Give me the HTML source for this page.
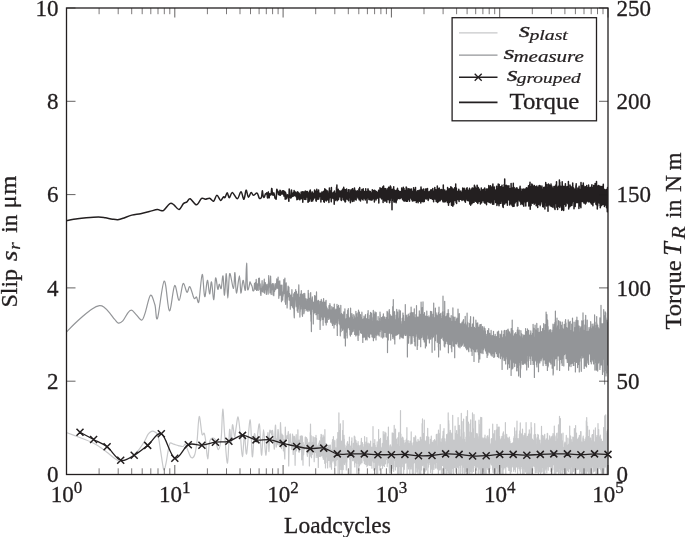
<!DOCTYPE html>
<html><head><meta charset="utf-8"><style>
html,body{margin:0;padding:0;background:#fff;}
svg{display:block;will-change:transform;}
text{font-family:"Liberation Serif",serif;fill:#231f20;stroke:#231f20;}
</style></head><body>
<svg width="685" height="537" viewBox="0 0 685 537">
<defs><clipPath id="c"><rect x="66.5" y="8.0" width="541.5" height="466.5"/></clipPath></defs>
<rect width="685" height="537" fill="#fff"/>
<g clip-path="url(#c)" fill="none" stroke-linejoin="round">
<path d="M66.3 432.5C68.5 433.3 75.3 435.8 79.8 437.5C84.3 439.2 89.2 441 93.2 443C97.2 445 100 446.9 103.8 449.7C107.6 452.5 113.5 457.7 116.3 459.6C119 461.5 118.5 461 120.3 460.9C122.1 460.8 124.7 460 127 459C129.3 458 132.1 456.2 134 454.7C135.9 453.2 136.9 452.2 138.7 450C140.4 447.8 142.9 443.9 144.5 441.3C146.1 438.7 146.8 436 148 434.3C149.2 432.6 150.3 431.8 151.5 431.4C152.7 431 153.9 431.3 155 432C156.1 432.7 157.1 432.6 158 435.4C158.9 438.2 159.5 444.1 160.3 448.9C161.1 453.7 162 460.5 162.6 464C163.2 467.5 163.5 470.1 164.1 469.9C164.7 469.7 165.4 466.4 166.1 462.9C166.8 459.4 167.8 452.2 168.5 448.9C169.2 445.6 169.3 443.8 170.2 443C171.1 442.2 172.3 443.8 173.7 444.2C175.1 444.6 176.8 445.2 178.4 445.6C180 446 181.9 446.7 183.1 446.5C184.3 446.3 184.6 443.6 185.4 444.2C186.2 444.8 186.7 447.8 187.7 450C188.7 452.2 190 456.8 191.2 457.6C192.4 458.4 193.7 457.5 194.7 454.7C195.7 451.9 196.3 447.1 197.1 440.7C197.8 434.3 198.4 417.6 199.2 416.5C200 415.4 201.2 431.2 202 434C202.8 436.8 203.6 432.2 204.2 433.3C204.8 434.4 205 436.1 205.6 440.4C206.2 444.6 207 458.7 207.7 458.8C208.4 458.9 208.6 444.3 209.8 441C211 437.7 213.4 437.5 214.8 438.9C216.2 440.3 217.2 449.7 218.3 449.6C219.4 449.5 220.4 444.9 221.2 438.2C221.9 431.5 222.2 409.7 222.8 409.2C223.4 408.7 223.9 426.4 224.7 435.4C225.5 444.4 226.7 463.9 227.5 463C228.3 462.1 229 432.9 229.6 429.7C230.2 426.5 230.6 444.7 231.1 443.9C231.6 443.1 231.9 426 232.5 424.8C233.1 423.6 234 436.2 234.6 436.8C235.2 437.4 235.4 431.6 236 428.3C236.6 425 237.4 416.1 238.1 417C238.8 417.9 239.6 427.4 240.3 434C241 440.6 241.7 456.4 242.4 456.6C243.1 456.8 243.8 435.9 244.5 435.4C245.2 434.9 245.7 456.4 246.6 453.8C247.5 451.2 249.2 419.3 250.2 419.8C251.1 420.3 251.6 454.2 252.3 456.6C253 459 253.7 436.4 254.4 434C255.1 431.6 255.7 444.1 256.5 442.5C257.3 440.9 258.6 422 259.4 424.1C260.2 426.2 260.8 454.3 261.5 455.2C262.2 456.1 262.9 429.7 263.6 429.7C264.3 429.7 265.1 454.7 265.8 455.2C266.5 455.7 267.4 433.2 267.9 432.6C268.4 432 268.7 451.8 269 451.5C269.3 451.3 269.5 434.4 269.7 431.3C270 428.1 270.2 432.7 270.5 432.6C270.7 432.6 270.9 430.4 271.2 430.8C271.4 431.2 271.6 435.1 271.8 435C272.1 434.9 272.3 430 272.5 430.3C272.7 430.6 272.9 434.5 273.1 436.6C273.4 438.8 273.6 441.2 273.8 443.2C274 445.2 274.2 450.6 274.4 448.7C274.6 446.7 274.8 435.4 275 431.6C275.2 427.8 275.4 423.3 275.6 425.8C275.8 428.3 276 444.5 276.2 446.7C276.4 448.9 276.6 439.4 276.8 439C276.9 438.6 277.1 445.8 277.3 444.4C277.5 442.9 277.7 432.2 277.9 430.3C278 428.3 278.2 430.3 278.4 432.6C278.6 434.9 278.8 442.4 278.9 444.3C279.1 446.2 279.3 444.7 279.5 444C279.6 443.2 279.8 443.5 280 439.9C280.2 436.4 280.4 425.4 280.5 422.5L281,432.9 281.5,448.6 282,434.1 282.5,437.1 283,435.6 283.4,450.8 283.9,439.6 284.4,452.3 284.8,459 285.3,427.1 285.7,439.5 286.2,441 286.6,438.4 287,435.7 287.5,438.5 287.9,435.2 288.3,431.6 288.7,465.9 289.1,445.3 289.5,444.2 289.9,434.3 290.3,433.9 290.7,442.5 291.1,443 291.5,449.1 291.8,446.7 292.2,448 292.5,434 292.9,446 293.2,454.5 293.5,441 293.9,436.1 294.2,445.2 294.5,436.6 294.8,442 295.1,465.3 295.4,444.3 295.7,450.9 296,438.5 296.2,434.7 296.5,450.8 296.8,444.5 297.1,442.3 297.3,441.7 297.6,446.5 297.9,429.8 298.1,445.4 298.4,444.6 298.6,452 298.9,450.5 299.1,440 299.4,452.2 299.6,451.3 299.8,444.7 300.1,447.9 300.3,436 300.5,448.3 300.8,442.1 301,446.4 301.2,441.4 301.5,435.8 301.7,459.8 301.9,442.3 302.1,448.2 302.3,436.2 302.5,439 302.8,449.7 303,465.2 303.2,442.6 303.4,449.1 303.6,454.8 303.8,451.1 304,449.8 304.2,449 304.4,447.1 304.6,444.8 304.8,447.5 305,449.2 305.2,437.4 305.4,437 305.6,443.4 305.8,440 306,443.9 306.2,442.4 306.3,439 306.5,437.5 306.7,449.8 306.9,449.9 307.1,455.1 307.3,439 307.4,456.3 307.6,448.3 307.8,448.2 308,446.2 308.2,453 308.3,444.5 308.5,443.3 308.7,450.7 308.9,442.3 309,443.6 309.2,444.8 309.4,465.9 309.5,444.2 309.7,453.5 309.9,447.6 310,456.6 310.2,432.6 310.4,455.1 310.5,424.1 310.7,439.7 310.9,447 311,454.1 311.2,435.7 311.4,455.6 311.5,457.7 311.7,450.6 311.9,454.6 312,451.4 312.2,446 312.3,454.4 312.5,442.4 312.7,447.6 312.8,448.1 313,436.6 313.1,446.6 313.3,437.3 313.4,447 313.6,448.1 313.8,442.9 313.9,443.2 314.1,454.1 314.2,461.7 314.4,448.3 314.5,449.7 314.7,447.2 314.8,437.6 315,452.5 315.1,439.8 315.3,438.7 315.4,448.5 315.6,447.5 315.7,452 315.9,446.6 316,435.4 316.2,457.4 316.3,450.2 316.5,438.4 316.6,451.1 316.8,447.1 316.9,455.4 317.1,444.9 317.2,450.7 317.4,446.9 317.5,451.1 317.7,457.6 317.8,448.9 318,448.3 318.1,446.3 318.3,467.4 318.4,458.1 318.5,451 318.7,455.2 318.8,443.2 319,444.4 319.1,451.4 319.3,454.4 319.4,456.4 319.5,440.8 319.7,447.8 319.8,448.1 320,447.9 320.1,451.4 320.3,456.6 320.4,443.7 320.5,449.4 320.7,453.3 320.8,437.1 321,442 321.1,434.3 321.2,442.7 321.4,456 321.5,434.8 321.6,445.1 321.8,445.8 321.9,443.6 322.1,453.8 322.2,455.2 322.3,438.1 322.5,441.8 322.6,439.9 322.7,454 322.9,457.5 323,445 323.1,435.1 323.3,459.3 323.4,452.1 323.5,441.4 323.7,451.5 323.8,437 323.9,452.1 324.1,459 324.2,445 324.3,444.1 324.5,436.8 324.6,455.4 324.7,463.3 324.9,429.7 325,456 325.1,457.2 325.2,453.5 325.4,443.4 325.5,468 325.6,448.4 325.8,446 325.9,451.7 326,462.5 326.2,443.5 326.3,452.6 326.4,453 326.5,447 326.7,448.5 326.8,450.7 326.9,456.7 327,449.9 327.2,447.7 327.3,449.5 327.4,454.1 327.6,468 327.7,459.4 327.8,451.7 327.9,454.8 328.1,445.4 328.2,451.8 328.3,459.8 328.4,455.1 328.6,449.6 328.7,457.5 328.8,446 328.9,460.5 329,445.3 329.2,445.2 329.3,452.1 329.4,455.8 329.5,455.1 329.7,448.1 329.8,450.8 329.9,447 330,467.1 330.1,454.6 330.3,458.9 330.4,445.1 330.5,450.3 330.6,463.8 330.8,455.3 330.9,449.5 331,457.4 331.1,452 331.2,454.7 331.4,463.7 331.5,469.2 331.6,450.4 331.7,456.4 331.8,462.5 331.9,462.2 332.1,454.6 332.2,442.4 332.3,447.5 332.4,457.5 332.5,439.6 332.7,450.3 332.8,455.3 332.9,452.3 333,452.8 333.1,460.9 333.2,459.4 333.4,436.6 333.5,453.4 333.6,439.4 333.7,453.4 333.8,454.6 333.9,445.6 334.1,442.4 334.2,452.2 334.3,463.3 334.4,442.3 334.5,449 334.6,462.7 334.7,468.3 334.9,440.7 335,451.3 335.1,449.9 335.2,455.6 335.3,453.6 335.4,455 335.5,448.7 335.7,448.9 335.8,447.9 335.9,465.7 336,449.1 336.1,454.4 336.2,456.3 336.3,452 336.4,460.2 336.6,449.4 336.7,455.6 336.8,458.9 336.9,442 337,439.1 337.1,451.5 337.2,459.3 337.3,452.9 337.4,446.6 337.6,458.3 337.7,458.5 337.8,432.5 337.9,438.7 338,433.5 338.1,474.7 338.2,445.4 338.3,453 338.4,449.2 338.5,436.8 338.6,452.9 338.8,434.5 338.9,412.9 339,454.8 339.1,453.5 339.2,438 339.3,456 339.4,430.4 339.5,466.5 339.6,473.5 339.7,450.9 339.8,434.8 339.9,465 340.1,454.9 340.2,461.9 340.3,451.5 340.4,423.8 340.5,456.4 340.6,463.6 340.7,448.7 340.8,448 340.9,469.5 341,447.7 341.1,461.8 341.2,450.9 341.3,464.6 341.4,453.8 341.5,446.7 341.6,441.2 341.8,461.8 341.9,454.8 342,460.1 342.1,488 342.2,449.8 342.3,445.6 342.4,450.3 342.5,442.3 342.6,430.4 342.7,447.2 342.8,432.8 342.9,443 343,463.9 343.1,420.5 343.2,469.6 343.3,463.3 343.4,458.2 343.5,452.5 343.6,456.9 343.7,455.9 343.8,457.6 343.9,445.2 344,435.4 344.1,457.9 344.2,451.7 344.3,439.1 344.4,447.6 344.5,462.1 344.6,464.4 344.7,455.4 344.8,452.6 344.9,462.2 345,445.2 345.1,457.5 345.2,447.5 345.4,448.9 345.5,448.1 345.6,448.4 345.7,451.2 345.8,458.9 345.9,449.5 346,451.9 346.1,466.1 346.2,456.5 346.3,470 346.4,455.6 346.5,446 346.6,454.8 346.7,458.2 346.8,467.5 346.8,450 346.9,457.3 347,462 347.1,442.8 347.2,449.2 347.3,449.4 347.4,447.1 347.5,454.2 347.6,441.7 347.7,455.6 347.8,451.4 347.9,453.7 348,457.6 348.1,455.1 348.2,448 348.3,457.5 348.4,454.6 348.5,452.4 348.6,444.3 348.7,455.7 348.8,450.8 348.9,454 349,453.1 349.1,453.5 349.2,450.4 349.3,451.6 349.4,437 349.5,459.3 349.6,444.8 349.7,449.6 349.8,449.1 349.9,446.5 350,476.6 350.1,453.3 350.2,458 350.3,452.1 350.4,457.9 350.4,446.8 350.5,449.1 350.6,456 350.7,457.2 350.8,446.8 350.9,448.2 351,452.5 351.1,473.3 351.2,445.6 351.3,451.6 351.4,452.1 351.5,441.4 351.6,449.5 351.7,449 351.8,452.6 351.9,437.8 352,448.7 352.1,452.8 352.1,454.4 352.2,457.6 352.3,452.8 352.4,452.7 352.5,453.4 352.6,460.7 352.7,451.3 352.8,452.1 352.9,452.6 353,458.6 353.1,448.4 353.2,449.1 353.3,450.6 353.4,443.4 353.4,455.5 353.5,459.7 353.6,456.8 353.7,452 353.8,448.8 353.9,460.8 354,447.5 354.1,449.3 354.2,451.7 354.3,436.1 354.4,449.6 354.5,456.1 354.6,464.6 354.6,450 354.7,453.9 354.8,466.9 354.9,436.8 355,463 355.1,454 355.2,451.7 355.3,439.7 355.4,456.1 355.5,453.1 355.6,448.5 355.6,462.6 355.7,461.2 355.8,451.9 355.9,454.5 356,440.7 356.1,456.8 356.2,454.7 356.3,461.9 356.4,456.6 356.5,451.7 356.5,450.7 356.6,463.6 356.7,443.4 356.8,472.5 356.9,458.6 357,478.3 357.1,450.2 357.2,451 357.3,446.2 357.3,457.7 357.4,454.7 357.5,458.1 357.6,452 357.7,457.6 357.8,448 357.9,449.1 358,460.3 358.1,441.7 358.1,453.5 358.2,458.7 358.3,458.7 358.4,463.7 358.5,462.5 358.6,450.1 358.7,454.7 358.8,449.1 358.8,470.4 358.9,445.4 359,460.5 359.1,446.1 359.2,464.6 359.3,458.4 359.4,454.3 359.5,464.4 359.5,465.7 359.6,452 359.7,453.6 359.8,458.9 359.9,452.7 360,455.1 360.1,463.8 360.1,459.1 360.2,457.4 360.3,449.3 360.4,445.3 360.5,455.8 360.6,455.3 360.7,458.9 360.8,464 360.8,456.8 360.9,452 361,462.1 361.1,441.7 361.2,447 361.3,462.5 361.4,451.6 361.4,438.4 361.5,456 361.6,453.7 361.7,457.6 361.8,455.8 361.9,455 361.9,443.8 362,462.7 362.1,453.1 362.2,448.1 362.3,451.3 362.4,452.8 362.5,453 362.5,442.7 362.6,454.7 362.7,444.2 362.8,449.3 362.9,452 363,444.3 363,455.5 363.1,453 363.2,454.1 363.3,452.3 363.4,457.7 363.5,452.2 363.6,450.1 363.6,446.9 363.7,452.1 363.8,460.8 363.9,455.1 364,449.1 364.1,453.8 364.1,453.4 364.2,457.8 364.3,456.6 364.4,463.7 364.5,450.9 364.6,461.4 364.6,436.7 364.7,456 364.8,450.2 364.9,454.7 365,458.9 365,458.8 365.1,454.2 365.2,452.5 365.3,453.9 365.4,445 365.5,453.4 365.5,454.2 365.6,455.3 365.7,464.6 365.8,460.4 365.9,454 366,460.8 366,442 366.1,450 366.2,454.6 366.3,451.3 366.4,460.3 366.4,452.7 366.5,448 366.6,443.7 366.7,454.6 366.8,450.1 366.8,437.5 366.9,466.7 367,448.5 367.1,465.8 367.2,456.6 367.3,453.4 367.3,449.1 367.4,464 367.5,460.1 367.6,451.8 367.7,443.9 367.7,452.6 367.8,457.4 367.9,465.4 368,446.5 368.1,453.8 368.1,465.1 368.2,443 368.3,460.5 368.4,450.4 368.5,448.2 368.5,454.1 368.6,454.6 368.7,459.3 368.8,459.8 368.9,446.2 368.9,447.1 369,456.2 369.1,454.4 369.2,453.1 369.3,448.6 369.3,458.8 369.4,464.8 369.5,443.9 369.6,448.7 369.7,461.5 369.7,465.4 369.8,449 369.9,447 370,454.5 370.1,462.8 370.1,454.8 370.2,448.5 370.3,455.8 370.4,449.3 370.4,459.7 370.5,451.9 370.6,441.1 370.7,451.1 370.8,447.6 370.8,465.6 370.9,462.4 371,446.9 371.1,453 371.2,450.6 371.2,458.4 371.3,451.8 371.4,447.9 371.5,462.5 371.5,455.5 371.6,457.2 371.7,459.5 371.8,447.3 371.9,468.2 371.9,449 372,452 372.1,455.8 372.2,454.7 372.2,454.5 372.3,460.6 372.4,447.2 372.5,450.2 372.5,457.8 372.6,458.9 372.7,451.2 372.8,459.6 372.9,443.2 372.9,455.9 373,426.5 373.1,458.9 373.2,457.4 373.2,458 373.3,461 373.4,462.2 373.5,456.1 373.5,458.3 373.6,443.3 373.7,452.1 373.8,447.8 373.9,470.2 373.9,445.5 374,458.3 374.1,454.4 374.2,453.3 374.2,446.8 374.3,450.6 374.4,458.3 374.5,457.2 374.5,446.4 374.6,448 374.7,447.6 374.8,450.8 374.8,439.5 374.9,451.6 375,461.8 375.1,462.5 375.1,455.7 375.2,445.3 375.3,455.5 375.4,457.7 375.4,469 375.5,459.1 375.6,454.2 375.7,447.6 375.8,466.2 375.8,462.3 375.9,454.8 376,447.5 376.1,461.7 376.1,449.6 376.2,453.8 376.3,454.1 376.4,475.2 376.4,461.3 376.5,456 376.6,452.1 376.6,449 376.7,468.8 376.8,448.5 376.9,454 376.9,453.2 377,471.1 377.1,446.5 377.2,441.8 377.2,464.7 377.3,464.7 377.4,463.5 377.5,447 377.5,459 377.6,480.9 377.7,462.5 377.8,462.6 377.8,455.4 377.9,451.5 378,445.2 378.1,458.6 378.1,455.3 378.2,448.9 378.3,448.9 378.4,456.6 378.4,461.3 378.5,447.3 378.6,452.7 378.6,429.6 378.7,454.1 378.8,461.6 378.9,463.1 378.9,458.1 379,465.2 379.1,452.9 379.2,458.5 379.2,449 379.3,461.6 379.4,455.3 379.5,439.6 379.5,452.4 379.6,453.1 379.7,457.5 379.7,452.8 379.8,453.7 379.9,470.1 380,456.7 380,458.4 380.1,462.5 380.2,456 380.3,456.7 380.3,466.7 380.4,450.9 380.5,438.4 380.5,448.3 380.6,449.9 380.7,449.2 380.8,447.6 380.8,446.9 380.9,463.3 381,462.3 381,451.4 381.1,462.1 381.2,465.3 381.3,447.9 381.3,452.1 381.4,457.9 381.5,463.5 381.5,451.9 381.6,455 381.7,448.6 381.8,451.4 381.8,450.9 381.9,452.1 382,452.9 382,463 382.1,456.7 382.2,449.3 382.3,460.8 382.3,443.6 382.4,447.4 382.5,458.4 382.5,468.3 382.6,459 382.7,463.5 382.8,446.6 382.8,443 382.9,454.6 383,445.8 383,455.2 383.1,463.4 383.2,431.5 383.3,445.1 383.3,447.4 383.4,452.5 383.5,457.9 383.5,454.7 383.6,465.4 383.7,434.5 383.8,454.9 383.8,450.8 383.9,453.2 384,455.9 384,446 384.1,453.9 384.2,442.9 384.2,463.1 384.3,462.4 384.4,466.4 384.5,462 384.5,449.8 384.6,455.9 384.7,455.2 384.7,445.5 384.8,452.5 384.9,457 384.9,432.1 385,452.4 385.1,450.8 385.2,461.9 385.2,443 385.3,450.1 385.4,463.8 385.4,461.8 385.5,463.7 385.6,452.9 385.6,446.6 385.7,447.4 385.8,455.8 385.8,445.8 385.9,433 386,450.4 386.1,458.1 386.1,449.2 386.2,455.8 386.3,454.8 386.3,454.4 386.4,457.5 386.5,447.2 386.5,450 386.6,440.5 386.7,459.4 386.7,451.2 386.8,451 386.9,455.6 387,454.7 387,449 387.1,456 387.2,466.6 387.2,459.4 387.3,451.7 387.4,444 387.4,463.4 387.5,449.3 387.6,436.9 387.6,463 387.7,442.8 387.8,454.7 387.8,445.4 387.9,445.7 388,449.5 388,448.8 388.1,454.1 388.2,455.9 388.3,454.8 388.3,451.2 388.4,427 388.5,462.3 388.5,448.4 388.6,440 388.7,457.1 388.7,453.5 388.8,445.8 388.9,449.5 388.9,450.6 389,451.9 389.1,463.7 389.1,454.7 389.2,454.3 389.3,453.4 389.3,467.5 389.4,471.3 389.5,454.5 389.5,472.2 389.6,460 389.7,464.2 389.7,472.9 389.8,467.1 389.9,467.2 389.9,451.1 390,464.4 390.1,455.2 390.1,447.6 390.2,445 390.3,455.1 390.3,465.7 390.4,465.9 390.5,444.9 390.5,453.7 390.6,445.8 390.7,467 390.7,449.5 390.8,472.9 390.9,467 390.9,453.5 391,452 391.1,449.3 391.1,452.6 391.2,469.1 391.3,468.8 391.3,457.6 391.4,450.5 391.5,463 391.5,447.7 391.6,448.4 391.7,470.8 391.7,446.8 391.8,456.8 391.9,452 391.9,448.5 392,450.4 392.1,459.4 392.1,451.2 392.2,432.9 392.3,444.3 392.3,468.2 392.4,447.7 392.5,448.9 392.5,446.8 392.6,451.6 392.7,458.3 392.7,440.1 392.8,461.7 392.9,457.2 392.9,451.3 393,455.3 393.1,465.6 393.1,433.3 393.2,448 393.3,448.9 393.3,452.3 393.4,463.7 393.5,462 393.5,446.4 393.6,471.4 393.7,464.1 393.7,465.8 393.8,455.4 393.9,466.8 393.9,451 394,434.9 394,438.8 394.1,452.8 394.2,456.7 394.2,425.4 394.3,443.4 394.4,451.8 394.4,450.8 394.5,446.6 394.6,446.9 394.6,449 394.7,460.5 394.8,456.3 394.8,455.6 394.9,447.9 395,458.6 395,457.5 395.1,450.6 395.2,447.5 395.2,442.3 395.3,447.2 395.3,462.8 395.4,469.9 395.5,445.7 395.5,429.1 395.6,441.3 395.7,447.2 395.7,454 395.8,452.1 395.9,464.1 395.9,457.1 396,448.1 396.1,465.3 396.1,451.5 396.2,453.4 396.2,444.8 396.3,454.1 396.4,439.1 396.4,458.7 396.5,454 396.6,466.7 396.6,464.4 396.7,452.3 396.8,460.1 396.8,453.7 396.9,458.9 397,444.8 397,449.1 397.1,448.2 397.1,452 397.2,451.9 397.3,446.3 397.3,451.1 397.4,462.5 397.5,454.8 397.5,446.7 397.6,480.3 397.7,470.5 397.7,461 397.8,437.8 397.8,452.5 397.9,458.2 398,459.9 398,454.4 398.1,438.6 398.2,458.2 398.2,461.2 398.3,449.7 398.4,443.1 398.4,458 398.5,465.2 398.5,455.7 398.6,447 398.7,433 398.7,445.3 398.8,449.9 398.9,483.5 398.9,462.6 399,463.9 399,432.4 399.1,458.5 399.2,446 399.2,454.7 399.3,463.9 399.4,456.3 399.4,466.3 399.5,451.6 399.5,460.5 399.6,454.6 399.7,450.9 399.7,449.4 399.8,456.2 399.9,450.2 399.9,460.9 400,454.7 400,446.3 400.1,455.8 400.2,458 400.2,459.2 400.3,458.4 400.4,479.3 400.4,447.5 400.5,410.5 400.5,453.4 400.6,466 400.7,465.1 400.7,446.8 400.8,457.5 400.9,434.1 400.9,469.7 401,450 401,453.1 401.1,462.7 401.2,457 401.2,450.4 401.3,439.6 401.4,466 401.4,445.9 401.5,458.2 401.5,474.2 401.6,438.7 401.7,455.7 401.7,444.8 401.8,465.2 401.8,466.8 401.9,449.8 402,460.5 402,461.7 402.1,455.9 402.2,450.2 402.2,462.4 402.3,466.7 402.3,452 402.4,437 402.5,457.2 402.5,442.1 402.6,456 402.6,442 402.7,445.9 402.8,463 402.8,458.6 402.9,463.6 402.9,444.8 403,440.6 403.1,437.9 403.1,448.1 403.2,461.1 403.3,461.4 403.3,453.9 403.4,453.3 403.4,449.6 403.5,452.9 403.6,443.3 403.6,473.5 403.7,471.5 403.7,445.9 403.8,444.8 403.9,462.7 403.9,440.4 404,447.1 404,453 404.1,462.7 404.2,445.6 404.2,456.7 404.3,461.4 404.3,453.6 404.4,469.3 404.5,457.4 404.5,454.1 404.6,448.1 404.6,457.3 404.7,459.3 404.8,455.8 404.8,445.6 404.9,460.3 404.9,458 405,463.2 405.1,455.3 405.1,449 405.2,447 405.2,443.1 405.3,450.8 405.4,458.5 405.4,443.1 405.5,462.2 405.5,456.6 405.6,452.5 405.7,458 405.7,451.1 405.8,449 405.8,462.9 405.9,448.9 406,454 406,440.1 406.1,450.7 406.1,448.1 406.2,445.9 406.3,451.4 406.3,454.7 406.4,456.7 406.4,459.6 406.5,451.2 406.5,461.7 406.6,451.7 406.7,444.5 406.7,438.3 406.8,448.3 406.8,455.4 406.9,427.7 407,453.9 407,469.8 407.1,454.3 407.1,477.8 407.2,452.6 407.3,462.6 407.3,455.9 407.4,464.6 407.4,441 407.5,443.4 407.6,451.7 407.6,442.3 407.7,462.2 407.7,461.1 407.8,452.1 407.8,459.9 407.9,445.1 408,455.8 408,454.8 408.1,451.5 408.1,450.4 408.2,440.6 408.3,451 408.3,466.2 408.4,454.7 408.4,457.3 408.5,468.9 408.5,458.8 408.6,465.8 408.7,456.5 408.7,453.7 408.8,451.9 408.8,452.3 408.9,460.7 408.9,459.8 409,443.7 409.1,445.4 409.1,459.4 409.2,461.3 409.2,447.1 409.3,456.2 409.4,466.6 409.4,461.3 409.5,461.7 409.5,449.5 409.6,448.7 409.6,443.9 409.7,464.2 409.8,454 409.8,487.7 409.9,445.7 409.9,448.4 410,441.1 410,448.8 410.1,461.1 410.2,447.4 410.2,451.2 410.3,448.2 410.3,461.9 410.4,450.3 410.4,449.9 410.5,458.9 410.6,463 410.6,447.2 410.7,448.2 410.7,448.7 410.8,441 410.8,465.6 410.9,443.3 411,469 411,462.6 411.1,453.1 411.1,464.5 411.2,431.9 411.2,457.2 411.3,456.7 411.4,466.2 411.4,447.5 411.5,456.9 411.5,443 411.6,455.1 411.6,461.1 411.7,462.4 411.8,452.8 411.8,457.5 411.9,460.3 411.9,449.3 412,454.3 412,450.4 412.1,447.2 412.2,459.3 412.2,455.8 412.3,446.5 412.3,473.3 412.4,447.2 412.4,460.2 412.5,451.4 412.5,457.3 412.6,449.5 412.7,458.7 412.7,458.5 412.8,452.1 412.8,445.2 412.9,446.1 412.9,469.9 413,452.4 413.1,468.5 413.1,443.2 413.2,449.4 413.2,442.7 413.3,480.1 413.3,448 413.4,444.8 413.4,460.6 413.5,456.9 413.6,454.9 413.6,453 413.7,448.2 413.7,463.3 413.8,437.5 413.8,452 413.9,454.1 414,439.2 414,439.7 414.1,462.2 414.1,457.3 414.2,446.5 414.2,462.6 414.3,437.9 414.3,449.9 414.4,458.5 414.5,455.7 414.5,449.2 414.6,453.4 414.6,455.3 414.7,456.6 414.7,443.6 414.8,453.7 414.8,453.7 414.9,453.5 414.9,450.9 415,451.9 415.1,449.5 415.1,452.5 415.2,455.7 415.2,451.9 415.3,450.9 415.3,473.6 415.4,465.2 415.4,435.8 415.5,451.4 415.6,455.7 415.6,454.5 415.7,436.5 415.7,458.9 415.8,456.5 415.8,452.9 415.9,441.7 415.9,440.3 416,465.8 416.1,450.8 416.1,454.7 416.2,467.7 416.2,442.5 416.3,457.2 416.3,454.7 416.4,453.5 416.4,451.1 416.5,456.7 416.5,456.4 416.6,456.3 416.7,446.8 416.7,464.3 416.8,472.1 416.8,442.2 416.9,444.2 416.9,454.3 417,459.4 417,462.8 417.1,460.5 417.1,445.8 417.2,461.8 417.3,452.6 417.3,465 417.4,448 417.4,458.6 417.5,451.2 417.5,442.5 417.6,444.3 417.6,457.9 417.7,453 417.7,446 417.8,456 417.8,461.2 417.9,452.5 418,439.4 418,487.8 418.1,451 418.1,472.3 418.2,462.7 418.2,442.5 418.3,465.6 418.3,460 418.4,453.6 418.4,463.4 418.5,461.5 418.5,448.7 418.6,449.3 418.7,456.8 418.7,467.9 418.8,457.2 418.8,455 418.9,463.5 418.9,462.4 419,452.9 419,460.1 419.1,441 419.1,459.9 419.2,449 419.2,453.8 419.3,465.6 419.4,469.6 419.4,446.5 419.5,454.8 419.5,455.3 419.6,457 419.6,475.7 419.7,453.8 419.7,448.9 419.8,441.4 419.8,468.1 419.9,460.9 419.9,447.5 420,459.6 420,454.7 420.1,442.6 420.2,454.3 420.2,451.8 420.3,453.5 420.3,437.4 420.4,450.1 420.4,451.1 420.5,451.2 420.5,445.1 420.6,437.3 420.6,461.8 420.7,467.1 420.7,458.9 420.8,483.1 420.8,451.1 420.9,449.4 420.9,445.4 421,453 421.1,461.4 421.1,449.8 421.2,462.7 421.2,452.1 421.3,446.7 421.3,454.8 421.4,462 421.4,457.6 421.5,470 421.5,469.4 421.6,457.7 421.6,449.1 421.7,439.5 421.7,450.1 421.8,463.7 421.8,460 421.9,448.9 421.9,449.8 422,449.8 422.1,465.7 422.1,423.5 422.2,462.4 422.2,439.9 422.3,465.2 422.3,461 422.4,443.9 422.4,438.7 422.5,465.2 422.5,418.9 422.6,448.6 422.6,449.1 422.7,454.7 422.7,461.3 422.8,460.7 422.8,457.9 422.9,460.7 422.9,449.4 423,450.9 423,452 423.1,437.7 423.1,456.2 423.2,437.9 423.3,458.5 423.3,443.3 423.4,462.9 423.4,435.9 423.5,433.5 423.5,443.8 423.6,450.1 423.6,449.4 423.7,465.4 423.7,464.4 423.8,449.7 423.8,460.9 423.9,471.3 423.9,447.8 424,452.8 424,462.8 424.1,455.9 424.1,442.9 424.2,466.7 424.2,473.8 424.3,420.2 424.3,448.4 424.4,455.1 424.4,456 424.5,453.5 424.5,449.6 424.6,459.4 424.6,456.7 424.7,446.7 424.7,463.3 424.8,470.5 424.9,454.7 424.9,458.9 425,441.1 425,456.5 425.1,471.6 425.1,443.2 425.2,451.8 425.2,470.3 425.3,455.1 425.3,451.6 425.4,444.8 425.4,448.7 425.5,462 425.5,462.5 425.6,454 425.6,462.4 425.7,444.4 425.7,446.2 425.8,452.6 425.8,452.7 425.9,461.8 425.9,445.7 426,448.2 426,454.2 426.1,457.5 426.1,441.9 426.2,448.7 426.2,461 426.3,455.7 426.3,440.2 426.4,455.1 426.4,469.9 426.5,467.8 426.5,457.5 426.6,455.2 426.6,442.7 426.7,440.5 426.7,436.7 426.8,449.7 426.8,455.4 426.9,445.4 426.9,451.7 427,462.2 427,447.3 427.1,455.5 427.1,449.7 427.2,451.4 427.2,462.6 427.3,453.1 427.3,451.2 427.4,456.5 427.4,455 427.5,448.1 427.5,441.6 427.6,463.1 427.6,455 427.7,428.3 427.7,452.7 427.8,453.5 427.8,453.9 427.9,458.2 427.9,478.4 428,454 428.1,462.7 428.1,448.9 428.2,455.7 428.2,461 428.3,463.1 428.3,461.2 428.4,449.7 428.4,459 428.5,459.9 428.5,467.1 428.6,453.3 428.6,453.1 428.7,437.2 428.7,456.4 428.8,447.4 428.8,446.5 428.9,452.2 428.9,451.3 429,452.3 429,458.5 429.1,452.2 429.1,461.9 429.1,454.1 429.2,456.1 429.2,448.4 429.3,462.4 429.3,444.6 429.4,461.1 429.4,449.8 429.5,445.3 429.5,462.2 429.6,449.3 429.6,453.1 429.7,453.2 429.7,454.4 429.8,455.9 429.8,455.8 429.9,459.7 429.9,452.4 430,464.5 430,459.8 430.1,453.9 430.1,457.6 430.2,443.8 430.2,463 430.3,460.3 430.3,463.1 430.4,439.3 430.4,447.1 430.5,447.5 430.5,458.2 430.6,472.6 430.6,460.6 430.7,444.8 430.7,457.2 430.8,441.8 430.8,452.1 430.9,445.3 430.9,454.4 431,469.6 431,440.2 431.1,450.8 431.1,449.2 431.2,457.7 431.2,451.2 431.3,436.1 431.3,448.9 431.4,463.4 431.4,455.4 431.5,453.3 431.5,456.3 431.6,447.4 431.6,443.5 431.7,460.3 431.7,462.7 431.8,466.2 431.8,462.2 431.9,462.4 431.9,452 432,467.5 432,455.1 432.1,456.6 432.1,457 432.2,464 432.2,468.4 432.3,463.4 432.3,481.1 432.4,447.6 432.4,442.4 432.4,448.8 432.5,468.5 432.5,448 432.6,451 432.6,471.9 432.7,460.9 432.7,451.2 432.8,450.9 432.8,464.8 432.9,447.9 432.9,455.1 433,462.4 433,443.5 433.1,464.3 433.1,450.9 433.2,443.9 433.2,457.1 433.3,460.6 433.3,440.5 433.4,466.3 433.4,442.5 433.5,450.1 433.5,459.3 433.6,462.7 433.6,449.6 433.7,457.4 433.7,466.9 433.8,457.4 433.8,455.5 433.9,453.7 433.9,469.4 434,451 434,459.3 434,450.6 434.1,462.5 434.1,461.1 434.2,444.9 434.2,454.7 434.3,455.8 434.3,458.2 434.4,450.5 434.4,451.7 434.5,450 434.5,454.5 434.6,463.8 434.6,439.6 434.7,451 434.7,455.5 434.8,456.5 434.8,454.4 434.9,454.3 434.9,459 435,444.7 435,445.6 435.1,457.7 435.1,460.4 435.2,440.9 435.2,458.3 435.2,448.6 435.3,457.4 435.3,454.9 435.4,451.3 435.4,468.1 435.5,459.8 435.5,453.8 435.6,464.1 435.6,453.1 435.7,445.3 435.7,462.9 435.8,445.7 435.8,440.9 435.9,446.3 435.9,462.7 436,457.4 436,443.9 436.1,443.3 436.1,456.3 436.2,444.1 436.2,448.2 436.2,467.9 436.3,448.9 436.3,434.7 436.4,462.8 436.4,443.6 436.5,456.2 436.5,439.8 436.6,456.4 436.6,439.8 436.7,457 436.7,457.3 436.8,444.8 436.8,451.6 436.9,460.3 436.9,451.9 437,444.8 437,453.1 437.1,434.2 437.1,462.4 437.1,435.7 437.2,446.1 437.2,445.2 437.3,449.7 437.3,449.3 437.4,446.9 437.4,457.1 437.5,455.3 437.5,458.5 437.6,454 437.6,469.1 437.7,454.7 437.7,449.1 437.8,458.4 437.8,461.5 437.9,461.9 437.9,460.3 437.9,453.4 438,460.1 438,465.3 438.1,449 438.1,450.1 438.2,462.3 438.2,451.8 438.3,456.1 438.3,454.3 438.4,476.3 438.4,458 438.5,430.2 438.5,458.2 438.6,462.5 438.6,450.3 438.6,460.4 438.7,448.7 438.7,463.7 438.8,444.1 438.8,447.8 438.9,457.2 438.9,433.4 439,457.2 439,444.5 439.1,455.2 439.1,440.4 439.2,440 439.2,447.5 439.3,465.8 439.3,448 439.3,460.3 439.4,459.3 439.4,460.2 439.5,446.5 439.5,464 439.6,470 439.6,457.2 439.7,443.7 439.7,449.4 439.8,468 439.8,443.3 439.9,455.5 439.9,459.8 439.9,450 440,457.6 440,449.9 440.1,466 440.1,452.5 440.2,424.5 440.2,461.4 440.3,467.7 440.3,447.4 440.4,456 440.4,453.2 440.5,441.8 440.5,457 440.6,455.7 440.6,457.3 440.6,461.1 440.7,454.2 440.7,456.8 440.8,449.2 440.8,457.1 440.9,469.8 440.9,444 441,448.1 441,445.3 441.1,446.5 441.1,459.4 441.1,456.7 441.2,446 441.2,460 441.3,445.8 441.3,447.1 441.4,473.3 441.4,445.5 441.5,454.6 441.5,457.4 441.6,459.3 441.6,454.1 441.7,464.2 441.7,442.1 441.7,452.9 441.8,439.1 441.8,459.8 441.9,462.7 441.9,456.2 442,455.8 442,459.4 442.1,438.6 442.1,454.1 442.2,461.9 442.2,453.2 442.2,448.7 442.3,449.1 442.3,455.1 442.4,450.6 442.4,457.6 442.5,447.1 442.5,446.1 442.6,449.7 442.6,465.5 442.7,453.1 442.7,443.6 442.7,451.6 442.8,435.8 442.8,448 442.9,449.9 442.9,448.3 443,436.7 443,448 443.1,431.4 443.1,443.5 443.2,453.6 443.2,436 443.2,464.7 443.3,446.5 443.3,452.4 443.4,446 443.4,456.4 443.5,442.9 443.5,471.1 443.6,447.7 443.6,436.1 443.7,459.8 443.7,443.6 443.7,444.8 443.8,475 443.8,444.6 443.9,467.6 443.9,437.7 444,428.6 444,460.4 444.1,461.4 444.1,450.7 444.2,478 444.2,448.6 444.2,471 444.3,467 444.3,451.6 444.4,446.3 444.4,454.2 444.5,463.2 444.5,456.3 444.6,444.2 444.6,474.6 444.6,444.6 444.7,448.4 444.7,451.7 444.8,459.4 444.8,464.3 444.9,452.7 444.9,438.9 445,449 445,459.2 445.1,467.9 445.1,454.8 445.1,456.5 445.2,445.1 445.2,447.2 445.3,455.5 445.3,441.6 445.4,447.4 445.4,448.2 445.5,460.6 445.5,451 445.5,468.4 445.6,453.5 445.6,464 445.7,465.5 445.7,449.8 445.8,448.5 445.8,453.3 445.9,461.4 445.9,461.3 445.9,448.8 446,453.1 446,448.5 446.1,448.5 446.1,462.5 446.2,454 446.2,475 446.3,447.3 446.3,448 446.3,475.6 446.4,444.8 446.4,455.8 446.5,457.5 446.5,456 446.6,434.5 446.6,466.3 446.7,447.7 446.7,463 446.7,437.6 446.8,459.7 446.8,474.1 446.9,444 446.9,464.4 447,458.4 447,470.7 447.1,453.5 447.1,458.2 447.1,450.3 447.2,455.6 447.2,448.8 447.3,463.2 447.3,458.3 447.4,451.3 447.4,446.4 447.5,441 447.5,453.6 447.5,456.3 447.6,455.9 447.6,446.8 447.7,443.1 447.7,455.5 447.8,433.5 447.8,460.5 447.9,456.6 447.9,439.5 447.9,445.5 448,446.3 448,470.6 448.1,446.7 448.1,470.3 448.2,441.8 448.2,447 448.2,412.9 448.3,472.9 448.3,451.9 448.4,447.4 448.4,440.9 448.5,463.4 448.5,447.1 448.6,462.1 448.6,451.8 448.6,467.9 448.7,420.6 448.7,459.6 448.8,468.2 448.8,469.7 448.9,423.8 448.9,445.4 449,466.3 449,448.7 449,460.6 449.1,470.3 449.1,449.4 449.2,449.1 449.2,502.1 449.3,445.3 449.3,461.2 449.3,451.3 449.4,444.4 449.4,468.5 449.5,460.6 449.5,455.2 449.6,447 449.6,443.7 449.6,454.5 449.7,465.4 449.7,441.8 449.8,461.1 449.8,466.7 449.9,450.1 449.9,456.3 450,452.1 450,468 450,457.9 450.1,432.4 450.1,455.2 450.2,432.7 450.2,479 450.3,440.9 450.3,447.3 450.3,430.3 450.4,443.3 450.4,452.4 450.5,455.2 450.5,452.3 450.6,437.4 450.6,479.2 450.6,453.1 450.7,442.3 450.7,449.2 450.8,450.3 450.8,457.5 450.9,450.3 450.9,460.7 451,468.9 451,432.9 451,468.5 451.1,445.4 451.1,457.4 451.2,470.7 451.2,477.8 451.3,443.5 451.3,458.6 451.3,448.3 451.4,461.6 451.4,463.8 451.5,455.5 451.5,442.8 451.6,464.9 451.6,446.1 451.6,458.8 451.7,440.7 451.7,476.1 451.8,474.2 451.8,455.3 451.9,457.4 451.9,451.4 451.9,462.6 452,466.2 452,441 452.1,457.6 452.1,457.8 452.2,433.5 452.2,445.7 452.2,462.9 452.3,458.7 452.3,440.2 452.4,457.2 452.4,465.1 452.5,465.4 452.5,453.9 452.5,452.8 452.6,468.4 452.6,454.2 452.7,461.3 452.7,415.3 452.8,456.6 452.8,439.4 452.8,448.6 452.9,461.1 452.9,461.7 453,457.2 453,446.5 453.1,448.6 453.1,468.4 453.1,450.8 453.2,441.7 453.2,454.5 453.3,470 453.3,472.1 453.4,460.9 453.4,455.7 453.4,459.4 453.5,456.7 453.5,463.7 453.6,475.9 453.6,455.6 453.7,454.1 453.7,455.3 453.7,444.6 453.8,452.1 453.8,444.9 453.9,444.2 453.9,440.1 454,458 454,458.7 454,464.5 454.1,445.6 454.1,449.5 454.2,440.5 454.2,460.9 454.2,444.8 454.3,450.9 454.3,451.3 454.4,445.1 454.4,443.4 454.5,448.3 454.5,452.8 454.5,446.9 454.6,454.7 454.6,452.7 454.7,456 454.7,467.5 454.8,447.8 454.8,447.9 454.8,452.7 454.9,449.8 454.9,458.2 455,446.4 455,455.4 455.1,426.2 455.1,451.3 455.1,456.3 455.2,450.1 455.2,445.2 455.3,455.1 455.3,467.8 455.3,436.9 455.4,455.5 455.4,463 455.5,456.4 455.5,435 455.6,450.6 455.6,446.9 455.6,454 455.7,466.2 455.7,472.2 455.8,435.2 455.8,445.6 455.9,456.3 455.9,464.1 455.9,462.1 456,433.4 456,452 456.1,458.1 456.1,465.8 456.1,454.2 456.2,447.8 456.2,467.8 456.3,447.8 456.3,454.1 456.4,448.7 456.4,444.9 456.4,462.1 456.5,443.4 456.5,448.1 456.6,449.2 456.6,430.6 456.6,450.1 456.7,436.9 456.7,449.3 456.8,467.6 456.8,463.4 456.9,444.7 456.9,449.1 456.9,465.4 457,464 457,443.5 457.1,445.6 457.1,456.5 457.1,435.4 457.2,450.5 457.2,438.6 457.3,465.4 457.3,457.2 457.4,457.2 457.4,467 457.4,448.6 457.5,454.8 457.5,449.5 457.6,443.6 457.6,446.8 457.6,461.4 457.7,434.5 457.7,443 457.8,446.4 457.8,452.6 457.9,434.2 457.9,449.5 457.9,467.2 458,445.3 458,454.9 458.1,447.9 458.1,456.2 458.1,417.5 458.2,462.5 458.2,447.4 458.3,457.7 458.3,454.3 458.4,450.9 458.4,460.4 458.4,453.6 458.5,451.7 458.5,457.5 458.6,441.9 458.6,446.6 458.6,447.9 458.7,458.4 458.7,468.5 458.8,432.7 458.8,452.5 458.8,457.4 458.9,440.6 458.9,476 459,447.9 459,474.1 459.1,442.3 459.1,462.3 459.1,443.1 459.2,455 459.2,444.2 459.3,455.1 459.3,425.4 459.3,459.3 459.4,440.9 459.4,452.9 459.5,440.8 459.5,438.2 459.5,452.3 459.6,435.1 459.6,429.3 459.7,444.7 459.7,457.7 459.8,465.5 459.8,456.5 459.8,452.6 459.9,452.9 459.9,448.3 460,458.9 460,445.3 460,463.9 460.1,454.7 460.1,453.1 460.2,451.6 460.2,456.3 460.2,450.4 460.3,452.7 460.3,443.9 460.4,458.6 460.4,437 460.4,458 460.5,449.5 460.5,467.6 460.6,454.3 460.6,439.2 460.7,476 460.7,453.8 460.7,442.5 460.8,467.7 460.8,458.6 460.9,471.7 460.9,462.9 460.9,453.4 461,439.7 461,451.8 461.1,462.2 461.1,458.7 461.1,441.1 461.2,440.7 461.2,455.9 461.3,413.4 461.3,458 461.3,457.8 461.4,449.6 461.4,444.7 461.5,444.7 461.5,449.3 461.5,454.1 461.6,448.7 461.6,454.7 461.7,448.1 461.7,449.7 461.8,441.1 461.8,449.6 461.8,442.4 461.9,464.5 461.9,459.4 462,454.2 462,452.9 462,452.5 462.1,421.5 462.1,452 462.2,453.4 462.2,453.6 462.2,465.3 462.3,461.6 462.3,442.4 462.4,449.7 462.4,454.7 462.4,453.1 462.5,454 462.5,465.7 462.6,439.1 462.6,477.5 462.6,446.7 462.7,444.2 462.7,466.8 462.8,459.1 462.8,444.4 462.8,441.8 462.9,459.2 462.9,452 463,440.5 463,458.7 463,462.6 463.1,462.3 463.1,457.6 463.2,453.7 463.2,439.9 463.2,441.9 463.3,454.8 463.3,443 463.4,440 463.4,464.1 463.4,447.3 463.5,433.2 463.5,467.2 463.6,451.9 463.6,419 463.6,465.4 463.7,454.7 463.7,448.3 463.8,448.2 463.8,456.6 463.9,465.6 463.9,435.9 463.9,445.6 464,467.2 464,432.1 464.1,435.6 464.1,454.8 464.1,464 464.2,472.9 464.2,454.9 464.3,446.4 464.3,448.9 464.3,459.5 464.4,458.9 464.4,452.5 464.5,439.3 464.5,443.4 464.5,452.4 464.6,457.1 464.6,445.5 464.7,466.1 464.7,450.1 464.7,453.1 464.8,460.7 464.8,456.7 464.9,456 464.9,471.8 464.9,481.6 465,452.9 465,466.6 465,456.1 465.1,458.1 465.1,443.8 465.2,472.5 465.2,462.1 465.2,455 465.3,442.3 465.3,447.5 465.4,457.8 465.4,458.6 465.4,450.3 465.5,459.3 465.5,450.7 465.6,467.1 465.6,445.3 465.6,458.1 465.7,463.2 465.7,447.3 465.8,453.8 465.8,446.6 465.8,444.7 465.9,457 465.9,437 466,471.4 466,466.2 466,459.3 466.1,454.5 466.1,453.6 466.2,456.3 466.2,452.3 466.2,443.2 466.3,461 466.3,416.5 466.4,448.8 466.4,463.6 466.4,465.5 466.5,465.1 466.5,452.8 466.6,443.4 466.6,469.4 466.6,459.2 466.7,461 466.7,457.8 466.8,444.7 466.8,469.3 466.8,458.8 466.9,454.2 466.9,455.3 467,446.7 467,458.6 467,459.8 467.1,449.4 467.1,470.2 467.1,463.8 467.2,444.5 467.2,478.8 467.3,444.5 467.3,458.7 467.3,466.9 467.4,450.2 467.4,440.3 467.5,410.7 467.5,467.7 467.5,445.9 467.6,465.8 467.6,445.8 467.7,443.1 467.7,460.5 467.7,458.5 467.8,440.9 467.8,454.5 467.9,435.7 467.9,454.6 467.9,449.6 468,444.2 468,450.9 468.1,460.8 468.1,446 468.1,466.2 468.2,446.4 468.2,458.6 468.2,470 468.3,450.5 468.3,458 468.4,453.2 468.4,422 468.4,458.8 468.5,467.1 468.5,440.9 468.6,451.4 468.6,453 468.6,442.6 468.7,447.9 468.7,458.5 468.8,473.2 468.8,455 468.8,460.2 468.9,458.5 468.9,457.7 469,436.9 469,458.8 469,443.4 469.1,458.5 469.1,450 469.1,476.1 469.2,479.1 469.2,455.4 469.3,451.5 469.3,442.7 469.3,443.1 469.4,456.1 469.4,450.5 469.5,460.5 469.5,454.4 469.5,444.5 469.6,458.9 469.6,438.2 469.7,447.5 469.7,431.8 469.7,454.9 469.8,446.6 469.8,452.2 469.8,449.6 469.9,449.8 469.9,442.5 470,479.2 470,454 470,424.1 470.1,443.8 470.1,443.3 470.2,464.2 470.2,454.9 470.2,460.4 470.3,451.1 470.3,448.6 470.3,443.7 470.4,458.7 470.4,452.5 470.5,463.3 470.5,452.7 470.5,465.1 470.6,465.4 470.6,454.9 470.7,419.8 470.7,455.1 470.7,444.2 470.8,449.7 470.8,450.1 470.9,445.9 470.9,450.1 470.9,471.4 471,441.5 471,453.6 471,442.5 471.1,471.3 471.1,465.3 471.2,456.8 471.2,445.6 471.2,461.4 471.3,467.2 471.3,455.4 471.4,459.2 471.4,433.4 471.4,454.3 471.5,461.2 471.5,450.2 471.5,451.4 471.6,470.6 471.6,442.8 471.7,456 471.7,448.6 471.7,454.1 471.8,442.3 471.8,470.3 471.9,473.5 471.9,445.7 471.9,441.5 472,448.8 472,458.8 472,458.2 472.1,441.4 472.1,432.4 472.2,456.6 472.2,448.9 472.2,472.5 472.3,439.4 472.3,454.5 472.3,459.3 472.4,467.9 472.4,455.8 472.5,454.8 472.5,460.8 472.5,412.8 472.6,455.7 472.6,451 472.7,454.3 472.7,444.9 472.7,466.3 472.8,455.6 472.8,453.5 472.8,442.6 472.9,464.7 472.9,443.8 473,450.5 473,441.6 473,449.6 473.1,440.5 473.1,453.8 473.2,445.7 473.2,453.1 473.2,451.2 473.3,455.9 473.3,442.9 473.3,459.4 473.4,440.5 473.4,462.6 473.5,469 473.5,471.4 473.5,451.7 473.6,457.1 473.6,428.8 473.6,458.8 473.7,440.4 473.7,458.3 473.8,440.3 473.8,459.5 473.8,435.6 473.9,447.3 473.9,453.4 474,414.5 474,448.9 474,450.8 474.1,453.5 474.1,458.6 474.1,452.1 474.2,454.6 474.2,447.8 474.3,438.6 474.3,438 474.3,451 474.4,465.4 474.4,454.9 474.4,453 474.5,464.1 474.5,457.3 474.6,455.1 474.6,462.5 474.6,445.6 474.7,455.2 474.7,461.1 474.7,465.5 474.8,452.1 474.8,458.2 474.9,451.9 474.9,453.9 474.9,463.7 475,447.9 475,445.5 475,460.6 475.1,461.2 475.1,446.8 475.2,457.3 475.2,455 475.2,467.4 475.3,456.5 475.3,441.1 475.3,465.3 475.4,446.6 475.4,461.5 475.5,442.6 475.5,447.1 475.5,421.2 475.6,450.9 475.6,447.9 475.7,467.7 475.7,443.8 475.7,456.5 475.8,450.2 475.8,448.7 475.8,467.5 475.9,450.3 475.9,441.6 476,459.9 476,462.1 476,439.6 476.1,460.9 476.1,458.7 476.1,459.2 476.2,461.3 476.2,450.3 476.3,455.1 476.3,454.9 476.3,465.9 476.4,470.2 476.4,450 476.4,448.8 476.5,444.5 476.5,442.8 476.6,450.5 476.6,443.4 476.6,454.2 476.7,433.6 476.7,450.1 476.7,448.7 476.8,462.2 476.8,459.3 476.9,454.8 476.9,456.1 476.9,464.1 477,446.9 477,447.5 477,451.8 477.1,466.7 477.1,450.6 477.1,444 477.2,451.5 477.2,434.4 477.3,442.8 477.3,457.7 477.3,433.9 477.4,437.7 477.4,458 477.4,440.6 477.5,456.7 477.5,463.9 477.6,454.1 477.6,441.7 477.6,441.8 477.7,450.1 477.7,461 477.7,456 477.8,458.8 477.8,467.3 477.9,461.6 477.9,451.3 477.9,461.5 478,459.5 478,448.6 478,444.5 478.1,459.5 478.1,461 478.2,445.1 478.2,466 478.2,456 478.3,457.1 478.3,462.6 478.3,474.2 478.4,439 478.4,455.5 478.5,441.3 478.5,458.9 478.5,456.9 478.6,452.5 478.6,467.9 478.6,451.4 478.7,436.6 478.7,460.5 478.7,455.7 478.8,448.8 478.8,458.1 478.9,462.5 478.9,449.6 478.9,465.8 479,420.1 479,441.1 479,469.1 479.1,447.2 479.1,454.4 479.2,449.7 479.2,467 479.2,455.4 479.3,449.7 479.3,449.2 479.3,424.3 479.4,461.8 479.4,464 479.4,453.6 479.5,454.1 479.5,466.3 479.6,439.7 479.6,446.7 479.6,444.8 479.7,462.9 479.7,460.6 479.7,440.7 479.8,436.7 479.8,434.6 479.9,446.3 479.9,453.7 479.9,447.1 480,452.3 480,458.4 480,450.7 480.1,442.3 480.1,450.9 480.1,473.3 480.2,466.9 480.2,463.1 480.3,468.8 480.3,437.3 480.3,446.5 480.4,459.6 480.4,449.4 480.4,459.1 480.5,456.5 480.5,444 480.6,461.1 480.6,469 480.6,443.5 480.7,417.4 480.7,458.9 480.7,462.2 480.8,430.9 480.8,454.1 480.8,445.1 480.9,456.6 480.9,459.5 481,452.1 481,430.9 481,438 481.1,450.3 481.1,454.2 481.1,445.7 481.2,452.3 481.2,461.7 481.2,448 481.3,474.7 481.3,452.7 481.4,468.6 481.4,445.2 481.4,451.3 481.5,454.9 481.5,458 481.5,449.8 481.6,463.7 481.6,449.6 481.6,464.4 481.7,445.1 481.7,417.5 481.8,456.6 481.8,450.8 481.8,464.4 481.9,447.1 481.9,461.3 481.9,454.6 482,453.3 482,444.5 482,453.3 482.1,473.7 482.1,464.1 482.2,458.9 482.2,437.5 482.2,452.3 482.3,466.3 482.3,453.3 482.3,460.9 482.4,459.4 482.4,460.3 482.4,446.2 482.5,441.9 482.5,446.2 482.6,466.2 482.6,454.8 482.6,438.7 482.7,450.4 482.7,453.1 482.7,464.9 482.8,461.9 482.8,446.9 482.8,439.8 482.9,452.2 482.9,471.8 483,463 483,455.5 483,449.5 483.1,454.9 483.1,465.5 483.1,466.9 483.2,449.2 483.2,444.4 483.2,439.5 483.3,448.2 483.3,450.6 483.4,456.2 483.4,464.4 483.4,460.9 483.5,462 483.5,458.1 483.5,468.4 483.6,454.9 483.6,448.1 483.6,461.3 483.7,454.9 483.7,457.8 483.8,466 483.8,460.3 483.8,438.2 483.9,466 483.9,452.2 483.9,450.3 484,455.7 484,452.6 484,457.4 484.1,474 484.1,453.9 484.1,464 484.2,449.9 484.2,446.1 484.3,465.3 484.3,449.3 484.3,468.5 484.4,458.6 484.4,462 484.4,457.8 484.5,448.1 484.5,455.1 484.5,458.3 484.6,447.6 484.6,457.7 484.7,453.1 484.7,450.5 484.7,460.3 484.8,449.4 484.8,439.1 484.8,437.1 484.9,453.4 484.9,454.3 484.9,451.3 485,451.5 485,435.1 485,455.9 485.1,457.3 485.1,449.9 485.2,463.4 485.2,450 485.2,458.2 485.3,474.8 485.3,452.2 485.3,457.4 485.4,468.2 485.4,451.2 485.4,453.1 485.5,450.6 485.5,459.4 485.5,470.3 485.6,451.1 485.6,456.5 485.7,454 485.7,460.5 485.7,452.2 485.8,451.7 485.8,449.5 485.8,464.3 485.9,444.4 485.9,438.9 485.9,453.7 486,453.4 486,452.3 486,462 486.1,459.8 486.1,457.8 486.2,474.2 486.2,443.9 486.2,467.5 486.3,462.8 486.3,446.4 486.3,454.2 486.4,451.9 486.4,467.6 486.4,451.1 486.5,446.1 486.5,449.7 486.5,457.8 486.6,451.4 486.6,456.8 486.7,442.4 486.7,466.8 486.7,453 486.8,460 486.8,449.9 486.8,456.7 486.9,450.5 486.9,448.8 486.9,460.6 487,453.7 487,436.6 487,439.7 487.1,467.5 487.1,449.2 487.1,453.4 487.2,452 487.2,462.3 487.3,440.5 487.3,467.6 487.3,446.9 487.4,466.5 487.4,461.4 487.4,451.4 487.5,462.6 487.5,451.9 487.5,441.7 487.6,454.5 487.6,460.1 487.6,454.4 487.7,460.1 487.7,458.7 487.8,459.9 487.8,452.9 487.8,435.5 487.9,469.4 487.9,459.3 487.9,457 488,461.8 488,448.3 488,458.6 488.1,449.2 488.1,464.6 488.1,439.2 488.2,468.5 488.2,467 488.2,457.2 488.3,456.2 488.3,457.4 488.4,446.6 488.4,440.8 488.4,450.5 488.5,454.7 488.5,464 488.5,449.7 488.6,451.6 488.6,445.7 488.6,456.3 488.7,456.5 488.7,453.6 488.7,450.6 488.8,459.1 488.8,472.2 488.8,450.7 488.9,445.4 488.9,440.8 489,452.2 489,447.5 489,447.4 489.1,463.4 489.1,437 489.1,457.8 489.2,446.7 489.2,453.2 489.2,448.9 489.3,460.7 489.3,457.5 489.3,451 489.4,471.8 489.4,458.6 489.4,429.1 489.5,450.6 489.5,460.5 489.5,456.2 489.6,442.6 489.6,450.5 489.7,440.5 489.7,466.6 489.7,464.4 489.8,439 489.8,468.6 489.8,458.4 489.9,451.2 489.9,448.3 489.9,456.4 490,464.2 490,448.9 490,460.5 490.1,451.2 490.1,443 490.1,454.2 490.2,458.5 490.2,458.8 490.2,462.5 490.3,456.4 490.3,444.9 490.4,455.7 490.4,460.8 490.4,459.6 490.5,455.8 490.5,462.3 490.5,452.2 490.6,462.5 490.6,456 490.6,452.2 490.7,463 490.7,451.1 490.7,461.8 490.8,452.9 490.8,451 490.8,455.7 490.9,450.5 490.9,444.8 490.9,457.9 491,460 491,452.7 491,448.1 491.1,461.1 491.1,452.6 491.2,449.2 491.2,455.2 491.2,450.7 491.3,454.3 491.3,446.6 491.3,461.2 491.4,447.4 491.4,464.8 491.4,454.3 491.5,445.3 491.5,449 491.5,448.7 491.6,438.6 491.6,439.9 491.6,453 491.7,449.8 491.7,461.8 491.7,463.4 491.8,454.5 491.8,456.6 491.8,455.2 491.9,447.6 491.9,448.5 492,448.7 492,457.3 492,457.4 492.1,454 492.1,453.9 492.1,448.1 492.2,462.1 492.2,445.1 492.2,456.2 492.3,461.8 492.3,442 492.3,463.8 492.4,460.2 492.4,457.6 492.4,465.6 492.5,443.7 492.5,455.2 492.5,466.2 492.6,469.8 492.6,443.9 492.6,454.4 492.7,424.1 492.7,456.9 492.7,456.3 492.8,451.1 492.8,462.7 492.8,457.3 492.9,451.3 492.9,456.4 493,443.8 493,460.9 493,472.3 493.1,460.2 493.1,464.2 493.1,462.6 493.2,453.6 493.2,449 493.2,450.1 493.3,433.8 493.3,439.8 493.3,469.6 493.4,450.3 493.4,454.3 493.4,448 493.5,451.7 493.5,471.9 493.5,454.6 493.6,454.5 493.6,449.4 493.6,441.3 493.7,448.9 493.7,455.6 493.7,464.9 493.8,442.6 493.8,434.1 493.8,463.6 493.9,441.7 493.9,457.3 494,459.4 494,473.3 494,469.7 494.1,452.7 494.1,462.5 494.1,451.8 494.2,463.6 494.2,449.8 494.2,467.8 494.3,459.6 494.3,455.8 494.3,442.6 494.4,446.6 494.4,451.1 494.4,457 494.5,443.2 494.5,448.4 494.5,466 494.6,452.9 494.6,447.5 494.6,450.1 494.7,448.4 494.7,430.5 494.7,436.8 494.8,440.7 494.8,455 494.8,446.8 494.9,455.7 494.9,439.9 494.9,459.3 495,453.3 495,445.1 495,448.8 495.1,460.3 495.1,460 495.1,441.5 495.2,446.8 495.2,471.9 495.2,453.8 495.3,447.7 495.3,453.8 495.4,465.2 495.4,462.3 495.4,456.6 495.5,455.2 495.5,451.9 495.5,452.5 495.6,443.2 495.6,456.8 495.6,455 495.7,453.8 495.7,460.4 495.7,458.4 495.8,459.9 495.8,452.1 495.8,467 495.9,466.4 495.9,454.2 495.9,446.6 496,447.2 496,457.9 496,482.3 496.1,446.1 496.1,440.9 496.1,466.9 496.2,468.2 496.2,442.3 496.2,444 496.3,450 496.3,430 496.3,446.9 496.4,445.6 496.4,450 496.4,446 496.5,443.4 496.5,454.3 496.5,456.3 496.6,449.9 496.6,436.3 496.6,448.3 496.7,453.4 496.7,449.1 496.7,460 496.8,452.1 496.8,462.4 496.8,460.5 496.9,452.8 496.9,455.7 496.9,448.9 497,424.3 497,461.1 497,450.9 497.1,447.6 497.1,447.1 497.2,441.1 497.2,467.3 497.2,445.8 497.3,453.4 497.3,455.5 497.3,456.8 497.4,439.6 497.4,448.8 497.4,465.5 497.5,429 497.5,468.2 497.5,451.9 497.6,447.2 497.6,458.4 497.6,439.3 497.7,461.9 497.7,473.4 497.7,449.9 497.8,474.4 497.8,440.6 497.8,429.9 497.9,465.2 497.9,455.6 497.9,441.1 498,473.6 498,461.8 498,444 498.1,454.6 498.1,446 498.1,465.3 498.2,448.2 498.2,463.5 498.2,445.3 498.3,443.1 498.3,427.1 498.3,444 498.4,444.7 498.4,462.2 498.4,448.6 498.5,439.5 498.5,457 498.5,459.6 498.6,454.9 498.6,461.4 498.6,461.8 498.7,443.8 498.7,449.6 498.7,455.4 498.8,463 498.8,438.7 498.8,461.7 498.9,458.8 498.9,472 498.9,455.8 499,443.1 499,436.1 499,445.9 499.1,459.2 499.1,453.6 499.1,453.2 499.2,427.2 499.2,443 499.2,453.8 499.3,442.8 499.3,467.5 499.3,468.9 499.4,455.7 499.4,463.3 499.4,461.5 499.5,444.9 499.5,462.9 499.5,436.6 499.6,436.5 499.6,445.6 499.6,458.8 499.7,458 499.7,448.1 499.7,454.2 499.8,450.7 499.8,442 499.8,465.2 499.9,470.9 499.9,465.4 499.9,464.9 500,450.3 500,439 500,456.3 500.1,462.8 500.1,439.6 500.1,455.4 500.2,450.1 500.2,448.7 500.2,439.8 500.3,457.4 500.3,456 500.3,453.9 500.4,448.6 500.4,444.4 500.4,469.2 500.5,476.8 500.5,458.9 500.5,445.8 500.6,452.6 500.6,448.2 500.6,446.3 500.7,449.2 500.7,465.6 500.7,465.6 500.8,452.1 500.8,457.1 500.8,455.1 500.9,446.5 500.9,447.5 500.9,461.6 501,445.4 501,467.2 501,458.2 501.1,451.2 501.1,454.5 501.1,442.9 501.2,451.7 501.2,461.1 501.2,462.1 501.3,454.9 501.3,460.5 501.3,449 501.4,457.8 501.4,438.2 501.4,453.9 501.5,455.9 501.5,459.6 501.5,457.9 501.6,446.3 501.6,464.5 501.6,462.1 501.7,461.7 501.7,452.6 501.7,456.3 501.8,464.9 501.8,457.2 501.8,452.6 501.9,459.5 501.9,436.3 501.9,442.7 502,450.6 502,486.1 502,442.7 502.1,464.6 502.1,463.4 502.1,453.5 502.2,463.5 502.2,451.2 502.2,453.7 502.3,453 502.3,457.5 502.3,458.3 502.4,466.9 502.4,438.5 502.4,454.2 502.5,453.2 502.5,445.5 502.5,458.5 502.6,456.5 502.6,443.7 502.6,444.5 502.7,460.8 502.7,474.1 502.7,454.3 502.8,468.7 502.8,440.9 502.8,457.3 502.9,443 502.9,433.7 502.9,449.6 503,476.3 503,468.6 503,446.5 503.1,451.1 503.1,480.7 503.1,449.3 503.2,449.2 503.2,433 503.2,456.8 503.3,439.4 503.3,448.6 503.3,446.5 503.4,447.6 503.4,431.8 503.4,434.7 503.5,459.6 503.5,448 503.5,465.1 503.6,449.3 503.6,457.3 503.6,453.7 503.7,453.8 503.7,467.3 503.7,448.3 503.8,469.2 503.8,460 503.8,468.9 503.9,445.1 503.9,459.9 503.9,457.9 504,450.5 504,443.9 504,455.2 504.1,451.1 504.1,439.3 504.1,454.1 504.2,452.9 504.2,447.1 504.2,441.2 504.3,440.9 504.3,458.5 504.3,453.2 504.4,450.1 504.4,447.2 504.4,454.2 504.5,457.7 504.5,460.5 504.5,442 504.6,450.6 504.6,452.1 504.6,463.3 504.7,464.1 504.7,456.1 504.7,462.6 504.8,452.6 504.8,446.1 504.8,467.7 504.9,460.5 504.9,434.8 504.9,449.3 505,446.7 505,458.7 505,451.3 505.1,456.4 505.1,458.3 505.1,457.6 505.2,447.8 505.2,452.7 505.2,462.4 505.3,447 505.3,467.2 505.3,441.6 505.4,451 505.4,422.6 505.4,448.7 505.5,451.3 505.5,450 505.5,462.9 505.6,450.4 505.6,465.4 505.6,442.3 505.7,451.1 505.7,465.3 505.7,437.4 505.8,474.7 505.8,459.9 505.8,457.3 505.9,436.7 505.9,454.7 505.9,466.3 506,444.1 506,446 506,448 506.1,444.5 506.1,447.2 506.1,452.2 506.2,464.6 506.2,452.8 506.2,450.5 506.3,460.1 506.3,455 506.3,453.6 506.4,441.6 506.4,463.8 506.4,444.9 506.5,448.8 506.5,461.1 506.5,465.6 506.6,455.9 506.6,455.7 506.6,445.3 506.7,434.4 506.7,444.5 506.7,466.7 506.8,457.8 506.8,464.6 506.8,457 506.9,447.9 506.9,445.2 506.9,463 507,447.9 507,455.5 507,450.3 507.1,450.2 507.1,457.1 507.1,443.9 507.2,454.5 507.2,448.3 507.2,454.3 507.3,454.6 507.3,456.8 507.3,463.3 507.4,460.2 507.4,465.9 507.4,442.8 507.5,437.9 507.5,445.1 507.5,461.5 507.6,452.5 507.6,462.2 507.6,457 507.7,463.6 507.7,445.9 507.7,456.9 507.8,454 507.8,463.3 507.8,465.6 507.9,451.5 507.9,457.2 507.9,460.9 508,457.5 508,454.5 508,456.8 508.1,449.6 508.1,454.5 508.1,467.5 508.2,450.7 508.2,443.9 508.2,446 508.3,456.8 508.3,450.8 508.3,454 508.4,463.8 508.4,457.5 508.4,450.5 508.5,451.2 508.5,460.1 508.5,451.1 508.6,447.8 508.6,456.6 508.6,440 508.7,464.4 508.7,452.3 508.7,455.6 508.8,470.5 508.8,438 508.8,444.8 508.9,447 508.9,454.1 508.9,449.8 509,440.7 509,447.1 509,461.9 509.1,449.8 509.1,447.7 509.1,461.4 509.2,453.2 509.2,444.1 509.2,440.9 509.3,442.3 509.3,452.4 509.3,437 509.4,453.9 509.4,460.6 509.4,468.1 509.5,451.3 509.5,459 509.5,439.2 509.6,451.7 509.6,439 509.6,469.5 509.7,451.3 509.7,470.6 509.7,447 509.8,454.2 509.8,469.8 509.8,470.3 509.9,462.8 509.9,459.4 509.9,451.5 510,449.1 510,443.5 510,441.1 510.1,446.9 510.1,465.5 510.1,454.8 510.2,473.2 510.2,444.3 510.2,445.8 510.3,449.1 510.3,455 510.3,443.8 510.4,457.6 510.4,469.4 510.4,453.2 510.5,446.8 510.5,463.2 510.5,459.5 510.6,461.6 510.6,473.3 510.6,446.6 510.7,447.4 510.7,451.9 510.7,473.3 510.8,466 510.8,454.2 510.8,453.4 510.9,451.7 510.9,458.5 510.9,445.5 511,451.2 511,456.7 511,459.5 511.1,459.8 511.1,452.7 511.1,458.1 511.2,448.2 511.2,443.5 511.2,469.1 511.3,458.1 511.3,456.3 511.3,460.4 511.4,449.6 511.4,452.9 511.4,471.6 511.5,453.9 511.5,449.3 511.5,449.1 511.6,443.8 511.6,446.4 511.6,462 511.7,453.2 511.7,452.9 511.7,462.4 511.8,464.8 511.8,458.4 511.8,461 511.9,452.8 511.9,454.8 511.9,451.3 512,458.3 512,452 512,448.3 512.1,449.9 512.1,444.6 512.1,456.2 512.2,451.7 512.2,456.3 512.2,445.9 512.3,455.8 512.3,449 512.3,443.1 512.4,463.6 512.4,460.5 512.4,454.1 512.5,449.7 512.5,449.5 512.5,447.3 512.6,461 512.6,457.5 512.6,448.7 512.7,447.7 512.7,466.7 512.7,447.3 512.8,458.2 512.8,452.7 512.8,450.6 512.9,455.2 512.9,458.7 512.9,461.8 513,442.9 513,445.3 513,452.4 513.1,458.9 513.1,449.2 513.1,451.8 513.2,451.3 513.2,453.8 513.2,467.3 513.3,443.1 513.3,457.2 513.3,454.4 513.4,454.5 513.4,450.5 513.4,452.1 513.5,457.9 513.5,461.9 513.5,456.2 513.6,446.9 513.6,471.3 513.6,450.7 513.7,438.4 513.7,447.6 513.7,466.4 513.8,452.6 513.8,461 513.8,455.5 513.9,460.6 513.9,453.8 513.9,454 514,439 514,444.5 514,453.2 514.1,456.2 514.1,445.5 514.1,436.7 514.2,449.5 514.2,447.5 514.2,469.2 514.3,464.1 514.3,453.3 514.3,446.4 514.4,445.7 514.4,462.3 514.4,452.6 514.5,465.5 514.5,453.1 514.5,458.9 514.6,460.6 514.6,462.3 514.6,427.8 514.7,458.7 514.7,452.2 514.7,451.2 514.8,458 514.8,469.4 514.8,455.5 514.9,461.7 514.9,457.4 514.9,465.4 515,439.6 515,452.2 515,468.4 515.1,441.8 515.1,458.6 515.1,463.7 515.2,449.4 515.2,449.5 515.2,452.8 515.3,449.4 515.3,448.8 515.3,439 515.4,471.9 515.4,461.2 515.4,462.9 515.5,446.9 515.5,452.7 515.5,459.7 515.6,463.4 515.6,452.1 515.6,454.9 515.7,439.7 515.7,456.8 515.7,455.8 515.8,465.7 515.8,453.8 515.8,457.2 515.9,460.8 515.9,461.5 515.9,463.1 516,444.1 516,434.6 516,465.8 516.1,452 516.1,446.5 516.1,456.1 516.2,431 516.2,458 516.2,447.7 516.3,453.9 516.3,449.6 516.3,449.5 516.4,461.3 516.4,466.8 516.4,454.7 516.5,441.3 516.5,451.2 516.5,440.2 516.6,453.6 516.6,457.5 516.6,452.1 516.7,456.2 516.7,443.8 516.7,445.5 516.8,447 516.8,439.4 516.8,456.3 516.9,461.5 516.9,463.9 516.9,439.4 517,421 517,457.4 517,466.9 517.1,462.1 517.1,455.6 517.1,452.6 517.2,442.5 517.2,451.2 517.2,442.3 517.3,452.1 517.3,457.9 517.3,453.8 517.4,446.3 517.4,454.9 517.4,457.7 517.5,461.9 517.5,453.5 517.5,451.4 517.6,455.3 517.6,474 517.6,471.8 517.7,468.9 517.7,461.5 517.7,444.8 517.8,448.2 517.8,461.5 517.8,454.5 517.9,449.9 517.9,465.6 517.9,450.9 518,457.9 518,445 518,444.6 518.1,438.5 518.1,444 518.1,457.4 518.2,459.8 518.2,448.3 518.2,466.4 518.3,451.8 518.3,458.2 518.3,440.3 518.4,452.4 518.4,446.2 518.4,453.1 518.5,459 518.5,464.6 518.5,447.6 518.6,464.7 518.6,452.6 518.6,454.8 518.7,446.6 518.7,445.3 518.7,448.5 518.8,453 518.8,454.8 518.8,455.7 518.9,451.1 518.9,461.4 518.9,462.5 519,457.3 519,450.7 519,455.7 519.1,468.3 519.1,459.6 519.1,453.1 519.2,448.4 519.2,449.7 519.2,468.3 519.3,452.1 519.3,445.6 519.3,463.9 519.4,434.2 519.4,451.2 519.4,446.2 519.5,458.5 519.5,453.9 519.5,449.7 519.6,454.1 519.6,440.8 519.6,453.2 519.7,438.2 519.7,439.3 519.7,430.9 519.8,444.3 519.8,469.9 519.8,470.2 519.9,450.9 519.9,453.7 519.9,438.6 520,471.1 520,460.8 520,459 520.1,441 520.1,459.2 520.1,465.7 520.2,442.8 520.2,440 520.2,442.4 520.3,422.9 520.3,459.2 520.3,449.8 520.4,445.8 520.4,465.6 520.4,473.8 520.5,449.7 520.5,442 520.5,463 520.6,457.5 520.6,442.7 520.6,469.8 520.7,459.7 520.7,445.6 520.7,454.6 520.8,444.5 520.8,444 520.8,435.9 520.9,443.5 520.9,451.7 520.9,433.3 521,454.5 521,468.5 521,448 521.1,454 521.1,445.3 521.1,455 521.2,465.1 521.2,453.4 521.2,460.7 521.3,449.6 521.3,439.4 521.3,452.4 521.4,458.6 521.4,457.1 521.4,455.9 521.5,459.5 521.5,455.1 521.5,465.2 521.6,462.6 521.6,443.9 521.6,446.8 521.7,434.3 521.7,453.8 521.7,453.4 521.8,454.8 521.8,451.4 521.8,456.3 521.9,449.2 521.9,463.3 521.9,448.7 522,454.3 522,461.9 522,445.9 522.1,466.4 522.1,436.9 522.1,449.2 522.2,449.8 522.2,454.5 522.2,454.9 522.3,448 522.3,457.8 522.3,449.3 522.4,455.4 522.4,451.1 522.4,466.9 522.5,457.7 522.5,429.1 522.5,467.1 522.6,493.8 522.6,447 522.6,465.1 522.7,451.5 522.7,455.1 522.7,451.3 522.8,441.2 522.8,468.1 522.8,437.4 522.9,460.6 522.9,465.8 522.9,461.9 523,462.4 523,450.4 523,452.7 523.1,457 523.1,451.3 523.1,451.3 523.2,455.1 523.2,450.4 523.2,466.6 523.3,461.9 523.3,462.5 523.3,460.4 523.4,446 523.4,436.8 523.4,451.9 523.5,451.2 523.5,453.1 523.5,453.8 523.6,441.5 523.6,458.2 523.6,464.4 523.7,446.1 523.7,451.9 523.7,440.8 523.8,468.6 523.8,442.6 523.8,459.2 523.9,474.7 523.9,435.4 523.9,453.7 524,476.5 524,438.3 524,469.3 524.1,454.6 524.1,475.4 524.1,451.2 524.2,449 524.2,456.5 524.2,466.4 524.3,440.9 524.3,451.9 524.3,441.4 524.4,456.1 524.4,457.8 524.4,455.4 524.5,454.7 524.5,461.9 524.5,457.2 524.6,452.3 524.6,444 524.6,460.9 524.7,459.1 524.7,455.2 524.7,449.2 524.8,467 524.8,451.2 524.8,433.4 524.9,449 524.9,467 524.9,461.8 525,455.5 525,453.5 525,466.8 525.1,451.9 525.1,469 525.1,461.1 525.2,462.7 525.2,438.6 525.2,453.7 525.3,454.9 525.3,463.4 525.3,458.8 525.4,467.3 525.4,472.1 525.4,471.3 525.5,456.8 525.5,462.6 525.5,449.8 525.6,454.1 525.6,453.9 525.6,445.7 525.7,460 525.7,448.4 525.7,451.2 525.8,459.1 525.8,443.2 525.8,464 525.9,449.2 525.9,447.1 525.9,450.2 526,433.9 526,451.4 526,451.4 526.1,422.6 526.1,463.7 526.1,462.2 526.2,456.7 526.2,456.8 526.2,471 526.3,452.2 526.3,457.9 526.3,453.8 526.4,460.4 526.4,450.6 526.4,452.7 526.5,446 526.5,448.7 526.5,449.4 526.6,467.9 526.6,438.1 526.6,464 526.7,475.5 526.7,446.5 526.7,449.4 526.8,455.5 526.8,440.6 526.8,462.8 526.9,463.9 526.9,457.9 526.9,460.7 527,465.2 527,468.4 527,456.8 527.1,451.4 527.1,446.2 527.1,446 527.2,451.3 527.2,455.2 527.2,448.7 527.3,440.5 527.3,453.2 527.3,459.1 527.4,451 527.4,440.9 527.4,436.3 527.5,474 527.5,453.3 527.5,467.3 527.6,460.4 527.6,472.4 527.6,453.1 527.7,467.5 527.7,446.8 527.7,453.7 527.8,450.7 527.8,480.5 527.8,455.1 527.9,465.6 527.9,457.3 527.9,461.4 528,448.2 528,458.7 528,451.9 528.1,457.3 528.1,467 528.1,454.7 528.2,466 528.2,457.2 528.2,450.3 528.3,458.8 528.3,453.2 528.3,443.4 528.4,470.9 528.4,460 528.4,445 528.5,434.2 528.5,450.3 528.5,464.8 528.6,470.4 528.6,460.2 528.6,453.4 528.7,458.6 528.7,463.1 528.7,449.4 528.8,453.3 528.8,447.1 528.8,448.7 528.9,447.8 528.9,452.7 528.9,441 529,473.9 529,448.7 529,452.7 529.1,457.8 529.1,450.1 529.1,473.1 529.2,444.9 529.2,466.9 529.2,439.5 529.3,429.8 529.3,440.5 529.3,453.9 529.4,451 529.4,469 529.4,456.6 529.5,458 529.5,447.5 529.5,452.7 529.6,449.6 529.6,459.2 529.6,449.2 529.7,444.5 529.7,458.1 529.7,463.8 529.8,462.5 529.8,463.3 529.8,460.4 529.9,479.1 529.9,453.3 529.9,450.9 530,436.9 530,453.7 530,450.2 530.1,458 530.1,461.2 530.1,457.9 530.2,448.6 530.2,450.6 530.2,441.5 530.3,445.2 530.3,472.6 530.3,434.2 530.4,453.9 530.4,458 530.4,450.8 530.5,467.4 530.5,456.5 530.5,458.8 530.6,438.2 530.6,451.3 530.6,452.3 530.7,441.1 530.7,453.1 530.7,450.7 530.8,447.7 530.8,441.8 530.8,436.6 530.9,448.8 530.9,448.2 530.9,439.6 531,456.7 531,434.8 531,469 531.1,467 531.1,422.6 531.1,448.2 531.2,454.3 531.2,454.1 531.2,452.2 531.3,439.7 531.3,452.5 531.3,461 531.4,460.8 531.4,456.5 531.4,474.4 531.5,441.1 531.5,427.5 531.5,462 531.6,455.8 531.6,452.7 531.6,456.6 531.7,464.8 531.7,458 531.7,472.7 531.8,448.2 531.8,455.4 531.8,450.9 531.9,457.2 531.9,476.1 531.9,452 532,446.8 532,454.1 532,463.6 532.1,448.4 532.1,456.4 532.1,456.1 532.2,476 532.2,460.9 532.2,461.9 532.3,460.4 532.3,455 532.3,445.4 532.4,439.1 532.4,458.7 532.4,458 532.5,459.9 532.5,466.8 532.5,455.6 532.6,471 532.6,448 532.6,442.2 532.7,454.1 532.7,466.8 532.7,446.3 532.8,457.6 532.8,454 532.8,460.1 532.9,440.1 532.9,447.2 532.9,461.7 533,463 533,450.7 533,463.2 533.1,444.6 533.1,446.3 533.1,462.8 533.2,448.6 533.2,462.8 533.2,456.3 533.3,458.5 533.3,454 533.3,461 533.4,444.6 533.4,444.5 533.4,459 533.5,459.7 533.5,460.7 533.5,446.4 533.6,463.6 533.6,465.8 533.6,451.1 533.7,457 533.7,449.2 533.7,455.1 533.8,457 533.8,450.3 533.8,453.7 533.9,454 533.9,457 533.9,459.8 534,454.7 534,449.7 534,459.2 534.1,455.7 534.1,457.6 534.1,434.8 534.2,449.8 534.2,447.1 534.2,456.4 534.3,445.7 534.3,458.8 534.3,452.6 534.4,446.6 534.4,451.1 534.4,464.6 534.5,462.2 534.5,454.9 534.5,453.8 534.6,460.1 534.6,466.6 534.6,452.6 534.7,460.9 534.7,462.4 534.7,423.5 534.8,438.4 534.8,458.6 534.8,463.7 534.9,461.4 534.9,452.7 534.9,448.4 535,468.5 535,454.8 535,462.1 535.1,455.8 535.1,461.1 535.1,459.7 535.2,442.5 535.2,456.7 535.2,472.5 535.3,451.3 535.3,446.7 535.3,466.7 535.4,456.4 535.4,456.6 535.4,443.2 535.5,451.2 535.5,449 535.5,453.7 535.6,445.9 535.6,451.7 535.6,434.7 535.7,454.4 535.7,451.3 535.7,462.8 535.8,472.8 535.8,464.8 535.8,454.7 535.9,458.8 535.9,453 535.9,464.4 536,463.1 536,450.3 536,457.2 536.1,446 536.1,446.6 536.1,462.6 536.2,451.1 536.2,444.8 536.2,465 536.3,450.9 536.3,460.5 536.3,453.8 536.4,459 536.4,455.5 536.4,450.1 536.5,445.6 536.5,458.5 536.5,461.3 536.6,466.2 536.6,448.7 536.6,459.1 536.7,449.8 536.7,470.3 536.7,451.3 536.8,468.3 536.8,444.2 536.8,460.8 536.9,449.4 536.9,459.3 536.9,439.4 537,462.6 537,460.5 537,456.2 537.1,461.3 537.1,472.6 537.1,437.9 537.2,441.8 537.2,455.1 537.2,470.4 537.3,465.2 537.3,447.8 537.3,455.6 537.4,440.7 537.4,454.4 537.4,447.3 537.5,437.3 537.5,449.5 537.5,458.9 537.6,454 537.6,457.1 537.6,466.3 537.7,446.6 537.7,455.4 537.7,458.5 537.8,434.3 537.8,454.2 537.8,453.1 537.9,435.2 537.9,443.1 537.9,455.5 538,458.5 538,436.9 538,449.7 538.1,449 538.1,453.5 538.1,446 538.2,452.4 538.2,460.8 538.2,448.7 538.3,452.9 538.3,456.9 538.3,436.5 538.4,441.8 538.4,435.2 538.4,446 538.5,473.5 538.5,470.3 538.5,446.6 538.6,438 538.6,438.4 538.6,471.2 538.7,451.6 538.7,461.2 538.7,449.5 538.8,468.4 538.8,464.2 538.8,451 538.9,440.8 538.9,454.1 538.9,457.7 539,454.9 539,444.7 539,472.5 539.1,458 539.1,465.8 539.1,454.6 539.2,449.2 539.2,457.5 539.2,458 539.3,466.3 539.3,453.9 539.3,455.6 539.4,454.3 539.4,465.8 539.4,459.7 539.5,449 539.5,442.7 539.5,471.5 539.6,453.8 539.6,456 539.6,459.6 539.7,440.8 539.7,461.2 539.7,460.7 539.8,440 539.8,458.5 539.8,442.8 539.9,464 539.9,467 539.9,450.1 540,447.1 540,455.6 540,446.6 540.1,452.9 540.1,455.9 540.1,460.9 540.2,460.9 540.2,469.9 540.2,452.3 540.3,461.9 540.3,464.2 540.3,448.6 540.4,455.6 540.4,463.2 540.4,454.6 540.5,466.8 540.5,465 540.5,470.2 540.6,458.6 540.6,455.3 540.6,475 540.7,453.8 540.7,448.2 540.7,447 540.8,451.8 540.8,449.2 540.8,462.5 540.9,454.6 540.9,447.3 540.9,451 541,446.9 541,444.6 541,450.1 541.1,443.2 541.1,444.7 541.1,454.2 541.2,453.3 541.2,448.9 541.2,452.1 541.3,461.9 541.3,444.7 541.3,435.5 541.4,441.7 541.4,460.8 541.4,456.7 541.5,453.2 541.5,449.7 541.5,426.4 541.6,443.8 541.6,459.4 541.6,455 541.7,464.9 541.7,435.3 541.7,462.5 541.8,451 541.8,452.4 541.8,472.2 541.9,442.8 541.9,463.9 541.9,463.9 542,468.1 542,438.4 542,466.4 542.1,435.3 542.1,471.6 542.1,441.4 542.2,441.3 542.2,458.9 542.2,450.6 542.3,462.5 542.3,449.3 542.3,446.7 542.4,455.3 542.4,464.8 542.4,446 542.5,447.7 542.5,438.4 542.5,452.8 542.6,467.3 542.6,466.1 542.6,446.6 542.7,449.4 542.7,458.6 542.7,435.4 542.8,463.1 542.8,454.8 542.8,442.6 542.9,459.9 542.9,454.9 542.9,461 543,457 543,457.1 543,457.3 543.1,462 543.1,461.5 543.1,449.3 543.2,454.9 543.2,452.3 543.2,462.9 543.3,461.8 543.3,443.1 543.3,453.8 543.4,453.3 543.4,459.5 543.4,449 543.5,475.1 543.5,448.3 543.5,444.9 543.6,467.9 543.6,459.5 543.6,438.5 543.7,462.4 543.7,447.6 543.7,460.9 543.8,456 543.8,449.8 543.8,466 543.9,461.9 543.9,453.6 543.9,445.2 544,451.5 544,436.1 544,447.8 544.1,449.5 544.1,448.3 544.1,468.1 544.2,464.8 544.2,453.3 544.2,465.5 544.3,448.1 544.3,446.3 544.3,446.5 544.4,452.3 544.4,450.6 544.4,457.1 544.5,473.9 544.5,450.2 544.5,444 544.6,460.1 544.6,456.7 544.6,474 544.7,434.3 544.7,452.9 544.7,445.1 544.8,439.3 544.8,479.4 544.8,455.2 544.9,463.2 544.9,459 544.9,452.7 545,447.2 545,467 545,453.7 545.1,470.5 545.1,454.4 545.1,461 545.2,442.3 545.2,465.4 545.2,450.2 545.3,453.6 545.3,451.2 545.3,445.9 545.4,449.5 545.4,453 545.4,451.7 545.5,449.3 545.5,459.7 545.5,458.4 545.6,452.3 545.6,449 545.6,452.1 545.7,456.9 545.7,469.1 545.7,455.6 545.8,449.4 545.8,451.1 545.8,446.9 545.9,454 545.9,446.3 545.9,467.4 546,440.3 546,446.8 546,461 546.1,457.1 546.1,450.7 546.1,443.7 546.2,454.2 546.2,454 546.2,443.5 546.3,438.8 546.3,441.9 546.3,453.9 546.4,460.9 546.4,454.5 546.4,460.6 546.5,450.4 546.5,465.5 546.5,451.6 546.6,450 546.6,456.4 546.6,448.3 546.7,445.1 546.7,450.3 546.7,448.4 546.8,454.3 546.8,453.1 546.8,472.8 546.9,446.3 546.9,455.1 546.9,447.8 547,458.7 547,455.5 547,458.1 547.1,450.4 547.1,450.1 547.1,444.5 547.2,455 547.2,453.4 547.2,456.6 547.3,462.8 547.3,462 547.3,433.4 547.4,446.2 547.4,446.1 547.4,445.7 547.5,460 547.5,450.3 547.5,456.4 547.6,433.5 547.6,448.4 547.6,464.2 547.7,443.8 547.7,466.7 547.7,459.8 547.8,462.2 547.8,444.8 547.8,462 547.9,452 547.9,461.5 547.9,460.8 548,463.2 548,455.1 548,452.3 548.1,455.3 548.1,443.6 548.1,448.4 548.2,460 548.2,444.3 548.2,468.3 548.3,470.2 548.3,458.4 548.3,452.2 548.4,440.4 548.4,457.1 548.4,461.4 548.5,457.2 548.5,458.1 548.5,461.6 548.6,452.6 548.6,447.6 548.6,460.3 548.7,455.9 548.7,448.4 548.7,458.1 548.8,452.6 548.8,456.9 548.8,463.7 548.9,461.1 548.9,451.4 548.9,454.1 549,460.1 549,457.4 549,452 549.1,465.2 549.1,446.1 549.1,460.3 549.2,451.3 549.2,453.6 549.2,458.9 549.3,452.7 549.3,461.2 549.3,466.7 549.4,456.7 549.4,438.8 549.4,447.5 549.5,460.9 549.5,462.8 549.5,458 549.6,457 549.6,435.9 549.6,456 549.7,452.4 549.7,450.3 549.7,461.2 549.8,463.2 549.8,460.1 549.8,445.1 549.9,459.3 549.9,458.6 549.9,441.3 550,455.4 550,461 550,460.3 550.1,447 550.1,458 550.1,453 550.2,449.1 550.2,455.2 550.2,440.9 550.3,439 550.3,456 550.3,459.6 550.4,444.8 550.4,453.6 550.4,456.3 550.5,457.8 550.5,461.2 550.5,466.7 550.6,456 550.6,444.4 550.6,456.5 550.7,455 550.7,447.3 550.7,453.4 550.8,454.8 550.8,456.4 550.8,449.5 550.9,446.4 550.9,462.9 550.9,453.6 551,452.9 551,471.5 551,464.9 551.1,436.9 551.1,461.2 551.1,458.8 551.2,467.8 551.2,448.3 551.2,459.6 551.3,450.3 551.3,451.5 551.3,449.4 551.4,447.1 551.4,461.2 551.4,442.5 551.5,451.7 551.5,457.8 551.5,448.4 551.6,458.8 551.6,452.6 551.6,444.6 551.7,443.9 551.7,456.6 551.7,470.8 551.8,445.4 551.8,450.1 551.8,446.5 551.9,452.5 551.9,447.6 551.9,453.5 552,475.9 552,446.7 552,443.1 552.1,445.2 552.1,451.5 552.1,449.4 552.2,451.1 552.2,436 552.2,462.1 552.3,454.1 552.3,444.8 552.3,462.5 552.4,450.1 552.4,452.5 552.4,455.2 552.5,470 552.5,454.3 552.5,463.4 552.6,451.6 552.6,467.8 552.6,454.5 552.7,443.9 552.7,469.5 552.7,446.1 552.8,457.9 552.8,457.2 552.8,454.8 552.9,460.2 552.9,462.6 552.9,458 553,453 553,464.8 553,433.5 553.1,460.5 553.1,455.3 553.1,448.6 553.2,446.3 553.2,464.2 553.2,453.6 553.3,460.9 553.3,448.2 553.3,455.8 553.4,439.4 553.4,454.7 553.4,464.7 553.5,455.2 553.5,457.8 553.5,459.3 553.6,462.5 553.6,454.8 553.6,444.6 553.7,464.3 553.7,453.3 553.7,445 553.8,436.9 553.8,442.9 553.8,456.3 553.9,445.1 553.9,462.7 553.9,446.8 554,438.9 554,443.6 554,458.6 554.1,461 554.1,454.2 554.1,451.4 554.2,438.7 554.2,464.9 554.2,452 554.3,452.9 554.3,452 554.3,426 554.4,460.2 554.4,454.8 554.4,491 554.5,455.9 554.5,450.3 554.5,447.6 554.6,471.6 554.6,454.7 554.6,458.8 554.7,452.7 554.7,435 554.7,443 554.8,455.1 554.8,446.5 554.8,445.6 554.9,462.7 554.9,451.5 554.9,464.3 555,453.9 555,470.5 555,463.7 555.1,455.3 555.1,463.6 555.1,466.5 555.2,436.6 555.2,455.7 555.2,444.7 555.3,478.2 555.3,452.7 555.3,465.7 555.4,458 555.4,462.1 555.4,463.9 555.5,457.2 555.5,467.2 555.5,446.1 555.6,445.2 555.6,460.8 555.6,454.5 555.7,465.7 555.7,460.2 555.7,461.1 555.8,466.4 555.8,453.7 555.8,454.9 555.9,452 555.9,476.8 555.9,470.5 556,457.6 556,456.4 556,455 556.1,451.8 556.1,466.2 556.1,471.7 556.2,458.1 556.2,469.3 556.2,460 556.3,455.1 556.3,457.8 556.3,441.4 556.4,444.4 556.4,471.8 556.4,462.1 556.5,463.2 556.5,450.7 556.5,450.9 556.6,459.7 556.6,457.6 556.6,452.6 556.7,433.4 556.7,453.5 556.7,458.2 556.8,466.4 556.8,449.6 556.8,449.9 556.9,467.5 556.9,459.2 556.9,463.6 557,460.2 557,457.6 557,464.2 557.1,461.1 557.1,463.4 557.1,446.8 557.2,463.7 557.2,452.3 557.2,454.1 557.3,459.4 557.3,461.3 557.3,471.2 557.4,461 557.4,451.6 557.4,455 557.5,464.8 557.5,439.3 557.5,448.5 557.6,444.7 557.6,461.3 557.6,468.1 557.7,457.3 557.7,449.6 557.7,464 557.8,458.7 557.8,439.6 557.8,454.2 557.9,462.3 557.9,456.2 557.9,449.1 558,453.7 558,447.1 558,450.9 558.1,451.2 558.1,432.7 558.1,471.9 558.2,453.5 558.2,461.6 558.2,460 558.3,435 558.3,466.9 558.3,459.2 558.4,467.4 558.4,465.1 558.4,463.5 558.5,424.9 558.5,464.5 558.5,476.6 558.6,446.6 558.6,441.9 558.6,456.5 558.7,456.9 558.7,448.7 558.7,446.7 558.8,471.4 558.8,448.6 558.8,470 558.9,457.1 558.9,472.7 558.9,456.7 559,464.6 559,466.3 559,469 559.1,449.4 559.1,447.1 559.1,436.4 559.2,456.7 559.2,453.4 559.2,448.6 559.3,432.3 559.3,455.3 559.3,464.4 559.4,437.4 559.4,460.7 559.4,449.9 559.5,416.3 559.5,449.8 559.5,450.3 559.6,450.3 559.6,460.9 559.6,450.2 559.7,459.5 559.7,439.4 559.7,464.8 559.8,442 559.8,458.1 559.8,460.4 559.9,443.2 559.9,466.7 559.9,460.6 560,442.3 560,466.1 560,454.2 560.1,437.8 560.1,459.8 560.1,444.2 560.2,463.1 560.2,474.2 560.2,451.5 560.3,436.6 560.3,454.9 560.3,448.7 560.4,463.9 560.4,471 560.4,418.7 560.5,466.5 560.5,465 560.5,452.9 560.6,459.4 560.6,472.1 560.6,473.2 560.7,444.4 560.7,457.8 560.7,447.8 560.8,470.1 560.8,469.3 560.8,440 560.9,468.1 560.9,478.5 560.9,449.8 561,448.8 561,461.3 561,466.7 561.1,453.9 561.1,455.8 561.1,467.8 561.2,461.8 561.2,444.2 561.2,461.4 561.3,446.7 561.3,462.2 561.3,463.8 561.4,468.4 561.4,438.7 561.4,455.7 561.5,450.4 561.5,449.6 561.5,433.8 561.6,448.3 561.6,451.8 561.6,446.2 561.7,469.8 561.7,450.2 561.7,465 561.8,441.1 561.8,451.8 561.8,457.3 561.9,460.3 561.9,465.6 561.9,466 562,448.9 562,462.1 562,462 562.1,445.2 562.1,459.7 562.1,445.1 562.2,452 562.2,461.6 562.2,451.8 562.3,462.3 562.3,455.7 562.3,441.3 562.4,475.7 562.4,444.8 562.4,458.7 562.5,454.2 562.5,455.3 562.5,449.5 562.6,452.3 562.6,460.4 562.6,452.4 562.7,452 562.7,448.9 562.7,461.2 562.8,442.7 562.8,466.6 562.8,441.2 562.9,457 562.9,460.3 562.9,469.3 563,448.6 563,433.1 563,454.6 563.1,458.1 563.1,452.7 563.1,457.1 563.2,449.1 563.2,460.7 563.2,458.1 563.3,458.3 563.3,454.3 563.3,468 563.4,465.5 563.4,450.2 563.4,453.7 563.5,467.9 563.5,450.2 563.5,467.5 563.6,466.9 563.6,456.4 563.6,464.2 563.7,463 563.7,463.3 563.7,448.1 563.8,462.7 563.8,451.7 563.8,450.4 563.9,471.9 563.9,450.2 563.9,454 564,455.3 564,463.1 564,456.9 564.1,469.3 564.1,447.7 564.1,468.6 564.2,463.3 564.2,447.2 564.2,447.7 564.3,450.4 564.3,447.4 564.3,473.4 564.4,453.9 564.4,470.8 564.4,470.9 564.5,443.6 564.5,447.3 564.5,457.8 564.6,457 564.6,455.8 564.6,443.5 564.7,446.5 564.7,470.5 564.7,456.3 564.8,452 564.8,457.8 564.8,456.9 564.9,442.1 564.9,453.4 564.9,458.2 565,454.6 565,474.4 565,472 565.1,451.4 565.1,451.2 565.1,444.3 565.2,466.8 565.2,464.1 565.2,465.6 565.3,451.9 565.3,447.1 565.3,458.5 565.4,451.1 565.4,464.2 565.4,452.5 565.5,446.7 565.5,452.3 565.5,461.5 565.6,453.7 565.6,475.5 565.6,453.8 565.7,452.7 565.7,455.5 565.7,455.2 565.8,445.7 565.8,444.2 565.8,443.7 565.9,447.7 565.9,444.9 565.9,453.1 566,456.1 566,461.6 566,447.9 566.1,457.6 566.1,452.8 566.1,468.3 566.2,444.9 566.2,437.3 566.2,461.1 566.3,435.4 566.3,453.4 566.3,452.1 566.4,453.1 566.4,453.2 566.4,453.2 566.5,460.1 566.5,462.6 566.5,460.1 566.6,453.8 566.6,448.4 566.6,475.3 566.7,471.3 566.7,459.8 566.7,452.4 566.8,449.4 566.8,455.9 566.8,456.9 566.9,464.9 566.9,460.3 566.9,452.2 567,445.3 567,449.9 567,463 567.1,454.2 567.1,463.1 567.1,455 567.2,448.3 567.2,461.8 567.2,455.9 567.3,460 567.3,470.3 567.3,459.5 567.4,458.3 567.4,452.4 567.4,457.8 567.5,455.7 567.5,455.7 567.5,460.5 567.6,457.3 567.6,447.9 567.6,449 567.7,462.5 567.7,446 567.7,466.3 567.8,460 567.8,458 567.8,457.3 567.9,452.9 567.9,438 567.9,454.7 568,469.8 568,454.8 568,458.7 568.1,448.8 568.1,463 568.1,446.4 568.2,461.9 568.2,451.3 568.2,451.2 568.3,444.2 568.3,461 568.3,458 568.4,454.4 568.4,449.9 568.4,451.3 568.5,470.1 568.5,456.6 568.5,455.8 568.6,460 568.6,449.2 568.6,471.7 568.7,453 568.7,458 568.7,461.8 568.8,451 568.8,463.9 568.8,469.5 568.9,459.4 568.9,445.5 568.9,468.5 569,454.7 569,455.4 569,467.6 569.1,464.6 569.1,453.3 569.1,459.8 569.2,455 569.2,464.8 569.2,444.7 569.3,454.1 569.3,460.6 569.3,446.4 569.4,453.3 569.4,450.8 569.4,453.5 569.5,450.3 569.5,439.1 569.5,461.3 569.6,449 569.6,449.6 569.6,450.3 569.7,466.5 569.7,465.3 569.7,426 569.8,468.3 569.8,442.2 569.8,455 569.9,463 569.9,445.5 569.9,448.2 570,457.4 570,460 570,450.9 570.1,450.9 570.1,442.5 570.1,436.8 570.2,454.9 570.2,456.4 570.2,456.7 570.3,453.2 570.3,435.5 570.3,461.4 570.4,456.8 570.4,475.4 570.4,443.5 570.5,451.8 570.5,446 570.5,460.5 570.6,455.5 570.6,463.3 570.6,441.3 570.7,447 570.7,436.3 570.7,466.7 570.8,447 570.8,452.5 570.8,451.8 570.9,465.2 570.9,452 570.9,453.2 571,453.9 571,455.1 571,463.9 571.1,440 571.1,454.3 571.1,456.5 571.2,451.6 571.2,452.9 571.2,454.4 571.3,439.5 571.3,450.5 571.3,448.1 571.4,449.1 571.4,457.5 571.4,461.9 571.5,453.8 571.5,453.7 571.5,460 571.6,456.2 571.6,462.8 571.6,454.4 571.7,449.6 571.7,461.9 571.7,474.4 571.8,452.6 571.8,452.1 571.8,454.2 571.9,452.6 571.9,459 571.9,443.5 572,448.9 572,453.6 572,457.9 572.1,461.6 572.1,454 572.1,456.4 572.2,455.5 572.2,446.9 572.2,456.2 572.3,469.4 572.3,442.2 572.3,474.7 572.4,461 572.4,470.6 572.4,450.6 572.5,471.1 572.5,453 572.5,456.5 572.6,459.3 572.6,452.6 572.6,451.5 572.7,455.7 572.7,450 572.7,459.8 572.8,437.1 572.8,465.8 572.8,450.3 572.9,448.2 572.9,449.1 572.9,461.9 573,471.6 573,454.9 573,453.3 573.1,460.2 573.1,441.2 573.1,454.4 573.2,458.7 573.2,464.5 573.2,450.4 573.3,454.5 573.3,452.1 573.3,456.6 573.4,452.8 573.4,459.8 573.4,452.6 573.5,467.3 573.5,453.1 573.5,471.6 573.6,458.7 573.6,437.3 573.6,440.4 573.7,467.7 573.7,444.7 573.7,464.7 573.8,464.3 573.8,448 573.8,452.4 573.9,460.6 573.9,458.7 573.9,455.3 574,455.5 574,455.5 574,457.9 574.1,462.8 574.1,450.3 574.1,455.8 574.2,467.6 574.2,456.1 574.2,454 574.3,458.1 574.3,453.8 574.3,457.4 574.4,428.5 574.4,456.9 574.4,453.9 574.5,436.2 574.5,459.9 574.5,443.6 574.6,455.1 574.6,445.4 574.6,452 574.7,461.6 574.7,447.2 574.7,469.7 574.8,447.6 574.8,454.4 574.8,452.2 574.9,455.7 574.9,458 574.9,470.8 575,464.7 575,440.2 575,491.1 575.1,452.2 575.1,467.8 575.1,457.6 575.2,455.9 575.2,450.9 575.2,441 575.3,462.6 575.3,462.2 575.3,439.3 575.4,452 575.4,470.2 575.4,466.5 575.5,455.7 575.5,454.7 575.5,465 575.6,425.5 575.6,462.4 575.6,466.9 575.7,453.1 575.7,442.9 575.7,448.3 575.8,470.7 575.8,463 575.8,435.3 575.9,450.1 575.9,449.7 575.9,451.2 576,448.2 576,473.8 576,447.8 576.1,458.7 576.1,457.4 576.1,444.5 576.2,467.6 576.2,461.6 576.2,437.8 576.3,453.7 576.3,442.6 576.3,465.9 576.4,433.3 576.4,466.4 576.4,450.5 576.5,450.2 576.5,433.2 576.5,460.5 576.6,461.4 576.6,449.3 576.6,445 576.7,452.4 576.7,438.5 576.7,469.3 576.8,454.8 576.8,454.1 576.8,462.1 576.9,458.5 576.9,455.3 576.9,455.7 577,450 577,457.3 577,452 577.1,452.6 577.1,454 577.1,459.6 577.2,462.8 577.2,460.6 577.2,454.6 577.3,455.4 577.3,456.8 577.3,452 577.4,468.2 577.4,460.6 577.4,453.5 577.5,455.3 577.5,468.9 577.5,455.2 577.6,463.2 577.6,466.8 577.6,448.5 577.7,469.6 577.7,448 577.7,458 577.8,464.3 577.8,459.8 577.8,457 577.9,439.4 577.9,464.5 577.9,444.4 578,447.7 578,457.2 578,446.7 578.1,457.3 578.1,450.6 578.1,467.5 578.2,441.1 578.2,455.2 578.2,454.8 578.3,450.6 578.3,453.9 578.3,461.6 578.4,438 578.4,450.7 578.4,448.1 578.5,458.1 578.5,466.2 578.5,443.5 578.6,449.7 578.6,437.9 578.6,467 578.7,442 578.7,441.3 578.7,450.4 578.8,468.8 578.8,451 578.8,452.4 578.9,447.9 578.9,461.3 578.9,463.8 579,463 579,456.6 579,461.7 579.1,463.3 579.1,449.7 579.1,452.2 579.2,469.3 579.2,444 579.2,469.6 579.3,435.5 579.3,459.1 579.3,465.7 579.4,452.2 579.4,446.5 579.4,462.7 579.5,451 579.5,453.4 579.5,455.7 579.6,466.3 579.6,436.7 579.6,440.3 579.7,473.5 579.7,460.7 579.7,464.4 579.8,449.8 579.8,471.7 579.8,447.3 579.9,453.1 579.9,459.6 579.9,452.8 580,451.2 580,457.8 580,453.8 580.1,470.6 580.1,453.4 580.1,471.6 580.2,449.6 580.2,454.8 580.2,441 580.3,438.2 580.3,441.2 580.3,445.4 580.4,434.6 580.4,438.5 580.4,448.8 580.5,458.4 580.5,454.3 580.5,452.9 580.6,431.7 580.6,457.4 580.6,461 580.7,435.4 580.7,459.2 580.7,459.4 580.8,468.8 580.8,445.2 580.8,463.9 580.9,452.4 580.9,461.1 580.9,452.4 581,431.7 581,441.1 581,449.1 581.1,454 581.1,447.2 581.1,467.6 581.2,460.5 581.2,446.2 581.2,460 581.3,460.3 581.3,495.3 581.3,465.7 581.4,451.5 581.4,470.3 581.4,466 581.5,449.9 581.5,451.2 581.5,458.6 581.6,458.3 581.6,443.5 581.6,476 581.7,442.2 581.7,451.4 581.7,461.8 581.8,453.4 581.8,458.5 581.8,453.8 581.9,459.7 581.9,449.6 581.9,458.5 582,446.1 582,448.6 582,458.7 582.1,458.7 582.1,454.4 582.1,444.4 582.2,453.8 582.2,461.6 582.2,456.7 582.3,461.9 582.3,454.6 582.3,451.3 582.4,466 582.4,447.4 582.4,445.6 582.5,459.4 582.5,469 582.5,458 582.6,449.6 582.6,452 582.6,479.1 582.7,442.5 582.7,453.7 582.7,445.4 582.8,474.5 582.8,478.2 582.8,439.9 582.9,437.7 582.9,464.5 582.9,456.4 583,443.4 583,466.6 583,456.8 583.1,467.1 583.1,454.6 583.1,456.1 583.2,470.9 583.2,436 583.2,454.5 583.3,461.2 583.3,460.6 583.3,462.7 583.4,463.1 583.4,449.3 583.4,471.2 583.5,452.6 583.5,476 583.5,445.5 583.6,450.8 583.6,447.8 583.6,468.4 583.7,462.8 583.7,463 583.7,447.7 583.8,457.9 583.8,452.3 583.8,455.1 583.9,439 583.9,460.7 583.9,447.5 584,454.6 584,446.4 584,441.7 584.1,459.6 584.1,448.7 584.1,457 584.2,454.6 584.2,467.1 584.2,456.7 584.3,460.3 584.3,449.8 584.3,462 584.4,467.8 584.4,458.9 584.4,449.6 584.5,454.2 584.5,453.3 584.5,455.9 584.6,465 584.6,459.8 584.6,444.1 584.7,479.4 584.7,466.2 584.7,443.1 584.8,459.5 584.8,465.8 584.8,463.4 584.9,448 584.9,479.5 584.9,447.4 585,450.8 585,451.4 585,477.9 585.1,453.1 585.1,441.4 585.1,453.9 585.2,464.5 585.2,471 585.2,442.4 585.3,456.5 585.3,460.8 585.3,469 585.4,464.5 585.4,456.7 585.4,467.7 585.5,462.8 585.5,448.6 585.5,439.6 585.6,458.6 585.6,453.9 585.6,463.2 585.7,462.4 585.7,444.7 585.7,462 585.8,441.4 585.8,441.2 585.8,437.5 585.9,438.1 585.9,459.3 585.9,450.4 586,456.4 586,458.8 586,457.6 586.1,443.4 586.1,457.5 586.1,453.7 586.2,456.6 586.2,432.3 586.2,458.3 586.3,454.9 586.3,469.6 586.3,420.9 586.4,486.4 586.4,458.9 586.4,461.3 586.5,449 586.5,456.7 586.5,443.1 586.6,449.6 586.6,442.4 586.6,458.7 586.7,452 586.7,417.6 586.7,445 586.8,444.8 586.8,460 586.8,448.6 586.9,471.7 586.9,440.5 586.9,422.2 587,467.5 587,459.5 587,457.6 587.1,457.1 587.1,470.5 587.1,467.5 587.2,461.1 587.2,445.6 587.2,451 587.3,458.5 587.3,438 587.3,451.7 587.4,456 587.4,451.3 587.4,455.3 587.5,449.4 587.5,451.2 587.5,451.1 587.6,439.1 587.6,426.3 587.6,467.1 587.7,449.6 587.7,449.2 587.7,467.2 587.8,457.5 587.8,442.5 587.8,461.6 587.9,459.2 587.9,456.2 587.9,458.8 588,452.6 588,465.5 588,459.7 588.1,468.1 588.1,455 588.1,466.3 588.2,448.6 588.2,453.4 588.2,463.5 588.3,480.1 588.3,466.5 588.3,459.2 588.4,451.4 588.4,456 588.4,450.4 588.5,469.2 588.5,460.9 588.5,456 588.6,444.2 588.6,453.5 588.6,453.5 588.7,457.5 588.7,467.4 588.7,436.5 588.8,466.5 588.8,451.9 588.8,451.8 588.9,438.6 588.9,445.2 588.9,444.6 589,471.7 589,440.3 589,451.7 589.1,468.1 589.1,464.8 589.1,459.9 589.2,455.6 589.2,464.1 589.2,456.8 589.3,445.9 589.3,430.1 589.3,433 589.4,445.6 589.4,461.5 589.4,458.1 589.5,463.1 589.5,453 589.5,468.8 589.6,463.3 589.6,453.4 589.6,444.2 589.7,461.6 589.7,443.5 589.7,445.5 589.8,447.1 589.8,455.9 589.8,474.2 589.9,454.3 589.9,444.5 589.9,467.9 590,464.4 590,449.9 590,452.6 590.1,458 590.1,461.5 590.1,451.6 590.2,479.4 590.2,459.9 590.2,446.7 590.3,467.8 590.3,443.5 590.3,440.8 590.4,447.2 590.4,461.8 590.4,469.3 590.5,438.2 590.5,458.6 590.5,445.3 590.6,438.1 590.6,456.7 590.6,439.1 590.7,442.3 590.7,457.9 590.7,464.8 590.8,467.7 590.8,461.8 590.8,450.7 590.9,466.4 590.9,462.6 590.9,458.8 591,454.9 591,449.4 591,444.5 591.1,458.5 591.1,456.5 591.1,454.4 591.2,451.1 591.2,472.3 591.2,467.9 591.3,457.4 591.3,445.1 591.3,456.9 591.4,452.1 591.4,458.2 591.4,450.8 591.5,443.7 591.5,451.3 591.5,452.6 591.6,456.1 591.6,452.9 591.6,457.9 591.7,469 591.7,445.9 591.7,451.4 591.8,468.8 591.8,461.1 591.8,453.3 591.9,440.9 591.9,440.1 591.9,475.9 592,462.9 592,453.3 592,435.3 592.1,448.7 592.1,443.2 592.1,446 592.2,456.4 592.2,443.1 592.2,468.1 592.3,454.4 592.3,434.6 592.3,460 592.4,445.5 592.4,460.4 592.4,461.9 592.5,454 592.5,447.4 592.5,463.6 592.6,447 592.6,448.3 592.6,459.9 592.7,434.5 592.7,462 592.7,450.9 592.8,454.5 592.8,450.9 592.8,464.5 592.9,454.9 592.9,461.8 592.9,452.5 593,461.3 593,463.6 593,450.2 593.1,443.7 593.1,462.4 593.1,466 593.2,441.2 593.2,449.8 593.2,454.8 593.3,449.5 593.3,449.4 593.3,453.3 593.4,450.8 593.4,461.7 593.4,460 593.5,452.4 593.5,445 593.5,463.8 593.6,471.9 593.6,453.6 593.6,448.1 593.7,447.5 593.7,430 593.7,450.3 593.8,441.5 593.8,467.9 593.8,441.1 593.9,446.3 593.9,449.8 593.9,452.3 594,463.4 594,453.1 594,461.5 594.1,466.3 594.1,466.3 594.1,448.3 594.2,467.3 594.2,457.1 594.2,455.4 594.3,444.6 594.3,452.1 594.3,450.6 594.4,470.6 594.4,448.5 594.4,464.2 594.5,448.2 594.5,456.2 594.5,455.2 594.6,451.2 594.6,465.7 594.6,449.7 594.7,454.1 594.7,471.1 594.7,455.6 594.8,470.3 594.8,449.8 594.8,442.6 594.9,446 594.9,467.4 594.9,446.6 595,458.6 595,446.9 595,447.7 595.1,441.7 595.1,443 595.1,462.4 595.2,451.8 595.2,461.4 595.2,461.6 595.3,447.3 595.3,442.4 595.3,459.7 595.4,469.3 595.4,427.9 595.4,450.4 595.5,459.5 595.5,462.9 595.5,441.9 595.6,461.3 595.6,448.6 595.6,457.5 595.7,463.5 595.7,462.1 595.7,460.3 595.8,447.5 595.8,445.6 595.8,452.7 595.9,453.6 595.9,437.4 595.9,452.6 596,444.6 596,475.1 596,442.2 596.1,447.9 596.1,458.8 596.1,439.5 596.2,468.8 596.2,450.3 596.2,455.4 596.3,458.2 596.3,449.1 596.3,449.3 596.4,468.5 596.4,448.4 596.4,471.3 596.5,460.1 596.5,450.6 596.5,450.8 596.6,450.9 596.6,446.9 596.6,466.7 596.7,454.1 596.7,467.1 596.7,445.1 596.8,468.3 596.8,457.4 596.8,444.5 596.9,456.9 596.9,435.6 596.9,457.6 597,459.7 597,455.2 597,463.3 597.1,446.5 597.1,464.1 597.1,473.6 597.2,473.3 597.2,452.9 597.2,445.3 597.3,445.3 597.3,460.7 597.3,464.3 597.4,451.1 597.4,442.6 597.4,448.7 597.5,459.1 597.5,452.6 597.5,445.3 597.6,447.2 597.6,450 597.6,451.8 597.7,462.4 597.7,454.7 597.7,455.4 597.8,458.1 597.8,484.5 597.8,467 597.9,455.4 597.9,463.4 597.9,447.2 598,423.5 598,449.8 598,460.3 598.1,444.5 598.1,444.5 598.1,454.1 598.2,469 598.2,447 598.2,459 598.3,450.1 598.3,474 598.3,450.1 598.4,445.9 598.4,460.8 598.4,441.8 598.5,463.1 598.5,452.7 598.5,456 598.6,445.6 598.6,440.4 598.6,466.4 598.7,459.3 598.7,457.5 598.7,429.5 598.8,466.9 598.8,448.5 598.8,460.1 598.9,458.9 598.9,436.5 598.9,454.7 599,450.1 599,461 599,444.4 599.1,440.1 599.1,446.4 599.1,466 599.2,456.9 599.2,453.4 599.2,468.6 599.3,458.6 599.3,464.4 599.3,450.7 599.4,449.9 599.4,455.4 599.4,454.3 599.5,450.5 599.5,466.1 599.5,447.7 599.6,460 599.6,459.3 599.6,450.9 599.7,447.6 599.7,452.7 599.7,437.3 599.8,441.4 599.8,455.5 599.8,458.1 599.9,438.9 599.9,461.5 599.9,461.7 600,461.2 600,444.6 600,454.3 600.1,455.3 600.1,455.4 600.1,450 600.2,445.7 600.2,447.6 600.2,453.6 600.3,459.8 600.3,435.2 600.3,466.7 600.4,464.2 600.4,451.6 600.4,440.7 600.5,452.6 600.5,461.8 600.5,449.5 600.6,469.7 600.6,467.3 600.6,445.9 600.7,464.1 600.7,453 600.7,454.6 600.8,467.6 600.8,454.7 600.8,461.4 600.9,451.4 600.9,469.5 600.9,453.3 601,448.6 601,467.8 601,447.2 601.1,471.6 601.1,461.1 601.1,455.8 601.2,464.1 601.2,444.1 601.2,461.3 601.3,439 601.3,446.3 601.3,477 601.4,466.3 601.4,453.7 601.4,459.3 601.5,458.9 601.5,452.7 601.5,454.1 601.6,457.4 601.6,450.5 601.6,451.5 601.7,460.6 601.7,457.1 601.7,452.7 601.8,465.9 601.8,443.2 601.8,457.7 601.9,456.9 601.9,449.3 601.9,442.8 602,455.4 602,450 602,467 602.1,456.6 602.1,462.8 602.1,445.9 602.2,442.4 602.2,457.8 602.2,465.2 602.3,466 602.3,454.8 602.3,449.5 602.4,463.5 602.4,446.6 602.4,445.4 602.5,456.4 602.5,459.7 602.5,441.4 602.6,467.5 602.6,453 602.6,458.3 602.7,473.3 602.7,461.7 602.7,469.6 602.8,453 602.8,469.3 602.8,456.6 602.9,449.3 602.9,444.8 602.9,466.8 603,457.9 603,469.5 603,451.7 603.1,467.6 603.1,470.4 603.1,452 603.2,447.5 603.2,461.6 603.2,457 603.3,451.1 603.3,456 603.3,457.3 603.4,441.1 603.4,454.3 603.4,462.5 603.5,465.2 603.5,463.4 603.5,463.7 603.6,427.6 603.6,447.9 603.6,458.2 603.7,451.8 603.7,456.4 603.7,436.9 603.8,447.6 603.8,453.5 603.8,461.7 603.9,477.5 603.9,451.2 603.9,432.9 604,453.6 604,454.4 604,434.5 604.1,463.1 604.1,470 604.1,435.2 604.2,457.4 604.2,446.5 604.2,449 604.3,452.6 604.3,447 604.3,447.7 604.4,448.9 604.4,438.6 604.4,445.6 604.5,450.2 604.5,451.4 604.5,458.9 604.6,448.4 604.6,461.4 604.6,443.5 604.7,415.9 604.7,445.3 604.7,456.6 604.8,462.6 604.8,447.4 604.8,443.3 604.9,453.8 604.9,444.1 604.9,446.3 605,461 605,451.2 605,452.3 605.1,419.8 605.1,446.5 605.1,449.9 605.2,447.9 605.2,447.3 605.2,467.1 605.3,439.2 605.3,456.4 605.3,442.7 605.4,442.5 605.4,456.7 605.4,451.7 605.5,459.9 605.5,452.1 605.5,431.5 605.6,462.7 605.6,444.8 605.6,446.6 605.7,446.1 605.7,450.8 605.7,414.9 605.8,463.9 605.8,436.5 605.8,445.3 605.9,455.6 605.9,462.1 605.9,440.1 606,462.3 606,431.3 606,459.9 606.1,449.6 606.1,438.2 606.1,460.2 606.2,466.3 606.2,461.6 606.2,463.6 606.3,449 606.3,451 606.3,446.3 606.4,469.4 606.4,449.6 606.4,478.9 606.5,441.9 606.5,451.4 606.5,453 606.6,439.8 606.6,450.3 606.6,438.6 606.7,447.2 606.7,466.9 606.7,446.3 606.8,452.1 606.8,433.1 606.8,438.9 606.9,484.5 606.9,454.8 606.9,468.2 607,446.9 607,448 607,463 607.1,452.4 607.1,460 607.1,452.6 607.2,462.2 607.2,442.5 607.2,436.9 607.3,458.5 607.3,440.8 607.3,450.2 607.4,430.8 607.4,455.2 607.4,460.2 607.5,451 607.5,458.1 607.5,454 607.6,442.2 607.6,446.8 607.6,457.8 607.7,461.6 607.7,475.5 607.7,454.4 607.8,452.3 607.8,472.1 607.8,471.8 607.9,445.6 607.9,461.5 607.9,453.1 608,458.2 608,429.7 608,456.5 608.1,449.5 608.1,459.5 608.1,451.8 608.2,446.1 608.2,464.3 608.2,437.4 608.3,458.6 608.3,464.9 608.3,469.3 608.4,456.9 608.4,433.3 608.4,450.3 608.5,431.1 608.5,454.3 608.5,441.3 608.6,461.8 608.6,467.9 608.6,441.6 608.7,441.7 608.7,455.1 608.7,458.8 608.8,482.4 608.8,445.7 608.8,430.4 608.9,456.3 608.9,450.7 608.9,469.1 609,445.4" stroke="#c7c8ca" stroke-width="1.2"/>
<path d="M66.6 331.8C67.9 330.5 71.8 326.5 74.6 323.8C77.4 321.1 80.5 318.3 83.4 315.8C86.3 313.3 89.4 310.6 92.1 308.9C94.8 307.2 97.5 306 99.4 305.7C101.4 305.4 102.1 305.8 103.8 307C105.5 308.2 107.8 310.7 109.6 312.8C111.4 314.9 113.2 317.7 114.7 319.4C116.2 321.1 117.1 322.9 118.4 323.1C119.8 323.4 121.2 322.6 122.8 320.9C124.4 319.2 126.5 314.6 127.9 312.8C129.3 311 130.2 309.9 131.5 310.2C132.8 310.4 134.2 312.6 135.9 314.3C137.6 316 140.2 320.5 141.8 320.1C143.4 319.7 144 316.2 145.4 312.1C146.8 308 148.9 296.5 150.5 295.3C152.1 294.1 153.7 301 154.9 304.8C156.1 308.6 155.9 322.2 157.5 318.3C159.1 314.4 162.2 282.3 164.2 281.1C166.2 279.9 167.7 310.1 169.4 310.9C171.1 311.6 173 287.3 174.6 285.6C176.2 283.9 177.7 300.8 179.1 300.5C180.5 300.2 181.8 285 183.1 283.6C184.4 282.2 185.9 291.8 187 292.3C188.1 292.8 188.7 285.7 189.9 286.7C191.1 287.7 192.9 296.5 194 298.2C195.1 299.9 195.7 296.4 196.5 297C197.3 297.6 198 305.3 198.9 301.5C199.8 297.7 201.2 275.2 202.2 274.4C203.2 273.6 203.8 295.7 204.7 296.7C205.6 297.7 206.6 280.8 207.4 280.3C208.2 279.9 208.9 293.8 209.6 294C210.3 294.2 210.8 280.9 211.5 281.8C212.2 282.8 213.1 300.3 213.8 299.7C214.5 299.1 214.9 279.8 215.6 278.1C216.3 276.4 217.2 288.3 217.8 289.3C218.4 290.3 218.7 284.2 219.3 284.1C219.9 284 220.6 289.9 221.2 288.5C221.8 287.1 222.4 274.8 223 275.9C223.6 277 223.9 295.6 224.5 295.2C225.1 294.8 225.8 273.1 226.3 273.6C226.9 274.1 227.2 298.2 227.8 298.2C228.4 298.2 228.8 275.2 229.7 273.6C230.6 272 232.6 288.7 233.5 288.5C234.4 288.3 234.4 271.9 234.9 272.6C235.4 273.4 235.7 292.4 236.4 293C237.2 293.6 238.7 275.9 239.4 275.9C240.2 275.9 240.3 292.3 240.9 293C241.5 293.7 242.3 280.8 243.1 280.3C243.8 279.8 244.8 292.9 245.4 290C246 287.1 246.2 263.3 246.6 263.2C247 263.1 247 286.2 247.6 289.3C248.2 292.4 249.6 283.1 250 281.8L251.5,285.2 251.9,285.8 252.4,287.7 252.8,290.7 253.2,290.8 253.7,290.8 254.1,289.7 254.5,283.4 254.9,288.6 255.4,282.7 255.8,289.5 256.2,279.3 256.6,290.4 257,285.9 257.4,283.8 257.8,289.8 258.2,290.4 258.6,278.4 259,285.2 259.4,278.1 259.8,289.6 260.2,283.9 260.5,292.6 260.9,295.5 261.3,289.3 261.7,288 262.1,280.7 262.4,291.6 262.8,288.8 263.2,292.3 263.5,286.5 263.9,284.2 264.3,279.1 264.6,293.2 265,288.7 265.3,282.6 265.7,289.1 266,285.1 266.4,294.4 266.7,285 267.1,284.2 267.4,288.5 267.7,289.2 268.1,294.1 268.4,287.8 268.7,275.5 269,282.7 269.4,286.9 269.7,285.2 270,292.9 270.3,281.3 270.6,276 270.9,285.7 271.2,294.5 271.5,285.2 271.8,289.6 272.1,286 272.4,283.7 272.7,285.8 273,294.8 273.2,283.5 273.5,286.2 273.8,295.7 274.1,289.7 274.4,289 274.6,291.3 274.9,285 275.2,283.6 275.5,288.7 275.7,289.7 276,287.8 276.3,288.4 276.5,284.9 276.8,278.8 277,284.7 277.3,283.8 277.6,288.3 277.8,287.2 278.1,277.1 278.3,286.1 278.6,281.4 278.8,298.3 279.1,294.4 279.3,295.4 279.6,294.7 279.8,280.8 280.1,293.9 280.3,288 280.5,288.3 280.8,295.4 281,285.2 281.3,291.1 281.5,301.7 281.7,295.5 282,285 282.2,294.7 282.4,294.6 282.7,300.1 282.9,292 283.1,296.3 283.3,293.9 283.6,292.3 283.8,279.7 284,293.1 284.2,293.5 284.5,289.6 284.7,288.9 284.9,278 285.1,302 285.3,284.5 285.6,304.3 285.8,292.2 286,294.6 286.2,282.8 286.4,297.6 286.6,293.4 286.9,297.1 287.1,308 287.3,302.1 287.5,291.6 287.7,291.3 287.9,289.7 288.1,286.2 288.3,296.7 288.5,289.1 288.7,294.8 288.9,287.1 289.1,300.1 289.3,297.6 289.5,293.4 289.7,295.4 289.9,299.4 290.1,298.7 290.3,309.2 290.5,296.2 290.7,295.9 290.9,295 291.1,295.6 291.3,305.4 291.5,296.4 291.7,297.5 291.9,289.7 292.1,298.3 292.3,307.1 292.5,302.8 292.7,297.8 292.8,304.1 293,301.2 293.2,298.2 293.4,308.6 293.6,306.8 293.7,293.9 293.9,306.5 294.1,315 294.3,317.8 294.5,300.8 294.6,292.3 294.8,307.1 295,294.8 295.2,293.5 295.3,298 295.5,298 295.7,289.5 295.9,292.6 296,295.5 296.2,301.3 296.4,306.2 296.5,291.6 296.7,297.9 296.9,307.3 297,299.5 297.2,310.8 297.4,306.3 297.5,306 297.7,294 297.8,304.4 298,312.5 298.2,298 298.3,309.3 298.5,303.3 298.6,292.2 298.8,284.8 299,297.2 299.1,304.4 299.3,297 299.4,299.2 299.6,304.6 299.7,304.6 299.9,317.1 300.1,309.6 300.2,311.4 300.4,303 300.5,294.2 300.7,307.4 300.8,309 301,296 301.1,304.1 301.3,290.7 301.4,299.3 301.6,302.4 301.7,297.1 301.9,296.2 302,303.2 302.2,315.1 302.3,294.7 302.5,316.3 302.6,301.5 302.7,301.5 302.9,303.4 303,308.6 303.2,303.8 303.3,293.6 303.5,298.8 303.6,304.6 303.7,297.8 303.9,313.7 304,299.1 304.2,312.2 304.3,303.9 304.5,301.1 304.6,295.7 304.7,293.3 304.9,296.6 305,300 305.1,300.2 305.3,308.4 305.4,304.9 305.6,298.9 305.7,304 305.8,306 306,301.7 306.1,310.7 306.2,298.9 306.4,304.1 306.5,308.9 306.6,301.8 306.8,302 306.9,302.9 307,306.4 307.2,304.5 307.3,309.8 307.4,302.1 307.6,299 307.7,305.3 307.8,311.2 308,311.4 308.1,306.4 308.2,290.3 308.3,307.2 308.5,293.3 308.6,304.2 308.7,298.3 308.9,309.9 309,301.9 309.1,302.7 309.2,299.3 309.4,302 309.5,298.4 309.6,306.3 309.7,301.1 309.9,310.9 310,307.1 310.1,298.2 310.2,302.7 310.4,293.6 310.5,292.8 310.6,314.2 310.7,292.5 310.9,317.4 311,321.3 311.1,308.9 311.2,302.1 311.4,331.6 311.5,309 311.6,307.2 311.7,312.1 311.9,300 312,303 312.1,298.6 312.2,306 312.3,296.9 312.5,300.6 312.6,304.7 312.7,309.2 312.8,303.4 313,302.7 313.1,303.1 313.2,304.7 313.3,324 313.4,302.2 313.6,309.9 313.7,305.2 313.8,304.2 313.9,303.8 314,313.7 314.2,305.1 314.3,310.1 314.4,304.3 314.5,311.5 314.6,295.6 314.8,312.4 314.9,308.2 315,303.4 315.1,301.4 315.2,310.4 315.3,307.4 315.5,308 315.6,306 315.7,296.1 315.8,312.2 315.9,298.8 316,314.7 316.2,306.2 316.3,308.6 316.4,300.5 316.5,291.8 316.6,301.3 316.7,310.8 316.9,307.3 317,311.3 317.1,309.6 317.2,319.2 317.3,311.9 317.4,306.8 317.6,301.8 317.7,313.4 317.8,300.9 317.9,312.5 318,309.1 318.1,307.8 318.2,300.4 318.4,300.4 318.5,312 318.6,311.7 318.7,304.8 318.8,311.3 318.9,319.4 319,314.5 319.2,313.6 319.3,314 319.4,307 319.5,307.4 319.6,307.4 319.7,304.1 319.8,301.3 320,308.3 320.1,329.4 320.2,312.7 320.3,311.2 320.4,301.4 320.5,303.3 320.6,320.7 320.7,308.4 320.9,311.7 321,312 321.1,303.5 321.2,312 321.3,299.4 321.4,302.7 321.5,312.8 321.6,305.3 321.7,316.9 321.8,309.5 322,309.1 322.1,302.4 322.2,319.3 322.3,318.4 322.4,306 322.5,310.1 322.6,312.9 322.7,311.9 322.8,304 322.9,308.5 323.1,325.3 323.2,300.8 323.3,307.1 323.4,319.7 323.5,305.8 323.6,298.5 323.7,317.7 323.8,314.2 323.9,307.4 324,309.3 324.1,310.9 324.3,306.3 324.4,302.8 324.5,308.9 324.6,315.9 324.7,316.7 324.8,302.1 324.9,309.7 325,315.6 325.1,306.5 325.2,311 325.3,318.8 325.4,322.6 325.5,307.3 325.6,310.2 325.8,318 325.9,300.5 326,310.1 326.1,300.4 326.2,325 326.3,306.6 326.4,306.6 326.5,307.3 326.6,313.4 326.7,317.5 326.8,311.4 326.9,309.7 327,312.8 327.1,308 327.2,308.9 327.3,322.2 327.4,311.3 327.5,312.2 327.7,316.2 327.8,316.2 327.9,317.3 328,310.3 328.1,312.8 328.2,309.9 328.3,313.8 328.4,311.5 328.5,317.4 328.6,312.2 328.7,319.5 328.8,312.7 328.9,315.4 329,305.5 329.1,307 329.2,306.1 329.3,318.8 329.4,315.8 329.5,310.4 329.6,305.5 329.7,310.2 329.8,315.8 329.9,303.6 330,314.6 330.1,308.6 330.2,305 330.3,317 330.4,312.6 330.5,316.3 330.6,317.9 330.7,322.2 330.8,320.4 330.9,314.7 331,315 331.2,309.9 331.3,312.2 331.4,314.5 331.5,312.5 331.6,315.5 331.7,315.5 331.8,306.5 331.9,323.2 332,320.9 332.1,316.7 332.2,309.6 332.3,323.7 332.4,315.5 332.5,325.4 332.6,320.9 332.7,315.1 332.8,323.8 332.9,322.7 333,309.7 333.1,307.5 333.2,308.4 333.3,317.9 333.4,310.7 333.5,317.6 333.6,314.5 333.7,321.6 333.8,312.3 333.9,317 334,327.9 334,328.1 334.1,314 334.2,316.5 334.3,304.1 334.4,324.7 334.5,312.8 334.6,309.9 334.7,314.5 334.8,313.7 334.9,313 335,319.8 335.1,321.5 335.2,324.4 335.3,316.2 335.4,316.3 335.5,318 335.6,314.7 335.7,322.9 335.8,309.1 335.9,318.4 336,320.7 336.1,319.4 336.2,317.2 336.3,316.4 336.4,321 336.5,317 336.6,320.4 336.7,309.7 336.8,315.3 336.9,325.8 337,304.3 337.1,322.7 337.2,320.4 337.3,335.5 337.4,306.3 337.5,324.9 337.5,320.8 337.6,321.8 337.7,323.6 337.8,317.6 337.9,320.9 338,314.5 338.1,315.2 338.2,313.1 338.3,316.9 338.4,311.9 338.5,313.4 338.6,305.4 338.7,313.7 338.8,313 338.9,317.6 339,317.6 339.1,317.9 339.2,319.1 339.3,323.8 339.4,316.3 339.4,308.2 339.5,319.2 339.6,319.2 339.7,317.4 339.8,314.3 339.9,325 340,319 340.1,318.4 340.2,323.9 340.3,335.8 340.4,321.4 340.5,328.3 340.6,319.7 340.7,325.2 340.8,305.3 340.9,317.2 340.9,311.7 341,320 341.1,331.7 341.2,324.2 341.3,326.6 341.4,321.7 341.5,315.3 341.6,322.3 341.7,313.6 341.8,324.3 341.9,327.8 342,320.1 342.1,317.2 342.1,319.7 342.2,316 342.3,319.7 342.4,321.5 342.5,317.4 342.6,330.3 342.7,314.7 342.8,315.1 342.9,320.3 343,326 343.1,321.2 343.2,321.9 343.2,325.9 343.3,328.9 343.4,322.5 343.5,316.7 343.6,323.6 343.7,322.1 343.8,311.9 343.9,324.1 344,323.6 344.1,329.7 344.2,338.1 344.3,324.5 344.3,318.5 344.4,319.2 344.5,323.3 344.6,312 344.7,328.4 344.8,326.5 344.9,308.8 345,320.7 345.1,321.6 345.2,327 345.2,323.6 345.3,325.2 345.4,346 345.5,321.5 345.6,322.1 345.7,320.9 345.8,324.7 345.9,325.7 346,328 346,321.7 346.1,318.8 346.2,323.8 346.3,319.6 346.4,320.4 346.5,328.9 346.6,332.2 346.7,329.1 346.8,317.6 346.8,314.4 346.9,323.7 347,336.1 347.1,325.3 347.2,338 347.3,326.2 347.4,328.6 347.5,324.4 347.6,319.7 347.6,321.3 347.7,310.2 347.8,324.9 347.9,327.4 348,323.3 348.1,326.3 348.2,320.3 348.3,308.6 348.3,323.1 348.4,315.8 348.5,325.1 348.6,320.3 348.7,327.8 348.8,324.6 348.9,319.5 349,319.6 349,321 349.1,324.2 349.2,318.2 349.3,321.1 349.4,329.4 349.5,321.5 349.6,321.1 349.7,322.3 349.7,326.7 349.8,326.8 349.9,327.2 350,334.8 350.1,317.1 350.2,320.4 350.3,319.7 350.4,336.1 350.4,321.1 350.5,314.2 350.6,308 350.7,328.5 350.8,319 350.9,326.5 351,318.9 351,326 351.1,316.7 351.2,328.3 351.3,317.4 351.4,333.4 351.5,325.6 351.6,334.3 351.6,327.2 351.7,327.3 351.8,322.6 351.9,313.6 352,316.4 352.1,327.6 352.2,314.9 352.2,327.5 352.3,331.9 352.4,317.2 352.5,326.2 352.6,329 352.7,319.1 352.7,320.8 352.8,330 352.9,321 353,328.7 353.1,329.3 353.2,321.1 353.3,319.4 353.3,331.2 353.4,322.7 353.5,322.2 353.6,321.2 353.7,319.8 353.8,324.5 353.8,314.6 353.9,326.2 354,321.1 354.1,325.4 354.2,322.5 354.3,325.8 354.3,315.8 354.4,329.1 354.5,321 354.6,318.3 354.7,334.5 354.8,319.8 354.8,330.9 354.9,329.9 355,326.7 355.1,326.9 355.2,318 355.3,324 355.3,318.6 355.4,319.7 355.5,329.7 355.6,326.3 355.7,318.8 355.8,335.9 355.8,327.2 355.9,311.3 356,324.2 356.1,331.8 356.2,327.3 356.3,321.3 356.3,321.1 356.4,313.5 356.5,323.1 356.6,321.3 356.7,330.8 356.8,334.9 356.8,320.9 356.9,317.2 357,324.8 357.1,327 357.2,323.9 357.2,320.7 357.3,327.7 357.4,329.9 357.5,327.6 357.6,319.3 357.7,325.2 357.7,331.6 357.8,314.4 357.9,312.9 358,339.2 358.1,328.7 358.1,340.5 358.2,323.2 358.3,318.5 358.4,329.4 358.5,310.1 358.6,327.5 358.6,329 358.7,331.9 358.8,326.5 358.9,335.1 359,332.7 359,328.4 359.1,316.6 359.2,329.3 359.3,319.6 359.4,312 359.4,324.5 359.5,319 359.6,325.8 359.7,327.4 359.8,329.8 359.8,314.8 359.9,316.6 360,320.4 360.1,325.4 360.2,326.5 360.2,318.7 360.3,327.7 360.4,329.3 360.5,314.7 360.6,325.1 360.6,332.8 360.7,323.1 360.8,322.6 360.9,325.2 361,319.5 361,332.9 361.1,327.9 361.2,317.7 361.3,324.9 361.4,326.3 361.4,326.6 361.5,318.6 361.6,333.3 361.7,328.4 361.8,332.6 361.8,329.4 361.9,312.2 362,333.5 362.1,328.5 362.2,330.9 362.2,319.4 362.3,333.7 362.4,326.5 362.5,333.5 362.6,332.3 362.6,337.6 362.7,326.6 362.8,342.5 362.9,321.6 363,320.8 363,325.6 363.1,319.2 363.2,325.1 363.3,319.8 363.3,328.5 363.4,320.7 363.5,328.9 363.6,318.9 363.7,328.5 363.7,337.1 363.8,331.4 363.9,319 364,333.4 364,316.1 364.1,325.8 364.2,337.1 364.3,317.9 364.4,321.8 364.4,337.1 364.5,333.9 364.6,317.7 364.7,328.6 364.7,323.9 364.8,325.9 364.9,320.7 365,319.6 365.1,328.9 365.1,319.9 365.2,328.6 365.3,324.1 365.4,314.7 365.4,327.8 365.5,330.6 365.6,339.8 365.7,319.8 365.8,323.3 365.8,338.7 365.9,325.4 366,320.1 366.1,328.1 366.1,330.7 366.2,318.5 366.3,338.7 366.4,320.1 366.4,338.3 366.5,322.7 366.6,331 366.7,322.5 366.8,320 366.8,326.3 366.9,330.7 367,324 367.1,339.9 367.1,322.5 367.2,336.8 367.3,328.8 367.4,322.6 367.4,323.9 367.5,313.8 367.6,333.5 367.7,326.9 367.8,327.6 367.8,325.1 367.9,329.9 368,328.5 368.1,320.6 368.1,310.5 368.2,331.4 368.3,327.9 368.4,331.3 368.4,327.3 368.5,336.5 368.6,333.1 368.7,321.8 368.7,333.3 368.8,319.9 368.9,333.6 369,325.1 369,322.3 369.1,337.3 369.2,327.1 369.3,329.1 369.3,320.6 369.4,326 369.5,330.5 369.6,331.1 369.6,337.7 369.7,318.5 369.8,318.9 369.9,315.3 369.9,327.5 370,329.1 370.1,318 370.2,334.2 370.2,333.8 370.3,328 370.4,331.4 370.5,312.4 370.5,324.1 370.6,320.5 370.7,322.4 370.8,333.3 370.8,323.8 370.9,319 371,328.8 371.1,327.5 371.1,330.1 371.2,323.3 371.3,320.1 371.4,313 371.4,326 371.5,315.5 371.6,313.7 371.7,331 371.7,334.6 371.8,322.3 371.9,317.6 372,336.8 372,321.3 372.1,332.7 372.2,326.4 372.3,329.5 372.3,326.2 372.4,322.9 372.5,331.2 372.5,335.3 372.6,321.4 372.7,328.4 372.8,334.7 372.8,333.1 372.9,337.3 373,321.5 373.1,327 373.1,325.7 373.2,318.8 373.3,310.4 373.4,324.3 373.4,340.7 373.5,331.8 373.6,337.3 373.6,331.7 373.7,321.8 373.8,321.9 373.9,326.8 373.9,327.6 374,314 374.1,317.5 374.2,324.4 374.2,324.9 374.3,322.4 374.4,323 374.5,318.2 374.5,323.1 374.6,337.7 374.7,336 374.7,328.6 374.8,322.8 374.9,335.1 375,311.8 375,330.1 375.1,323 375.2,324.7 375.3,328.2 375.3,318.9 375.4,329.8 375.5,328.2 375.5,320.5 375.6,327.7 375.7,327.2 375.8,324.2 375.8,322.9 375.9,323.7 376,325.1 376,339.9 376.1,328.2 376.2,312.7 376.3,328.6 376.3,325 376.4,321.8 376.5,321.8 376.6,324.7 376.6,325.9 376.7,325.4 376.8,331.7 376.8,324.6 376.9,322.5 377,330 377.1,335.2 377.1,325.1 377.2,320.9 377.3,331.2 377.3,333.2 377.4,332.7 377.5,321.3 377.6,324.7 377.6,333.1 377.7,326.2 377.8,330.1 377.8,326.7 377.9,328.6 378,330.4 378.1,320.9 378.1,316.5 378.2,325.2 378.3,329.7 378.3,334.1 378.4,327.8 378.5,334.8 378.6,325.2 378.6,321.4 378.7,324.1 378.8,327.2 378.8,324.2 378.9,328.3 379,332.4 379,329.1 379.1,325.4 379.2,336 379.3,327.8 379.3,329.5 379.4,326.3 379.5,329.3 379.5,328.4 379.6,322.2 379.7,318 379.8,331.4 379.8,321.4 379.9,323.1 380,327.9 380,312.1 380.1,317.2 380.2,329.3 380.2,314.3 380.3,329.5 380.4,326.4 380.5,323.3 380.5,325.7 380.6,326.7 380.7,324.2 380.7,321.9 380.8,329.5 380.9,326.8 380.9,324.8 381,323.2 381.1,329.9 381.2,337.1 381.2,325.9 381.3,327.1 381.4,323.2 381.4,329.6 381.5,318.7 381.6,321.2 381.6,317.5 381.7,321.3 381.8,317.5 381.9,326.5 381.9,329.8 382,327.9 382.1,329.3 382.1,325.2 382.2,319 382.3,320.5 382.3,319.6 382.4,327.7 382.5,327.3 382.5,326.1 382.6,316.7 382.7,338.1 382.8,331.3 382.8,321.6 382.9,328.4 383,335 383,318.1 383.1,322 383.2,315.8 383.2,329.8 383.3,329.9 383.4,313.8 383.4,325.9 383.5,326.8 383.6,329.6 383.6,317.6 383.7,329.6 383.8,323.6 383.9,336.9 383.9,321.6 384,327.2 384.1,324.3 384.1,320.4 384.2,317.4 384.3,319.4 384.3,321.8 384.4,320.6 384.5,320.2 384.5,329.4 384.6,325.3 384.7,316.9 384.7,329.3 384.8,323 384.9,332.2 385,325.2 385,326.3 385.1,332.5 385.2,319.3 385.2,326.4 385.3,328.1 385.4,329.5 385.4,331.3 385.5,321.7 385.6,327.8 385.6,329.9 385.7,325.7 385.8,325.9 385.8,330.2 385.9,321.2 386,323.2 386,336.5 386.1,327 386.2,317.7 386.2,336.9 386.3,329.8 386.4,322.8 386.4,328.7 386.5,324.9 386.6,321.6 386.6,330.9 386.7,326.6 386.8,333.6 386.9,327 386.9,333.8 387,320.3 387.1,311.4 387.1,337.5 387.2,316.3 387.3,323.1 387.3,328.5 387.4,321.7 387.5,312 387.5,352.6 387.6,328.2 387.7,319.2 387.7,329 387.8,338.6 387.9,321.7 387.9,321.2 388,333.1 388.1,319.6 388.1,324.3 388.2,326 388.3,339.9 388.3,326.4 388.4,331.4 388.5,324.3 388.5,323 388.6,329.1 388.7,330.3 388.7,333.3 388.8,323.8 388.9,313 388.9,314.1 389,319.7 389.1,325.7 389.1,310.5 389.2,322.1 389.3,329.6 389.3,309.5 389.4,323.3 389.5,311.7 389.5,327.8 389.6,333.1 389.7,328 389.7,324.6 389.8,318.4 389.9,332.1 389.9,316.3 390,320 390.1,328.6 390.1,331.8 390.2,315 390.3,314.8 390.3,321.8 390.4,324.3 390.5,321.4 390.5,326.9 390.6,319.9 390.7,319.1 390.7,340.1 390.8,324.2 390.8,329.2 390.9,323.1 391,321.4 391,332.6 391.1,319 391.2,326.7 391.2,327.4 391.3,325.5 391.4,324.7 391.4,333.8 391.5,316 391.6,327.5 391.6,328 391.7,325.2 391.8,329.8 391.8,325.1 391.9,324.3 392,322.4 392,326.2 392.1,322.5 392.2,327.9 392.2,329.4 392.3,327.1 392.4,325 392.4,324 392.5,326.5 392.6,327 392.6,336.8 392.7,323.3 392.7,306.6 392.8,338.4 392.9,321.6 392.9,337.4 393,325.7 393.1,323.9 393.1,329.9 393.2,330.3 393.3,299.7 393.3,316.9 393.4,322.3 393.5,336.8 393.5,326.6 393.6,327 393.7,322.7 393.7,318 393.8,330.4 393.9,333.1 393.9,334.7 394,322.3 394,324.5 394.1,324 394.2,323.3 394.2,327 394.3,339.4 394.4,313.8 394.4,311.9 394.5,325.4 394.6,333.2 394.6,311.7 394.7,318 394.8,328.6 394.8,343.9 394.9,331.6 394.9,322.5 395,326.4 395.1,320.8 395.1,324.2 395.2,319.5 395.3,332.4 395.3,330.1 395.4,324.8 395.5,327.7 395.5,327.5 395.6,326.7 395.7,327.3 395.7,327.6 395.8,333.4 395.8,328.1 395.9,326.4 396,326.3 396,335.3 396.1,325.6 396.2,315.2 396.2,335.2 396.3,323.9 396.4,331.6 396.4,322.9 396.5,331.1 396.5,326.7 396.6,315.3 396.7,317.2 396.7,309.4 396.8,311.2 396.9,325.3 396.9,318.3 397,316.4 397.1,325.6 397.1,322.6 397.2,324.1 397.2,318.4 397.3,334.7 397.4,314.9 397.4,322.9 397.5,319.4 397.6,328 397.6,312.1 397.7,323.6 397.8,330.7 397.8,318.9 397.9,323.4 397.9,324 398,327.3 398.1,320.3 398.1,334.1 398.2,329.4 398.3,332.4 398.3,329.2 398.4,326.7 398.5,330.6 398.5,332.9 398.6,321.7 398.6,328.6 398.7,331.5 398.8,320.3 398.8,324.1 398.9,317.8 399,319.6 399,323.1 399.1,333.3 399.1,309.9 399.2,328.7 399.3,317.5 399.3,323.5 399.4,325.2 399.5,332.9 399.5,323.9 399.6,325.9 399.6,316.9 399.7,325.5 399.8,328.4 399.8,338.8 399.9,335.5 400,329.7 400,328.2 400.1,319.3 400.1,323.1 400.2,329.3 400.3,326.2 400.3,322.4 400.4,310.8 400.5,334.9 400.5,327.8 400.6,326.9 400.6,323.8 400.7,324.7 400.8,328.8 400.8,333.9 400.9,326.5 401,330.6 401,332 401.1,326.7 401.1,337.1 401.2,326.2 401.3,328.8 401.3,330 401.4,326.2 401.4,324.3 401.5,332.8 401.6,336.3 401.6,329.1 401.7,329.5 401.8,321.9 401.8,321.8 401.9,329.9 401.9,321.3 402,327.3 402.1,324.5 402.1,325.9 402.2,337.8 402.2,318.3 402.3,326.8 402.4,336.2 402.4,331.3 402.5,328.4 402.6,324.5 402.6,332.8 402.7,323.1 402.7,331.6 402.8,326.4 402.9,313.1 402.9,323.6 403,313.1 403,323 403.1,323.7 403.2,324.7 403.2,331 403.3,324.3 403.3,338.1 403.4,329.9 403.5,323.2 403.5,315.3 403.6,319 403.7,322 403.7,331.2 403.8,332.5 403.8,328.1 403.9,329.9 404,321.3 404,330.8 404.1,322.6 404.1,335.1 404.2,324.1 404.3,331.5 404.3,326.3 404.4,324.8 404.4,325.2 404.5,323.2 404.6,326.1 404.6,324.8 404.7,328.5 404.7,331.1 404.8,333.7 404.9,326.5 404.9,331.4 405,321.2 405,324.9 405.1,322.1 405.2,325.8 405.2,318.3 405.3,326.2 405.3,304.6 405.4,324.5 405.5,335.4 405.5,332.1 405.6,332.4 405.6,318.8 405.7,328.2 405.8,323.7 405.8,325.3 405.9,332.1 405.9,333.6 406,316.1 406,328.6 406.1,330.8 406.2,328.6 406.2,316.6 406.3,322.5 406.3,333 406.4,327.5 406.5,333.1 406.5,325.5 406.6,325 406.6,323.1 406.7,328.3 406.8,315.2 406.8,335.3 406.9,330.3 406.9,324.5 407,324.7 407.1,329.8 407.1,317.4 407.2,335 407.2,317.8 407.3,321.6 407.3,330.4 407.4,357 407.5,330.4 407.5,331.7 407.6,325.5 407.6,340.1 407.7,319.8 407.8,333.8 407.8,333.1 407.9,340.5 407.9,324.9 408,334 408.1,322.8 408.1,328.8 408.2,342.6 408.2,333.3 408.3,320.2 408.3,314.2 408.4,329.7 408.5,318.1 408.5,331.6 408.6,329.9 408.6,343.2 408.7,316.4 408.8,326.4 408.8,324.7 408.9,338 408.9,317.2 409,323.8 409,329.7 409.1,334.6 409.2,332.2 409.2,327 409.3,330.4 409.3,327.2 409.4,317.6 409.4,328.3 409.5,325.2 409.6,328.7 409.6,329.9 409.7,315.9 409.7,327.9 409.8,328.8 409.8,333.5 409.9,325.8 410,335.6 410,326 410.1,313.2 410.1,315.7 410.2,319.4 410.3,316.7 410.3,327.5 410.4,321.9 410.4,324 410.5,333.7 410.5,330.5 410.6,325.3 410.7,325.7 410.7,321.2 410.8,324.6 410.8,329.6 410.9,329.3 410.9,343.9 411,324.4 411.1,313.1 411.1,307.1 411.2,329.7 411.2,333.6 411.3,330.8 411.3,318.1 411.4,342.4 411.4,328.9 411.5,326.1 411.6,329 411.6,332.5 411.7,338.6 411.7,325.1 411.8,312.6 411.8,322.2 411.9,318.6 412,324.4 412,313 412.1,343.3 412.1,335.2 412.2,322.8 412.2,331.7 412.3,324.6 412.4,325.7 412.4,320.9 412.5,324.3 412.5,333.3 412.6,327.7 412.6,323.2 412.7,324.4 412.7,333.6 412.8,333.8 412.9,324.5 412.9,332.1 413,325.2 413,312.5 413.1,334.7 413.1,335.6 413.2,328.6 413.3,335.5 413.3,316.5 413.4,326 413.4,322 413.5,326.7 413.5,332.9 413.6,332.5 413.6,331.5 413.7,330.1 413.8,321.8 413.8,335.1 413.9,321.3 413.9,324 414,333.4 414,332.5 414.1,337.6 414.1,334.5 414.2,334.2 414.3,308.8 414.3,323.4 414.4,316.8 414.4,341.5 414.5,329.8 414.5,322.2 414.6,332.6 414.6,325.4 414.7,324.6 414.8,327.6 414.8,318.1 414.9,345.3 414.9,327 415,327.6 415,320 415.1,334.2 415.1,337.5 415.2,331.9 415.3,345.9 415.3,329.4 415.4,329 415.4,332.4 415.5,323.8 415.5,317.7 415.6,319.7 415.6,332.7 415.7,323.2 415.8,336.3 415.8,324.7 415.9,322.9 415.9,314.7 416,330.4 416,322.2 416.1,329.4 416.1,329.3 416.2,316.4 416.2,314.3 416.3,326.1 416.4,332.2 416.4,318.6 416.5,326.3 416.5,305.6 416.6,329.5 416.6,321.2 416.7,326 416.7,331.8 416.8,333.1 416.8,328.6 416.9,333.9 417,318.6 417,316.9 417.1,329.5 417.1,327.2 417.2,317.1 417.2,349.4 417.3,334.8 417.3,330.9 417.4,318.2 417.4,335.7 417.5,327.3 417.6,339.7 417.6,345.7 417.7,326.2 417.7,328.2 417.8,327.8 417.8,331.3 417.9,329.7 417.9,325.2 418,329.7 418,328.1 418.1,317 418.1,326.8 418.2,327 418.3,335.5 418.3,334.1 418.4,329.1 418.4,317.7 418.5,330.1 418.5,337.3 418.6,333.2 418.6,329 418.7,327.3 418.7,337.6 418.8,326 418.8,328.1 418.9,325.5 419,321.3 419,339.2 419.1,317.5 419.1,322.3 419.2,314.2 419.2,323.6 419.3,332.1 419.3,310.9 419.4,326.7 419.4,323.3 419.5,339.2 419.5,321.8 419.6,322.8 419.6,322.8 419.7,335.9 419.8,325.4 419.8,323.2 419.9,331.7 419.9,330.2 420,334.1 420,333.4 420.1,314.4 420.1,328.6 420.2,325.5 420.2,324.5 420.3,329.4 420.3,325.6 420.4,329.3 420.4,333.8 420.5,320.4 420.6,337.9 420.6,330.3 420.7,323.1 420.7,346.7 420.8,327.4 420.8,328.8 420.9,338 420.9,321 421,326.5 421,327 421.1,323.1 421.1,302.1 421.2,327.7 421.2,332.8 421.3,331.1 421.3,318.3 421.4,324.9 421.5,336.6 421.5,325.5 421.6,316.9 421.6,327.4 421.7,327.9 421.7,329.5 421.8,337.6 421.8,327.3 421.9,324.9 421.9,322.9 422,324.2 422,316.7 422.1,334.9 422.1,325.2 422.2,326.8 422.2,328 422.3,307.6 422.3,326 422.4,321.5 422.4,325.3 422.5,325.3 422.6,332.3 422.6,334.8 422.7,323.3 422.7,335.1 422.8,330.2 422.8,316.1 422.9,323.4 422.9,335.3 423,301.9 423,323.5 423.1,336.8 423.1,316.9 423.2,332.8 423.2,331.7 423.3,321.5 423.3,339.6 423.4,318.1 423.4,325.1 423.5,318.3 423.5,320.9 423.6,323.5 423.6,332.1 423.7,314.6 423.7,328.8 423.8,326.3 423.9,326 423.9,324.8 424,329.5 424,333.6 424.1,330.5 424.1,327.2 424.2,331.2 424.2,318.4 424.3,341.9 424.3,329.3 424.4,330.6 424.4,321 424.5,331.5 424.5,312.7 424.6,317.5 424.6,326.3 424.7,323 424.7,322.8 424.8,328.1 424.8,323.9 424.9,323.4 424.9,330.3 425,320.2 425,332.6 425.1,331.8 425.1,329.1 425.2,321.4 425.2,324.4 425.3,321 425.3,327.1 425.4,348 425.4,336.8 425.5,331.7 425.5,327.7 425.6,316.2 425.6,326 425.7,330.3 425.8,325.6 425.8,343.3 425.9,329.7 425.9,321.2 426,320.8 426,336.8 426.1,323.4 426.1,325.6 426.2,325.2 426.2,328.4 426.3,332.4 426.3,327.8 426.4,332.8 426.4,345.9 426.5,336.7 426.5,336.5 426.6,331.1 426.6,322.1 426.7,325.8 426.7,317.7 426.8,333.1 426.8,311.1 426.9,334.7 426.9,332 427,321.7 427,325 427.1,327.9 427.1,334.8 427.2,320.5 427.2,330 427.3,332.4 427.3,327.8 427.4,326.1 427.4,321.6 427.5,316.5 427.5,328.1 427.6,323.3 427.6,330.3 427.7,318.2 427.7,318.4 427.8,324.1 427.8,330.5 427.9,338.8 427.9,332.9 428,339 428,321.5 428.1,322.3 428.1,329.9 428.2,325.3 428.2,320.4 428.3,331.2 428.3,333.7 428.4,332.8 428.4,321.2 428.5,317.5 428.5,327 428.6,329.3 428.6,335.7 428.7,334.8 428.7,327.5 428.8,320.7 428.8,324.1 428.9,331.4 428.9,315.9 429,338 429,331.2 429.1,337.6 429.1,328.4 429.2,333.3 429.2,327.5 429.3,324.4 429.3,328.2 429.4,317.5 429.4,343 429.5,328.5 429.5,331.8 429.6,321.6 429.6,325.1 429.7,328.1 429.7,324.8 429.8,323.5 429.8,327.8 429.9,328.7 429.9,332.1 430,319.2 430,329 430.1,329.2 430.1,331.4 430.2,323.7 430.2,331.8 430.3,318.9 430.3,317.2 430.4,339.1 430.4,317.7 430.5,322.7 430.5,311.3 430.6,329.5 430.6,329.3 430.7,325.5 430.7,338.9 430.8,336.1 430.8,328.8 430.9,336.4 430.9,332.2 431,327.6 431,327 431.1,318.6 431.1,333 431.2,334.1 431.2,330.1 431.3,334 431.3,332.6 431.4,326.1 431.4,333.2 431.5,321.6 431.5,326 431.5,331 431.6,325.9 431.6,322.8 431.7,333.4 431.7,311.6 431.8,323.2 431.8,317.6 431.9,321.4 431.9,334.1 432,330.5 432,324.3 432.1,352.3 432.1,322.9 432.2,314 432.2,326.2 432.3,332.7 432.3,337.9 432.4,327.3 432.4,320.4 432.5,319.8 432.5,318.6 432.6,324.3 432.6,317.7 432.7,337.8 432.7,327.1 432.8,334.5 432.8,325.7 432.9,317.7 432.9,320.2 433,335.1 433,329.6 433.1,317.1 433.1,321.6 433.2,330.7 433.2,330.2 433.3,321.9 433.3,332.4 433.3,334.1 433.4,323.3 433.4,336.8 433.5,314.1 433.5,326.5 433.6,327.3 433.6,317 433.7,327.1 433.7,303 433.8,324.9 433.8,323.6 433.9,328.1 433.9,334.3 434,329.4 434,328.4 434.1,327.6 434.1,334.9 434.2,324.4 434.2,332.3 434.3,327.4 434.3,335 434.4,320.4 434.4,324.6 434.5,324.9 434.5,319.2 434.6,332 434.6,334.8 434.7,330.8 434.7,317.8 434.7,350.1 434.8,322.4 434.8,324.1 434.9,340 434.9,319.8 435,322.4 435,325.3 435.1,329.4 435.1,329.3 435.2,329.6 435.2,331 435.3,319.4 435.3,329.1 435.4,308.1 435.4,322.8 435.5,332.7 435.5,340.7 435.6,325.2 435.6,323.7 435.7,333.4 435.7,324.2 435.7,317.9 435.8,331.3 435.8,315.7 435.9,322 435.9,322.9 436,333.1 436,318.1 436.1,312.9 436.1,324.2 436.2,329.4 436.2,325.5 436.3,331.5 436.3,324.6 436.4,325.8 436.4,325.9 436.5,328.8 436.5,326.2 436.6,324 436.6,333.9 436.7,327.3 436.7,325.6 436.7,319.8 436.8,322.9 436.8,329.6 436.9,322.2 436.9,327.5 437,316.7 437,315 437.1,334.7 437.1,328.8 437.2,331.1 437.2,342.3 437.3,321.7 437.3,332.4 437.4,326.7 437.4,326.5 437.5,320.1 437.5,316.6 437.5,334.4 437.6,332.7 437.6,333 437.7,321.5 437.7,325.8 437.8,331 437.8,331.1 437.9,319.2 437.9,321.4 438,330.1 438,329.4 438.1,321.7 438.1,325.5 438.2,326 438.2,334.5 438.3,327.1 438.3,327.8 438.3,312.8 438.4,336.5 438.4,347 438.5,330 438.5,329.2 438.6,356.9 438.6,323.9 438.7,327.9 438.7,328.9 438.8,324.7 438.8,322 438.9,333.3 438.9,323.3 439,307 439,326.4 439,335.3 439.1,332.1 439.1,332.7 439.2,336.2 439.2,324.7 439.3,327.6 439.3,319.7 439.4,333 439.4,342.4 439.5,331.6 439.5,343.3 439.6,331.1 439.6,325 439.7,320.1 439.7,340.2 439.7,318.8 439.8,329.5 439.8,326 439.9,315.8 439.9,324.4 440,328.9 440,326.9 440.1,325.3 440.1,328.6 440.2,314.3 440.2,321.4 440.3,350 440.3,316.4 440.3,339.5 440.4,336.6 440.4,328.4 440.5,329.4 440.5,323.9 440.6,332.5 440.6,331.9 440.7,335.2 440.7,319.2 440.8,328.5 440.8,313.3 440.9,328.3 440.9,321.7 440.9,327.1 441,337.9 441,316 441.1,337.5 441.1,329.4 441.2,327.8 441.2,338.4 441.3,323.3 441.3,332.8 441.4,318.3 441.4,337.8 441.5,338 441.5,325.9 441.5,326.1 441.6,328.5 441.6,337.8 441.7,332 441.7,333.9 441.8,334.5 441.8,332.3 441.9,329.3 441.9,337 442,322.1 442,323.9 442,320.4 442.1,320.8 442.1,331.7 442.2,323 442.2,326.9 442.3,336.3 442.3,330.4 442.4,322.2 442.4,312.2 442.5,317.9 442.5,316.9 442.5,332.9 442.6,328.2 442.6,326 442.7,313.1 442.7,331.5 442.8,326.1 442.8,332.4 442.9,331.6 442.9,331.2 443,333.2 443,339.5 443,296.2 443.1,330.1 443.1,322.1 443.2,322.3 443.2,337.1 443.3,323.2 443.3,326.1 443.4,340.7 443.4,327 443.5,340.1 443.5,337.7 443.5,326.9 443.6,322.7 443.6,322.8 443.7,323.6 443.7,330.3 443.8,332.2 443.8,315.9 443.9,328.5 443.9,325.6 444,333.7 444,333.3 444,324.2 444.1,323.8 444.1,327.3 444.2,326.8 444.2,346.1 444.3,328.2 444.3,323.9 444.4,326 444.4,311.7 444.4,341.8 444.5,330 444.5,327.9 444.6,327.4 444.6,328.5 444.7,331.4 444.7,301.3 444.8,311.9 444.8,347 444.9,329.9 444.9,319.1 444.9,331.7 445,327.8 445,324.9 445.1,321.7 445.1,326 445.2,316.8 445.2,332.3 445.3,331.7 445.3,324.5 445.3,330 445.4,323.3 445.4,339.4 445.5,332.8 445.5,338.3 445.6,324.4 445.6,328 445.7,331.1 445.7,329.3 445.7,340.4 445.8,343.6 445.8,322.5 445.9,325.2 445.9,332.2 446,316.5 446,332.3 446.1,325.9 446.1,336.7 446.2,339.9 446.2,321.8 446.2,340.8 446.3,326.9 446.3,320.2 446.4,330.3 446.4,316.1 446.5,329.4 446.5,331.7 446.6,322.8 446.6,332 446.6,317.4 446.7,337.3 446.7,332.8 446.8,325.6 446.8,318.7 446.9,341.2 446.9,329.4 446.9,335.5 447,333.2 447,315.5 447.1,336.4 447.1,313.6 447.2,328.8 447.2,330.5 447.3,330.1 447.3,317.2 447.3,323.2 447.4,336.1 447.4,326.4 447.5,338.3 447.5,331 447.6,326.3 447.6,320.7 447.7,344 447.7,337.9 447.7,325.1 447.8,322.8 447.8,332 447.9,326 447.9,319.6 448,328.4 448,331.7 448.1,338.2 448.1,326.6 448.1,333.4 448.2,309.7 448.2,328.1 448.3,337.1 448.3,335.8 448.4,352.8 448.4,325.6 448.4,331.3 448.5,319.8 448.5,334.8 448.6,330.5 448.6,341.1 448.7,313.3 448.7,325.5 448.8,330.8 448.8,344.4 448.8,333.1 448.9,323.1 448.9,323.1 449,323 449,331.7 449.1,338.5 449.1,318.3 449.2,332 449.2,328.6 449.2,344.6 449.3,332 449.3,340.3 449.4,333.4 449.4,322.4 449.5,341.7 449.5,325.1 449.5,338.8 449.6,337.8 449.6,317.8 449.7,334 449.7,328.9 449.8,334.6 449.8,333.1 449.8,332.2 449.9,337.4 449.9,330.6 450,323.6 450,325.1 450.1,322.6 450.1,338.9 450.2,324.8 450.2,328.8 450.2,334.2 450.3,344.3 450.3,331.7 450.4,333.4 450.4,329.2 450.5,328.1 450.5,318.7 450.5,324.2 450.6,327 450.6,327.7 450.7,328.2 450.7,326.3 450.8,320.8 450.8,318.1 450.8,329.7 450.9,324.3 450.9,342.2 451,343.1 451,334.9 451.1,318.1 451.1,321.3 451.1,328.7 451.2,315.6 451.2,328.5 451.3,333.3 451.3,348.1 451.4,343.6 451.4,335.9 451.5,341.7 451.5,336.1 451.5,333.8 451.6,329.5 451.6,328.2 451.7,330.7 451.7,325.5 451.8,330.9 451.8,331.3 451.8,351.7 451.9,332.6 451.9,323.2 452,334.6 452,321.5 452.1,323.4 452.1,331.5 452.1,346 452.2,324.4 452.2,323.7 452.3,322.7 452.3,332.2 452.4,326.7 452.4,337.5 452.4,329.9 452.5,328.3 452.5,336.9 452.6,335.7 452.6,340.4 452.7,316 452.7,320.4 452.7,329.9 452.8,340.9 452.8,329.5 452.9,330.1 452.9,307.9 453,335.4 453,330.3 453,337.2 453.1,333.8 453.1,332.6 453.2,329.2 453.2,335.3 453.3,336.2 453.3,331.9 453.3,338.9 453.4,334.7 453.4,331.9 453.5,346.2 453.5,335.5 453.5,326.1 453.6,325.1 453.6,330.2 453.7,317 453.7,327.3 453.8,329 453.8,336.1 453.8,331.7 453.9,333.5 453.9,326.2 454,332 454,339 454.1,334.5 454.1,328.7 454.1,332.8 454.2,335.2 454.2,331.2 454.3,337.8 454.3,337.8 454.4,339.8 454.4,329.7 454.4,338.6 454.5,333.6 454.5,327.9 454.6,328 454.6,326.1 454.7,357.7 454.7,326.9 454.7,321.2 454.8,322 454.8,328.8 454.9,335.6 454.9,340.3 454.9,339.3 455,317.2 455,336.1 455.1,336.8 455.1,324.9 455.2,322.7 455.2,333.1 455.2,333.5 455.3,321.1 455.3,325.9 455.4,323.8 455.4,338.3 455.5,327.8 455.5,338.1 455.5,334 455.6,324.7 455.6,339.4 455.7,343.4 455.7,333.3 455.7,332.3 455.8,342.1 455.8,330.5 455.9,332.7 455.9,322.9 456,337 456,334.1 456,343.8 456.1,326.7 456.1,339.5 456.2,329 456.2,322.8 456.3,332.2 456.3,328.5 456.3,330.4 456.4,343.9 456.4,342.2 456.5,335.5 456.5,319.3 456.5,329.2 456.6,326.3 456.6,329.8 456.7,330.6 456.7,331.4 456.8,320.4 456.8,330.1 456.8,343.2 456.9,318.1 456.9,334.6 457,327.1 457,336.2 457,332.9 457.1,323.3 457.1,341.8 457.2,325.3 457.2,337.4 457.3,334.1 457.3,330.9 457.3,321.7 457.4,332.4 457.4,328.7 457.5,332.7 457.5,331 457.5,320.9 457.6,329.6 457.6,335.4 457.7,333.7 457.7,328.7 457.8,335.3 457.8,322.3 457.8,326.9 457.9,337.4 457.9,328.9 458,331.4 458,324.5 458,309 458.1,333.3 458.1,335.8 458.2,326.2 458.2,346 458.3,334.3 458.3,320.7 458.3,330.2 458.4,330.7 458.4,341.6 458.5,324.2 458.5,331.6 458.5,337.7 458.6,331 458.6,337.4 458.7,346.8 458.7,347.1 458.7,325.8 458.8,318.5 458.8,325 458.9,342.4 458.9,339.9 459,337.5 459,338.3 459,334.9 459.1,330.8 459.1,322 459.2,339.5 459.2,331.5 459.2,335.2 459.3,313.7 459.3,343.8 459.4,337.2 459.4,336 459.4,339.7 459.5,332.5 459.5,326.3 459.6,329.8 459.6,344.6 459.7,329.8 459.7,328.5 459.7,336.4 459.8,331.3 459.8,336.7 459.9,333.5 459.9,337.9 459.9,333.1 460,347.8 460,327.8 460.1,329.4 460.1,332.6 460.1,325.4 460.2,334 460.2,342.3 460.3,330.8 460.3,323.6 460.3,330.9 460.4,332.5 460.4,327 460.5,332.8 460.5,331.7 460.6,342.4 460.6,340.2 460.6,332.1 460.7,337.1 460.7,343.7 460.8,332.2 460.8,333.5 460.8,343.7 460.9,337.8 460.9,338.6 461,340.1 461,343.7 461,334.9 461.1,332.2 461.1,326.5 461.2,334.4 461.2,335.3 461.2,332.8 461.3,346.3 461.3,336.3 461.4,324.6 461.4,337.1 461.5,334.8 461.5,330.9 461.5,327.5 461.6,332.3 461.6,338.7 461.7,323 461.7,332.3 461.7,333.4 461.8,329.7 461.8,337.6 461.9,336.2 461.9,326.2 461.9,337.8 462,329.3 462,330 462.1,328.9 462.1,334.3 462.1,322.2 462.2,344.2 462.2,335.7 462.3,345.2 462.3,332.2 462.3,343.8 462.4,329.7 462.4,330.8 462.5,340.2 462.5,339.7 462.5,325.8 462.6,336 462.6,332.4 462.7,342.8 462.7,334.1 462.7,344.1 462.8,329.6 462.8,330.5 462.9,334.2 462.9,335.6 462.9,333.1 463,340.8 463,326.2 463.1,320.6 463.1,341.7 463.1,328.2 463.2,337.5 463.2,340.7 463.3,335.1 463.3,343 463.4,332.6 463.4,337.5 463.4,325.9 463.5,319.5 463.5,338.7 463.6,333.3 463.6,327.8 463.6,334 463.7,341.6 463.7,337.7 463.8,333.1 463.8,341.1 463.8,333.5 463.9,343.1 463.9,334.4 464,333.8 464,329.9 464,343.1 464.1,335.4 464.1,346.4 464.2,328.2 464.2,332.7 464.2,334 464.3,342.9 464.3,329.9 464.4,327.4 464.4,334.6 464.4,336.5 464.5,337.4 464.5,337.5 464.6,331.9 464.6,336.4 464.6,325.3 464.7,337 464.7,323.8 464.8,345.6 464.8,331.6 464.8,328.3 464.9,335.2 464.9,333.4 465,332.8 465,340.5 465,334.2 465.1,325.5 465.1,336.1 465.2,316.4 465.2,330.7 465.2,338.8 465.3,337.9 465.3,334.1 465.4,322.5 465.4,327 465.4,338.7 465.5,329.2 465.5,335.6 465.5,345.5 465.6,336 465.6,331.1 465.7,336.3 465.7,347.7 465.7,333.4 465.8,348 465.8,330.5 465.9,344.6 465.9,341.3 465.9,328.7 466,330.7 466,340.7 466.1,330.3 466.1,331.2 466.1,325.9 466.2,333.4 466.2,336.3 466.3,337.4 466.3,329.6 466.3,325.6 466.4,328 466.4,335.8 466.5,332.5 466.5,329.7 466.5,339.3 466.6,327.5 466.6,334.8 466.7,349.7 466.7,337.1 466.7,338.1 466.8,324 466.8,341.3 466.9,342.4 466.9,336.1 466.9,344.7 467,343 467,337.1 467.1,335.2 467.1,313.1 467.1,348.9 467.2,330.4 467.2,335.9 467.2,320.7 467.3,337.1 467.3,339.2 467.4,329.5 467.4,342.6 467.4,329.1 467.5,337 467.5,344.8 467.6,344.4 467.6,341 467.6,349 467.7,333 467.7,347.3 467.8,332.8 467.8,344.1 467.8,332.8 467.9,330.8 467.9,331.4 468,332.5 468,322.9 468,345.4 468.1,331.7 468.1,338.4 468.2,333.9 468.2,328.6 468.2,344.8 468.3,334.6 468.3,341.8 468.3,343.4 468.4,336.5 468.4,339.2 468.5,339.2 468.5,330 468.5,350.8 468.6,329.8 468.6,347.4 468.7,332.9 468.7,334.6 468.7,339.7 468.8,351.7 468.8,336.3 468.9,330.9 468.9,336.1 468.9,328.2 469,334.2 469,340.2 469.1,333.8 469.1,332.4 469.1,341.7 469.2,327.5 469.2,329 469.2,332.9 469.3,334.4 469.3,337.2 469.4,332.7 469.4,329.9 469.4,334.4 469.5,339.8 469.5,332.9 469.6,346.8 469.6,336.6 469.6,323.6 469.7,335.2 469.7,343.2 469.8,335.6 469.8,345.9 469.8,333.8 469.9,337.8 469.9,336.4 469.9,341.5 470,333.4 470,326.2 470.1,337.2 470.1,337.8 470.1,334.6 470.2,344.3 470.2,333.2 470.3,325.4 470.3,336.4 470.3,322.8 470.4,319.5 470.4,347.9 470.4,339.5 470.5,337.4 470.5,326.5 470.6,336.5 470.6,316.6 470.6,324.7 470.7,341.7 470.7,337.1 470.8,343.7 470.8,333.1 470.8,334.2 470.9,343 470.9,335.1 470.9,346.2 471,331 471,341.7 471.1,341.9 471.1,335.9 471.1,337.4 471.2,351.2 471.2,333.6 471.3,336.4 471.3,334.6 471.3,327.3 471.4,333.2 471.4,331.1 471.5,336.3 471.5,332.6 471.5,341 471.6,333 471.6,343.4 471.6,337.9 471.7,339.4 471.7,336.9 471.8,328.4 471.8,339.1 471.8,346.8 471.9,346.2 471.9,338 471.9,330.4 472,335.7 472,331.5 472.1,329.6 472.1,355.5 472.1,330.8 472.2,335.9 472.2,334.4 472.3,342.3 472.3,332.3 472.3,344.7 472.4,324 472.4,348.7 472.4,340.6 472.5,343.4 472.5,341.5 472.6,324.2 472.6,334.2 472.6,331.5 472.7,339.8 472.7,347.5 472.8,332.7 472.8,334.1 472.8,340.5 472.9,348.6 472.9,335.6 472.9,345.2 473,342.5 473,341.5 473.1,332.1 473.1,332.2 473.1,343.9 473.2,344.5 473.2,340.8 473.2,333.6 473.3,334.3 473.3,341.3 473.4,326.2 473.4,331.6 473.4,344.6 473.5,317.2 473.5,342.1 473.6,349.7 473.6,348.6 473.6,335.8 473.7,342.9 473.7,335.2 473.7,336.6 473.8,343.4 473.8,340.9 473.9,342.6 473.9,333.8 473.9,339.4 474,336.7 474,361.5 474,338.3 474.1,345.7 474.1,347.2 474.2,335.2 474.2,350.5 474.2,334.3 474.3,333.7 474.3,341.7 474.4,341.9 474.4,330.9 474.4,327.4 474.5,328.6 474.5,335.9 474.5,344.8 474.6,351.6 474.6,329.4 474.7,339.8 474.7,345 474.7,341.9 474.8,349.5 474.8,344.8 474.8,337.2 474.9,343.6 474.9,337.1 475,333.7 475,338.7 475,336 475.1,344.3 475.1,345.6 475.1,341.9 475.2,338.9 475.2,330.1 475.3,335.7 475.3,328.7 475.3,335.8 475.4,332.1 475.4,336.6 475.4,329.8 475.5,341.2 475.5,348.1 475.6,329.8 475.6,335.9 475.6,338.5 475.7,351.5 475.7,339.7 475.7,339 475.8,340.9 475.8,328.7 475.9,336.1 475.9,351.9 475.9,320.2 476,332.8 476,347.4 476,345 476.1,338.7 476.1,325.1 476.2,337.5 476.2,336.4 476.2,332.3 476.3,333.9 476.3,342 476.3,337.6 476.4,329.9 476.4,330.7 476.5,337.1 476.5,336.8 476.5,349.1 476.6,340.4 476.6,337.1 476.6,339.5 476.7,339.3 476.7,323.4 476.8,333.5 476.8,340.2 476.8,339.6 476.9,341.6 476.9,341.4 476.9,336 477,338 477,328.6 477.1,345.2 477.1,335.8 477.1,334.1 477.2,344.3 477.2,335.5 477.2,338.4 477.3,334.3 477.3,337 477.4,343.8 477.4,341.6 477.4,348.6 477.5,343.4 477.5,336.1 477.5,342.6 477.6,333.6 477.6,336.7 477.7,340.1 477.7,327 477.7,322.8 477.8,351.8 477.8,346.8 477.8,334.3 477.9,338.8 477.9,341.5 478,325.8 478,339.5 478,345.2 478.1,344.5 478.1,339 478.1,342.6 478.2,349 478.2,331.8 478.2,335.9 478.3,332.8 478.3,338 478.4,340.7 478.4,350.9 478.4,338.2 478.5,354.7 478.5,336.7 478.5,352.6 478.6,345.2 478.6,336.3 478.7,345.8 478.7,337.6 478.7,347.5 478.8,343.8 478.8,362.3 478.8,351.4 478.9,342.8 478.9,338.1 479,329.7 479,332.5 479,343.1 479.1,329.6 479.1,327.3 479.1,334.5 479.2,338.4 479.2,342.7 479.2,345.4 479.3,342.5 479.3,340.3 479.4,341.6 479.4,337.8 479.4,351.6 479.5,331 479.5,340.4 479.5,330.5 479.6,333 479.6,343 479.7,334.5 479.7,343.9 479.7,343.3 479.8,341.2 479.8,324.8 479.8,359 479.9,339.5 479.9,338.2 479.9,335.9 480,346.7 480,344.1 480.1,352.8 480.1,331.8 480.1,343.8 480.2,346.6 480.2,352.3 480.2,349.6 480.3,342 480.3,341.8 480.4,324.6 480.4,325.4 480.4,335.7 480.5,338.7 480.5,325.2 480.5,339.4 480.6,337.8 480.6,329.2 480.6,337.7 480.7,333.6 480.7,330.7 480.8,342.8 480.8,343.6 480.8,336.8 480.9,341.7 480.9,330.6 480.9,342.2 481,351.8 481,342.3 481,349.3 481.1,334 481.1,326.9 481.2,347.9 481.2,328.4 481.2,324.4 481.3,353.1 481.3,337.5 481.3,343 481.4,342.3 481.4,329.7 481.5,338.6 481.5,335.1 481.5,333.4 481.6,343.6 481.6,333.4 481.6,343.5 481.7,348.5 481.7,333.4 481.7,348.3 481.8,337.3 481.8,334.4 481.9,334.1 481.9,339.7 481.9,340.1 482,339.1 482,349 482,341.9 482.1,340.8 482.1,336.2 482.1,345.2 482.2,345.8 482.2,329.1 482.3,338.5 482.3,342.4 482.3,332 482.4,341.8 482.4,330.3 482.4,333.5 482.5,326.5 482.5,333.7 482.5,340.2 482.6,344.4 482.6,342.3 482.7,353.1 482.7,335.6 482.7,338 482.8,344.8 482.8,337.2 482.8,341.1 482.9,333.6 482.9,334 482.9,340.2 483,335.2 483,342.3 483,353.6 483.1,343.4 483.1,335.5 483.2,331.3 483.2,341.4 483.2,348.1 483.3,330.6 483.3,346.1 483.3,345.4 483.4,348.7 483.4,344.2 483.4,335.2 483.5,346.4 483.5,339.5 483.6,349 483.6,338.6 483.6,342 483.7,347.6 483.7,349.6 483.7,339.7 483.8,330.4 483.8,347.4 483.8,343.2 483.9,328.3 483.9,343.2 484,343.4 484,342.9 484,345.8 484.1,326.9 484.1,335.9 484.1,342.2 484.2,333.8 484.2,336.4 484.2,339.4 484.3,332.1 484.3,341.8 484.3,337.4 484.4,331.4 484.4,343.1 484.5,343.7 484.5,333.7 484.5,332.8 484.6,336.6 484.6,343 484.6,347.5 484.7,339.5 484.7,344.5 484.7,339.5 484.8,336.5 484.8,343.1 484.9,348.1 484.9,336.5 484.9,337 485,328.6 485,337.8 485,339.3 485.1,341.5 485.1,347.9 485.1,340.8 485.2,333.1 485.2,335.7 485.2,339.8 485.3,337.9 485.3,337.2 485.4,341.9 485.4,338.7 485.4,330.9 485.5,351 485.5,342.9 485.5,345.4 485.6,336.8 485.6,346.1 485.6,338.6 485.7,348.5 485.7,346.8 485.7,349 485.8,343.9 485.8,337 485.9,341.2 485.9,335.9 485.9,343.7 486,344 486,341.7 486,339.7 486.1,341.5 486.1,342.8 486.1,349.6 486.2,334.4 486.2,338.6 486.2,341.2 486.3,350.1 486.3,337.1 486.4,339.8 486.4,353.2 486.4,340.1 486.5,351 486.5,343.7 486.5,347.9 486.6,341.5 486.6,343.1 486.6,345.9 486.7,351.3 486.7,343 486.7,349.1 486.8,348.4 486.8,346 486.9,350 486.9,336.9 486.9,338 487,348.2 487,343.2 487,351.6 487.1,345.4 487.1,357.5 487.1,339.2 487.2,342.2 487.2,345.4 487.2,339.2 487.3,338.2 487.3,350 487.3,349.5 487.4,340.8 487.4,345.8 487.5,336.5 487.5,351.2 487.5,330.5 487.6,339.8 487.6,347.6 487.6,341.2 487.7,341.1 487.7,350.7 487.7,337.7 487.8,338.5 487.8,342.8 487.8,347.5 487.9,343.9 487.9,355.1 487.9,343.4 488,338.6 488,343.6 488.1,332.2 488.1,338.7 488.1,347.7 488.2,334.8 488.2,340 488.2,337.8 488.3,339.8 488.3,337.7 488.3,338.6 488.4,341.9 488.4,341.5 488.4,347.8 488.5,335.5 488.5,341.3 488.5,351.8 488.6,341.9 488.6,345.9 488.7,345.7 488.7,328.5 488.7,331.1 488.8,346.4 488.8,342.2 488.8,350.6 488.9,340.4 488.9,340.8 488.9,340.8 489,340.9 489,345.1 489,334.9 489.1,340.4 489.1,341 489.1,340.6 489.2,336.7 489.2,352.1 489.3,336.8 489.3,344.5 489.3,340.5 489.4,339.9 489.4,336.6 489.4,344.9 489.5,333.6 489.5,340.9 489.5,342.5 489.6,342.2 489.6,338 489.6,339.5 489.7,347.8 489.7,333.3 489.7,338.6 489.8,347.2 489.8,339 489.8,342 489.9,345 489.9,341.9 490,339 490,351.3 490,342.8 490.1,353.1 490.1,341.3 490.1,347.2 490.2,343.9 490.2,335.3 490.2,339.9 490.3,345.5 490.3,340.6 490.3,343.7 490.4,343 490.4,337 490.4,340.3 490.5,342.8 490.5,343.8 490.5,351.1 490.6,348.2 490.6,345.8 490.6,342.7 490.7,339.7 490.7,337.7 490.8,341.2 490.8,338.8 490.8,346.4 490.9,344 490.9,335.1 490.9,346 491,340.5 491,355.1 491,343.3 491.1,343.5 491.1,350 491.1,330.4 491.2,347.8 491.2,343.5 491.2,347.4 491.3,348 491.3,347.3 491.3,345.6 491.4,341.2 491.4,350 491.5,341.3 491.5,343.8 491.5,346.8 491.6,353.8 491.6,346.5 491.6,353.9 491.7,344.4 491.7,344.1 491.7,354.8 491.8,347.5 491.8,348.2 491.8,349 491.9,340.2 491.9,338.8 491.9,342.9 492,341.7 492,348.8 492,341.6 492.1,350.9 492.1,342.1 492.1,339.5 492.2,356.2 492.2,343.3 492.2,346.3 492.3,335.5 492.3,338.9 492.4,348.4 492.4,340.4 492.4,346.8 492.5,340 492.5,348.5 492.5,345.7 492.6,339.5 492.6,347.9 492.6,344.7 492.7,340.9 492.7,345.7 492.7,342.1 492.8,343.1 492.8,345.5 492.8,346.8 492.9,336 492.9,345.7 492.9,340.5 493,338.7 493,342.8 493,343.7 493.1,347.7 493.1,348.6 493.1,341.5 493.2,353.4 493.2,343.8 493.2,349.9 493.3,341.4 493.3,340.2 493.4,343 493.4,342.8 493.4,339.8 493.5,331.3 493.5,351.3 493.5,343.6 493.6,340.4 493.6,349.8 493.6,335.7 493.7,342.9 493.7,339.4 493.7,349.4 493.8,345 493.8,357.4 493.8,345.1 493.9,344.5 493.9,340.5 493.9,341.9 494,346.5 494,346.5 494,345.3 494.1,346.2 494.1,346.1 494.1,341.2 494.2,340.4 494.2,340.2 494.2,343.3 494.3,351.6 494.3,346.2 494.3,344.2 494.4,344.2 494.4,345 494.4,337.1 494.5,342.8 494.5,338.8 494.6,356.8 494.6,338.4 494.6,337.5 494.7,338.5 494.7,350.5 494.7,352 494.8,342.5 494.8,336.1 494.8,342.9 494.9,351.3 494.9,347.9 494.9,336.9 495,338.8 495,350.8 495,348.5 495.1,341 495.1,349.8 495.1,340.7 495.2,334.3 495.2,342.6 495.2,342.4 495.3,337.9 495.3,350.8 495.3,338.9 495.4,343.4 495.4,344.4 495.4,347.8 495.5,345.1 495.5,346.5 495.5,340 495.6,351.6 495.6,350.7 495.6,344.7 495.7,350.6 495.7,343.3 495.7,350 495.8,338.9 495.8,341.9 495.8,348.5 495.9,344.8 495.9,348.2 495.9,348.6 496,345.3 496,349.4 496.1,341.2 496.1,340.1 496.1,343.6 496.2,336.7 496.2,348.1 496.2,348.1 496.3,346.2 496.3,346.1 496.3,343.4 496.4,346.8 496.4,353.6 496.4,341.5 496.5,347 496.5,341.3 496.5,338 496.6,340.4 496.6,343.1 496.6,346.7 496.7,344.6 496.7,346.2 496.7,343.4 496.8,336.9 496.8,343.1 496.8,340.9 496.9,353.7 496.9,348.2 496.9,345.1 497,350.5 497,352.1 497,338.2 497.1,340.6 497.1,348.9 497.1,351.3 497.2,336.5 497.2,347.3 497.2,352.2 497.3,353.1 497.3,351.9 497.3,340.3 497.4,343.5 497.4,331.9 497.4,356.6 497.5,347.2 497.5,350 497.5,348.1 497.6,343.2 497.6,338.7 497.6,348.3 497.7,355.4 497.7,352 497.7,344.2 497.8,346.9 497.8,345.6 497.8,346.1 497.9,343.9 497.9,346.6 497.9,356.4 498,349.4 498,337.4 498,355.2 498.1,349.2 498.1,334.8 498.1,344.4 498.2,343.5 498.2,341.3 498.2,347.4 498.3,342.2 498.3,343.3 498.3,344.4 498.4,347 498.4,341.8 498.4,343.5 498.5,347.4 498.5,346.8 498.5,349.4 498.6,356.3 498.6,331 498.7,348.7 498.7,357.6 498.7,343.4 498.8,344.7 498.8,342.1 498.8,345.4 498.9,345.8 498.9,353.1 498.9,344.8 499,339.9 499,350.4 499,344.3 499.1,344.1 499.1,343.3 499.1,347.1 499.2,346 499.2,349.6 499.2,350.1 499.3,345.1 499.3,351.6 499.3,341 499.4,338.9 499.4,345.9 499.4,346.4 499.5,344 499.5,349.6 499.5,340.3 499.6,351 499.6,352.8 499.6,350.5 499.7,350 499.7,342.1 499.7,349.2 499.8,350.5 499.8,347.4 499.8,342.7 499.9,347.5 499.9,340.8 499.9,342.7 500,350.5 500,352.2 500,349 500.1,334.1 500.1,341.7 500.1,337.6 500.2,348.5 500.2,342.5 500.2,343.9 500.3,349.2 500.3,344.6 500.3,346.7 500.4,358.6 500.4,350.7 500.4,342.7 500.5,338.8 500.5,355.9 500.5,349.8 500.6,349.4 500.6,340.1 500.6,348.2 500.7,347.3 500.7,338.3 500.7,336.4 500.8,344.6 500.8,350.2 500.8,348.5 500.9,346.8 500.9,347.7 500.9,351.2 501,344.1 501,344.6 501,341.9 501.1,353.5 501.1,352.3 501.1,347 501.2,349.6 501.2,348.9 501.2,352.3 501.3,334.7 501.3,348.1 501.3,346.3 501.4,345.7 501.4,338.8 501.4,353.1 501.5,345.6 501.5,349 501.5,356.1 501.6,347.1 501.6,342.3 501.6,349.3 501.7,330.9 501.7,345.1 501.7,352.1 501.8,341.3 501.8,348.2 501.8,344.4 501.9,349.6 501.9,344.7 501.9,345.7 502,352.8 502,349.4 502,339.5 502.1,369.5 502.1,342.1 502.1,349.1 502.2,345.6 502.2,339.3 502.2,342.2 502.3,342.1 502.3,351.8 502.3,343.8 502.4,349.3 502.4,341 502.4,344.8 502.5,338 502.5,359 502.5,357.5 502.6,345 502.6,342.9 502.6,356.2 502.7,346.4 502.7,351.4 502.7,345.9 502.8,345.8 502.8,347.5 502.8,342.2 502.9,343.1 502.9,343.4 502.9,341.7 503,339.9 503,337.2 503,347 503.1,342.7 503.1,347.9 503.1,356 503.2,348 503.2,344.6 503.2,348.6 503.3,343.1 503.3,356.4 503.3,348.1 503.4,342.6 503.4,341.5 503.4,334.7 503.5,356.9 503.5,338.8 503.5,344.2 503.6,352 503.6,346.4 503.6,350.6 503.7,348.6 503.7,347.2 503.7,345.8 503.8,350.4 503.8,335.4 503.8,350.7 503.9,357.7 503.9,343.1 503.9,353.4 504,348.8 504,353.5 504,345.5 504.1,330.8 504.1,360.6 504.1,354.5 504.2,335.9 504.2,332.7 504.2,358.5 504.3,351.5 504.3,339.7 504.3,346.3 504.4,351.9 504.4,359.1 504.4,344.9 504.5,353 504.5,358 504.5,344.4 504.6,345 504.6,345.7 504.6,341 504.7,348.4 504.7,356.5 504.7,348.6 504.8,332.8 504.8,344.5 504.8,330.3 504.9,336.2 504.9,345.4 504.9,331.5 505,349.7 505,342.7 505,346 505.1,339.2 505.1,345.2 505.1,360.3 505.2,340 505.2,336.6 505.2,350.9 505.3,343 505.3,345.2 505.3,348.4 505.4,354.3 505.4,341.4 505.4,351.2 505.5,352.6 505.5,342.3 505.5,338 505.6,350.8 505.6,344 505.6,342 505.7,343.5 505.7,364 505.7,344.2 505.8,356.4 505.8,344.7 505.8,351.5 505.9,341.4 505.9,356.1 505.9,356.2 506,356.2 506,352.8 506,341.1 506.1,340.6 506.1,349.5 506.1,339.7 506.2,343.3 506.2,342.8 506.2,343.4 506.3,354.5 506.3,354.6 506.3,341.6 506.4,330.3 506.4,349.5 506.4,343.3 506.5,338.8 506.5,345.9 506.5,342.9 506.6,350.3 506.6,356.7 506.6,345.6 506.7,355.3 506.7,353 506.7,335.5 506.8,354 506.8,338.4 506.8,353.5 506.9,352.2 506.9,348.2 506.9,344.2 507,355.7 507,347.6 507,349.8 507.1,352.8 507.1,333.5 507.1,358.8 507.2,346.5 507.2,347.3 507.2,342.3 507.3,343.5 507.3,339.9 507.3,348.2 507.4,358.9 507.4,359.9 507.4,339.4 507.5,354 507.5,340.9 507.5,333.2 507.6,369.2 507.6,351.3 507.6,354.7 507.7,346.5 507.7,329.5 507.7,354 507.8,355.7 507.8,345 507.8,362.1 507.9,342.8 507.9,332.6 507.9,339.9 508,347 508,343.1 508,350 508.1,339.5 508.1,329.2 508.1,341.9 508.2,357 508.2,344.1 508.2,347.2 508.3,363.8 508.3,352 508.3,337.5 508.4,330.5 508.4,347.2 508.4,333.5 508.5,350.6 508.5,351.8 508.5,354.2 508.6,344.8 508.6,351.3 508.6,342.9 508.7,361.3 508.7,342.5 508.7,340.6 508.8,343.4 508.8,351.5 508.8,349.4 508.9,352.9 508.9,355.6 508.9,342.3 509,334.5 509,360.5 509,345.5 509.1,346.3 509.1,347.2 509.1,341.3 509.2,338.4 509.2,346.4 509.2,341.9 509.3,349.9 509.3,346.2 509.3,357.3 509.4,353.8 509.4,367.3 509.4,367.7 509.5,353.7 509.5,367.6 509.5,341.1 509.6,341 509.6,331.8 509.6,338.7 509.7,346.8 509.7,345.3 509.7,342 509.8,354.5 509.8,346.6 509.8,359.9 509.9,349.8 509.9,343.6 509.9,348.9 510,341 510,338.9 510,341.1 510.1,348.9 510.1,351.3 510.1,346.9 510.2,333.9 510.2,344.2 510.2,346.4 510.3,334.4 510.3,346.8 510.3,339.7 510.4,342 510.4,347.8 510.4,357.8 510.5,337.2 510.5,352.5 510.5,345.6 510.6,349.7 510.6,335 510.6,343.5 510.7,358.7 510.7,337.6 510.7,344.6 510.8,350 510.8,337.1 510.8,340 510.9,350 510.9,349.2 510.9,343.3 511,345.4 511,343.3 511,347.6 511.1,347 511.1,375.5 511.1,361 511.2,345.8 511.2,342.9 511.2,328.6 511.3,340.8 511.3,345.3 511.3,345.9 511.4,330.6 511.4,348.5 511.4,336.1 511.5,341.4 511.5,334.6 511.5,357.9 511.6,338.2 511.6,339.2 511.6,356.2 511.7,354.9 511.7,338 511.7,365.9 511.8,357.2 511.8,352.6 511.8,335.4 511.9,355 511.9,342.6 511.9,337.3 512,369.1 512,346.8 512,338.7 512.1,337 512.1,341.9 512.1,347.9 512.2,352.1 512.2,320.1 512.2,333.3 512.3,357.7 512.3,334.7 512.3,355 512.4,334.4 512.4,342.8 512.4,367.1 512.5,339.4 512.5,352 512.5,344.2 512.6,349.2 512.6,346 512.6,349.3 512.7,347.1 512.7,351.3 512.7,349.2 512.8,351.3 512.8,339.9 512.8,343.9 512.9,368.1 512.9,330.7 512.9,354.2 513,362 513,349.1 513,341.8 513.1,343.1 513.1,337.6 513.1,338.6 513.2,346.1 513.2,339 513.2,351.3 513.3,336.9 513.3,344.4 513.3,340.7 513.4,357.8 513.4,350.9 513.4,354.4 513.5,355.4 513.5,349.2 513.5,343.3 513.6,353.7 513.6,348.9 513.6,338.6 513.7,336.2 513.7,352.6 513.7,350.1 513.8,351.2 513.8,349.9 513.8,341.8 513.9,360.6 513.9,358.9 513.9,349.3 514,347.3 514,340.3 514,344.7 514.1,362.3 514.1,349.8 514.1,340 514.2,355.6 514.2,342.4 514.2,362.8 514.3,342.8 514.3,349 514.3,348 514.4,340.6 514.4,352.6 514.4,350 514.5,356.1 514.5,337.1 514.5,351.7 514.6,357.1 514.6,333.8 514.6,343.4 514.7,366.6 514.7,351.7 514.7,354.6 514.8,338.4 514.8,339.4 514.8,356.2 514.9,339 514.9,341.2 514.9,344.3 515,335.9 515,350.9 515,346.9 515.1,352.6 515.1,345.2 515.1,362.1 515.2,352.8 515.2,350 515.2,355.2 515.3,361.3 515.3,351 515.3,345.1 515.4,343.3 515.4,352.2 515.4,351.8 515.5,351.1 515.5,348.5 515.5,355.4 515.6,341.2 515.6,351.3 515.6,339.9 515.7,332.6 515.7,363.1 515.7,351.1 515.8,344.9 515.8,342.9 515.8,354.1 515.9,349.5 515.9,349.3 515.9,334.2 516,342.7 516,356.1 516,357.2 516.1,352.8 516.1,343.3 516.1,345.3 516.2,349.1 516.2,346.8 516.2,348.1 516.3,350.3 516.3,346.5 516.3,345.9 516.4,339.1 516.4,348.3 516.4,340.3 516.5,349 516.5,348.8 516.5,343.7 516.6,349.9 516.6,357.1 516.6,350 516.7,370.8 516.7,334.5 516.7,353.8 516.8,350.2 516.8,345.5 516.8,352 516.9,345.6 516.9,349 516.9,358.6 517,361.4 517,355.2 517,352.2 517.1,353.6 517.1,342.4 517.1,355.7 517.2,350.1 517.2,341.3 517.2,338.9 517.3,346.9 517.3,358 517.3,330.2 517.4,350.9 517.4,339.5 517.4,348 517.5,362.7 517.5,351 517.5,353 517.6,348.8 517.6,349.9 517.6,367.5 517.7,351.1 517.7,355 517.7,360.1 517.8,353 517.8,346.9 517.8,347.7 517.9,335.2 517.9,347.1 517.9,327.4 518,342.4 518,344.7 518,350.9 518.1,345.9 518.1,355 518.1,354.2 518.2,353.7 518.2,371 518.2,336.4 518.3,343.8 518.3,334.7 518.3,350.2 518.4,341.7 518.4,337.4 518.4,348.2 518.5,332 518.5,336.3 518.5,353.3 518.6,375.9 518.6,350.2 518.6,348.9 518.7,343.5 518.7,375.2 518.7,343.9 518.8,349.5 518.8,346.2 518.8,348.7 518.9,360.6 518.9,343.1 518.9,342.5 519,342.5 519,350.6 519,340.9 519.1,352.8 519.1,350.8 519.1,356.6 519.2,347.7 519.2,330.2 519.2,352.1 519.3,334.9 519.3,350.5 519.3,338.4 519.4,343.6 519.4,348.5 519.4,339.4 519.5,349.2 519.5,362.4 519.5,335.8 519.6,338.6 519.6,336.3 519.6,352 519.7,353 519.7,349.1 519.7,348.3 519.8,357.1 519.8,337 519.8,338.7 519.9,356.3 519.9,338.5 519.9,361.5 520,356.9 520,342.9 520,352.3 520.1,337.9 520.1,348.2 520.1,365.2 520.2,360.5 520.2,346.8 520.2,349.7 520.3,355 520.3,349.9 520.3,343.2 520.4,339.1 520.4,346 520.4,377.3 520.5,354 520.5,360.7 520.5,350.7 520.6,369.2 520.6,358.3 520.6,355.1 520.7,368.3 520.7,354.7 520.7,339.9 520.8,347.5 520.8,352.3 520.8,367.4 520.9,330.7 520.9,345.4 520.9,354.4 521,345.4 521,344.9 521,360.8 521.1,341.6 521.1,356.7 521.1,337.6 521.2,347.9 521.2,353.9 521.2,359.8 521.3,356.8 521.3,340.3 521.3,354.3 521.4,333.6 521.4,346.6 521.4,353.4 521.5,347 521.5,351.5 521.5,349.5 521.6,349.6 521.6,338 521.6,351.1 521.7,357.2 521.7,337.3 521.7,355.5 521.8,337.9 521.8,357.7 521.8,350.2 521.9,337.2 521.9,342.7 521.9,345.1 522,341.6 522,347 522,355.8 522.1,339.9 522.1,334.4 522.1,352.1 522.2,363.1 522.2,340.6 522.2,361.9 522.3,364.2 522.3,355.5 522.3,351.3 522.4,337.8 522.4,359.1 522.4,352.3 522.5,341.2 522.5,348.6 522.5,345.9 522.6,353.4 522.6,342.2 522.6,356.4 522.7,356.9 522.7,361.2 522.7,341.3 522.8,353.6 522.8,361 522.8,353.6 522.9,341.5 522.9,359.1 522.9,350.3 523,349.1 523,338.2 523,348.4 523.1,347.8 523.1,363.2 523.1,344.6 523.2,364.4 523.2,348.3 523.2,340.5 523.3,349.7 523.3,339.9 523.3,346.9 523.4,343.6 523.4,358.5 523.4,350.5 523.5,363.2 523.5,335.7 523.5,353 523.6,343.1 523.6,357.2 523.6,340 523.7,351.7 523.7,348.7 523.7,357 523.8,352.7 523.8,338.7 523.8,360.5 523.9,341.8 523.9,355.1 523.9,334.8 524,347.5 524,363.7 524,353.4 524.1,348 524.1,351.5 524.1,347 524.2,360.6 524.2,352 524.2,349.1 524.3,345.1 524.3,344.2 524.3,346.9 524.4,339.3 524.4,349.9 524.4,355.1 524.5,346.1 524.5,341.4 524.5,341.9 524.6,350.1 524.6,340.6 524.6,345.6 524.7,357.2 524.7,341 524.7,347.4 524.8,352.7 524.8,349.5 524.8,359.2 524.9,347.2 524.9,335.5 524.9,339.2 525,355.9 525,363 525,348.8 525.1,341.4 525.1,343.8 525.1,346.4 525.2,350.3 525.2,337.7 525.2,340 525.3,349 525.3,358.4 525.3,353.6 525.4,346.9 525.4,341.9 525.4,336.7 525.5,355.8 525.5,355.7 525.5,332.1 525.6,346.6 525.6,335.3 525.6,328.6 525.7,352.9 525.7,345.8 525.7,357 525.8,343.7 525.8,354.6 525.8,354.5 525.9,356.9 525.9,361.4 525.9,342.4 526,354 526,347.1 526,364.1 526.1,360.4 526.1,340.7 526.1,354 526.2,349.8 526.2,358.7 526.2,364.6 526.3,346.8 526.3,348 526.3,340.5 526.4,353.3 526.4,357.3 526.4,338.2 526.5,346.9 526.5,358.2 526.5,346.8 526.6,356.7 526.6,357.4 526.6,340.6 526.7,335.7 526.7,331.6 526.7,369.9 526.8,348.3 526.8,364.9 526.8,356.1 526.9,347.2 526.9,349.1 526.9,351.4 527,347.7 527,350.8 527,340.3 527.1,346.6 527.1,342 527.1,340.6 527.2,353.5 527.2,350.6 527.2,350.1 527.3,344.5 527.3,345.1 527.3,343.4 527.4,352.2 527.4,351.5 527.4,347.7 527.5,353 527.5,328.8 527.5,355.1 527.6,350.9 527.6,350.6 527.6,337.7 527.7,355.1 527.7,339.3 527.7,348.6 527.8,348.5 527.8,350.3 527.8,354 527.9,351.9 527.9,340.5 527.9,346.4 528,354.8 528,351.1 528,342.5 528.1,355.5 528.1,347.4 528.1,361.3 528.2,356.7 528.2,353 528.2,353.1 528.3,340.8 528.3,337.1 528.3,351.2 528.4,345.6 528.4,367.2 528.4,358.1 528.5,347.4 528.5,347.1 528.5,358.7 528.6,343.9 528.6,353.1 528.6,341.6 528.7,330.3 528.7,344.1 528.7,350.5 528.8,360.5 528.8,346.6 528.8,342.3 528.9,347 528.9,339.3 528.9,340.6 529,345.5 529,349.1 529,350.3 529.1,348.8 529.1,352.8 529.1,342.9 529.2,351.5 529.2,348.7 529.2,348.7 529.3,343.7 529.3,335.2 529.3,346 529.4,346.7 529.4,337.4 529.4,349.6 529.5,338.3 529.5,355.8 529.5,343.4 529.6,335 529.6,353.5 529.6,339.6 529.7,340.1 529.7,355.5 529.7,354.8 529.8,351.3 529.8,347.9 529.8,339.3 529.9,344.1 529.9,355.4 529.9,341.8 530,346.1 530,348.3 530,353.8 530.1,344.2 530.1,348.6 530.1,344.4 530.2,342.3 530.2,344.8 530.2,351.3 530.3,336.7 530.3,358.5 530.3,345.7 530.4,342 530.4,347.2 530.4,336.3 530.5,344.8 530.5,345.8 530.5,349.7 530.6,345.2 530.6,351 530.6,333.4 530.7,335 530.7,348.4 530.7,345.3 530.8,330.8 530.8,364.5 530.8,356.8 530.9,332.9 530.9,338.7 530.9,332 531,348.9 531,343.2 531,349.8 531.1,355.2 531.1,355.1 531.1,341.9 531.2,356.1 531.2,344.5 531.2,347.6 531.3,341 531.3,349.9 531.3,338.7 531.4,335.1 531.4,346.5 531.4,350.3 531.5,350.1 531.5,347 531.5,338.3 531.6,347.5 531.6,346.5 531.6,346.1 531.7,353.5 531.7,351.2 531.7,344.3 531.8,356 531.8,355 531.8,353.5 531.9,349.3 531.9,342 531.9,344.4 532,340.8 532,353 532,345.6 532.1,343 532.1,343.1 532.1,341.2 532.2,343.3 532.2,337.7 532.2,340.6 532.3,354.2 532.3,350 532.3,347.5 532.4,360.4 532.4,352.2 532.4,343.3 532.5,352.5 532.5,333.4 532.5,334.9 532.6,346.3 532.6,348.3 532.6,346.9 532.7,342.7 532.7,354.6 532.7,357.5 532.8,356.9 532.8,360.2 532.8,340.3 532.9,354.3 532.9,342.9 532.9,342.8 533,339.4 533,330 533,353.5 533.1,364.5 533.1,347 533.1,324.3 533.2,348.3 533.2,353.2 533.2,345.5 533.3,335 533.3,338.5 533.3,350.5 533.4,338.1 533.4,346.1 533.4,347.1 533.5,342.4 533.5,349.8 533.5,338.1 533.6,341.3 533.6,339.1 533.6,351.1 533.7,362.4 533.7,348.4 533.7,342.5 533.8,328.3 533.8,351.1 533.8,355.9 533.9,345.2 533.9,342.9 533.9,356.6 534,342.4 534,356.5 534,350.3 534.1,339.1 534.1,353.6 534.1,355 534.2,350.9 534.2,344 534.2,359.8 534.3,339.5 534.3,347 534.3,346.6 534.4,350.4 534.4,377.5 534.4,356 534.5,346.8 534.5,352 534.5,347.2 534.6,348.2 534.6,339.7 534.6,348.8 534.7,344.3 534.7,349.1 534.7,345.4 534.8,337 534.8,338.7 534.8,356.4 534.9,361.2 534.9,350 534.9,340.6 535,350 535,346.6 535,356.4 535.1,347.3 535.1,340.7 535.1,325.2 535.2,359.4 535.2,342.5 535.2,339.5 535.3,345.3 535.3,350.7 535.3,357.1 535.4,344.3 535.4,349.7 535.4,340.6 535.5,341 535.5,346.7 535.5,354.8 535.6,342.1 535.6,354.8 535.6,337.4 535.7,360.1 535.7,352.1 535.7,335.6 535.8,338.6 535.8,347.2 535.8,330 535.9,335 535.9,337 535.9,331.6 536,357.6 536,347.8 536,337.5 536.1,341.9 536.1,357.7 536.1,348.2 536.2,351.1 536.2,349.3 536.2,349.5 536.3,343.5 536.3,339.7 536.3,340.4 536.4,349.8 536.4,354.2 536.4,350.9 536.5,364.8 536.5,341.5 536.5,334.5 536.6,336.2 536.6,339.7 536.6,341.6 536.7,340.8 536.7,343.8 536.7,354.1 536.8,341.2 536.8,355.1 536.8,323.3 536.9,346.1 536.9,367 536.9,345.5 537,348.3 537,345.2 537,354.9 537.1,352.2 537.1,333.8 537.1,363.2 537.2,343.8 537.2,361.3 537.2,347.8 537.3,357.7 537.3,355.6 537.3,351.5 537.4,341.3 537.4,340 537.4,351.3 537.5,341 537.5,356.6 537.5,332.1 537.6,343.5 537.6,352.3 537.6,334.4 537.7,343.8 537.7,336.1 537.7,350.9 537.8,357.9 537.8,340.3 537.8,338 537.9,341.6 537.9,354.6 537.9,332.6 538,350.3 538,338.6 538,353.8 538.1,341 538.1,345.8 538.1,328.4 538.2,343.6 538.2,342.6 538.2,335.5 538.3,347.8 538.3,351.4 538.3,335.2 538.4,346.8 538.4,346 538.4,363.1 538.5,343.6 538.5,343.9 538.5,371.7 538.6,342.5 538.6,345.8 538.6,353.6 538.7,345 538.7,347.5 538.7,333 538.8,349.4 538.8,334.3 538.8,343.1 538.9,343 538.9,346.8 538.9,349.3 539,348.9 539,332.7 539,337.3 539.1,343.9 539.1,336.6 539.1,361.1 539.2,352.8 539.2,352.1 539.2,347.7 539.3,337.7 539.3,337.4 539.3,336.2 539.4,342.7 539.4,342.7 539.4,351.8 539.5,353.2 539.5,332.3 539.5,338.8 539.6,352.3 539.6,349.9 539.6,341.5 539.7,345 539.7,349 539.7,354.6 539.8,349.7 539.8,354.3 539.8,363 539.9,355.9 539.9,345.4 539.9,336.9 540,350.3 540,356.1 540,351 540.1,353.5 540.1,335.7 540.1,345 540.2,329.8 540.2,326.8 540.2,340.8 540.3,358.4 540.3,325.8 540.3,343.5 540.4,344.2 540.4,338.6 540.4,348.3 540.5,349 540.5,346.9 540.5,326.9 540.6,351.9 540.6,336.9 540.6,350.3 540.7,345.3 540.7,342.3 540.7,356.9 540.8,334.9 540.8,339.7 540.8,335.2 540.9,343.1 540.9,348.4 540.9,352.2 541,344.7 541,353.7 541,341.1 541.1,360.8 541.1,334.7 541.1,351 541.2,345 541.2,345.6 541.2,344 541.3,344 541.3,351.9 541.3,334.6 541.4,334.7 541.4,355.9 541.4,351.2 541.5,341.4 541.5,354.8 541.5,346.9 541.6,358.9 541.6,338.2 541.6,351.5 541.7,343.4 541.7,355.7 541.7,331.6 541.8,354.3 541.8,357.5 541.8,345.3 541.9,338.9 541.9,346.7 541.9,340.1 542,348.6 542,336.6 542,344.8 542.1,339.6 542.1,341.2 542.1,344.7 542.2,347.5 542.2,341.6 542.2,348.9 542.3,355.1 542.3,357.1 542.3,351.7 542.4,333.3 542.4,340.1 542.4,351.6 542.5,343.8 542.5,350.3 542.5,346.1 542.6,340.6 542.6,334.1 542.6,328.6 542.7,339.7 542.7,335 542.7,331.9 542.8,342.2 542.8,334.2 542.8,339.9 542.9,347.2 542.9,341.1 542.9,351.1 543,347.8 543,329.7 543,341.9 543.1,365.6 543.1,333.8 543.1,353.7 543.2,352.2 543.2,341.3 543.2,333.7 543.3,355.2 543.3,357.5 543.3,343.6 543.4,340.9 543.4,348.7 543.4,344.9 543.5,359.6 543.5,348.2 543.5,351.1 543.6,354.8 543.6,352.4 543.6,346.1 543.7,323.5 543.7,332.4 543.7,340.1 543.8,343.5 543.8,339.7 543.8,349.7 543.9,342.4 543.9,346.3 543.9,350.5 544,343.6 544,336.7 544,355.7 544.1,333.9 544.1,338.5 544.1,348.7 544.2,350.9 544.2,360 544.2,350.9 544.3,356.6 544.3,359.6 544.3,342.2 544.4,344.6 544.4,355.7 544.4,352.2 544.5,346.7 544.5,356.6 544.5,351.6 544.6,352.5 544.6,348.5 544.6,330.3 544.7,342.2 544.7,347.1 544.7,349.7 544.8,337.9 544.8,333.2 544.8,331.9 544.9,346.8 544.9,334.3 544.9,345.4 545,358.6 545,344.9 545,348.3 545.1,345.5 545.1,324.5 545.1,340.6 545.2,355.4 545.2,351.6 545.2,363.3 545.3,361.6 545.3,342.7 545.3,327.1 545.4,339.5 545.4,342 545.4,333 545.5,340 545.5,327.8 545.5,336.8 545.6,349.3 545.6,340.4 545.6,347.8 545.7,346.8 545.7,343.1 545.7,330 545.8,352 545.8,332.9 545.8,336.8 545.9,332.5 545.9,344.2 545.9,351.5 546,365.4 546,347 546,338.4 546.1,312 546.1,357.8 546.1,333.1 546.2,326.5 546.2,340.9 546.2,336.7 546.3,344.2 546.3,351.9 546.3,363 546.4,343.6 546.4,356.1 546.4,352.6 546.5,344 546.5,352.4 546.5,363.5 546.6,350 546.6,362.7 546.6,335.6 546.7,355.2 546.7,341.7 546.7,345.9 546.8,352.1 546.8,334.6 546.8,342.6 546.9,339.4 546.9,339.3 546.9,314.6 547,328 547,339.8 547,352.9 547.1,336.1 547.1,348.5 547.1,351.7 547.2,344.5 547.2,358.9 547.2,333.2 547.3,360.3 547.3,345.8 547.3,344.4 547.4,343.6 547.4,370.5 547.4,328.7 547.5,355.9 547.5,358.9 547.5,353.9 547.6,359.7 547.6,344 547.6,320 547.7,325.3 547.7,322.7 547.7,367.6 547.8,342.1 547.8,338 547.8,341.8 547.9,346.4 547.9,336 547.9,343.5 548,333.2 548,346.7 548,361 548.1,348.8 548.1,341.1 548.1,326.6 548.2,362.5 548.2,360 548.2,340.2 548.3,351.2 548.3,349.7 548.3,366.1 548.4,332.6 548.4,338.4 548.4,332.5 548.5,350.1 548.5,336.5 548.5,360.3 548.6,332.4 548.6,343 548.6,334.8 548.7,353 548.7,355.7 548.7,341.2 548.8,342.4 548.8,361.3 548.8,340.3 548.9,356 548.9,336 548.9,355.7 549,339.2 549,342.4 549,333.7 549.1,343 549.1,353.9 549.1,343.6 549.2,344 549.2,346.9 549.2,337 549.3,347.9 549.3,331.7 549.3,358.1 549.4,351 549.4,330.1 549.4,358.2 549.5,333.1 549.5,344.7 549.5,330.1 549.6,357.7 549.6,348.5 549.6,343.7 549.7,352.7 549.7,352.4 549.7,342.7 549.8,357.6 549.8,354.9 549.8,340.4 549.9,336.3 549.9,344.2 549.9,340.6 550,362.5 550,348.1 550,353.7 550.1,359.5 550.1,355.4 550.1,345.5 550.2,352.2 550.2,343.7 550.2,349.2 550.3,351.1 550.3,358.4 550.3,352 550.4,349.6 550.4,338.9 550.4,335.3 550.5,343.1 550.5,360 550.5,347.6 550.6,345.1 550.6,346.3 550.6,331.9 550.7,335.6 550.7,353.8 550.7,329.7 550.8,355.9 550.8,338.3 550.8,330.1 550.9,344.1 550.9,364.1 550.9,342.7 551,354.3 551,330.4 551,342.3 551.1,332.9 551.1,342.8 551.1,340.9 551.2,342.2 551.2,349.1 551.2,358.6 551.3,347.6 551.3,339 551.3,357.8 551.4,350.7 551.4,333.6 551.4,343.8 551.5,355.6 551.5,333.3 551.5,334.8 551.6,343.9 551.6,343.7 551.6,339.6 551.7,341.9 551.7,353.1 551.7,333.5 551.8,345.4 551.8,353.1 551.8,332.9 551.9,350.2 551.9,350.3 551.9,333 552,340.5 552,350.1 552,342.2 552.1,336.6 552.1,333.4 552.1,344.7 552.2,368.2 552.2,346.7 552.2,353.7 552.3,356.6 552.3,334.8 552.3,347.9 552.4,350.8 552.4,340.6 552.4,343.3 552.5,360.4 552.5,348.1 552.5,360.2 552.6,358.4 552.6,359.8 552.6,343.2 552.7,330.1 552.7,342.4 552.7,344.6 552.8,334.4 552.8,343.7 552.8,359.4 552.9,332.8 552.9,339.5 552.9,337.7 553,324.2 553,345.1 553,343.3 553.1,339.8 553.1,374.9 553.1,335.3 553.2,336.7 553.2,338 553.2,359 553.3,373.5 553.3,354.3 553.3,344.1 553.4,331.8 553.4,349.6 553.4,334.5 553.5,355.7 553.5,347 553.5,333.1 553.6,349.2 553.6,343.8 553.6,355.3 553.7,344.3 553.7,343.9 553.7,335.4 553.8,331.4 553.8,346 553.8,337.8 553.9,331.9 553.9,356.6 553.9,342.4 554,339.1 554,327.3 554,348.8 554.1,348 554.1,345.2 554.1,335.6 554.2,343.7 554.2,327.6 554.2,348.1 554.3,325.7 554.3,342.2 554.3,348.2 554.4,324.3 554.4,350.8 554.4,347.5 554.5,330.5 554.5,350.5 554.5,353.8 554.6,365.8 554.6,352.4 554.6,339.3 554.7,348 554.7,332.9 554.7,360.6 554.8,322.6 554.8,336.5 554.8,359.3 554.9,339.8 554.9,331.9 554.9,338.9 555,347.6 555,340 555,336.1 555.1,348.5 555.1,335.8 555.1,355.1 555.2,353.1 555.2,349.4 555.2,339.9 555.3,358.9 555.3,319.6 555.3,341.6 555.4,347.9 555.4,311 555.4,330.2 555.5,346.7 555.5,347.9 555.5,353.3 555.6,332.8 555.6,343.3 555.6,320.9 555.7,337.4 555.7,348.6 555.7,334.8 555.8,348 555.8,342.9 555.8,335.7 555.9,341.6 555.9,345.9 555.9,341 556,340.1 556,346.4 556,344.5 556.1,341.1 556.1,337.9 556.1,338.1 556.2,350.8 556.2,350 556.2,338.2 556.3,354 556.3,329.1 556.3,351.4 556.4,348.4 556.4,344.8 556.4,358.4 556.5,334.6 556.5,343.4 556.5,345.6 556.6,343 556.6,346.9 556.6,339.6 556.7,347.6 556.7,337 556.7,352.2 556.8,348.2 556.8,334.7 556.8,337.9 556.9,341.5 556.9,326.7 556.9,339.6 557,347.4 557,318.1 557,369.7 557.1,334.1 557.1,361.1 557.1,341.2 557.2,354.1 557.2,352.9 557.2,338.6 557.3,350.7 557.3,335.5 557.3,332.5 557.4,345 557.4,341.6 557.4,346.2 557.5,341.3 557.5,332.6 557.5,333.4 557.6,345.5 557.6,352.7 557.6,352.5 557.7,348.1 557.7,326 557.7,338.1 557.8,350.3 557.8,336.1 557.8,351.1 557.9,339 557.9,333.1 557.9,329 558,343.7 558,344.7 558,346 558.1,348.9 558.1,355.2 558.1,354.6 558.2,356 558.2,335.4 558.2,338.5 558.3,338.5 558.3,343.1 558.3,330.9 558.4,342.4 558.4,337.4 558.4,336.2 558.5,350.4 558.5,351.4 558.5,342 558.6,320.7 558.6,341.5 558.6,348.2 558.7,341.4 558.7,346.2 558.7,333.6 558.8,355.1 558.8,349 558.8,346.9 558.9,329.5 558.9,344.4 558.9,345.5 559,342.7 559,343.9 559,344.9 559.1,340.9 559.1,343.9 559.1,347.9 559.2,342 559.2,360.2 559.2,357.8 559.3,354.3 559.3,333.1 559.3,345.1 559.4,345.5 559.4,346.4 559.4,341.2 559.5,343.4 559.5,336.1 559.5,342.5 559.6,346 559.6,370.4 559.6,357.1 559.7,357.3 559.7,352.3 559.7,344.3 559.8,338.8 559.8,354 559.8,364.3 559.9,348.7 559.9,331.8 559.9,348 560,321.4 560,355.1 560,326.8 560.1,330 560.1,345.4 560.1,323 560.2,338.7 560.2,356 560.2,341.1 560.3,344.6 560.3,350.8 560.3,331.7 560.4,351.2 560.4,357.3 560.4,322.2 560.5,339.1 560.5,341.3 560.5,346.7 560.6,359.4 560.6,333.8 560.6,346.2 560.7,345.7 560.7,342.3 560.7,339 560.8,343.4 560.8,332.7 560.8,340.7 560.9,344.7 560.9,354.5 560.9,342.3 561,340.9 561,325 561,357.8 561.1,343.7 561.1,348.8 561.1,344.6 561.2,342.6 561.2,352.4 561.2,346.6 561.3,353.7 561.3,336 561.3,350.7 561.4,336.1 561.4,336.8 561.4,336.2 561.5,349.2 561.5,358.9 561.5,330.8 561.6,345.7 561.6,332.4 561.6,337.1 561.7,362.9 561.7,339.2 561.7,350.8 561.8,349.3 561.8,334.7 561.8,340.6 561.9,331.4 561.9,330.4 561.9,327.8 562,326.9 562,358.4 562,336.8 562.1,351.2 562.1,356.2 562.1,351 562.2,322.2 562.2,351.6 562.2,365.4 562.3,342.1 562.3,351.4 562.3,349.5 562.4,347.3 562.4,345.5 562.4,351.8 562.5,352.8 562.5,359 562.5,330.5 562.6,355.6 562.6,332.4 562.6,346.4 562.7,328.2 562.7,348.7 562.7,347.2 562.8,351 562.8,341.1 562.8,347.5 562.9,343.5 562.9,343.8 562.9,347 563,341 563,337.5 563,351.9 563.1,339.6 563.1,341.2 563.1,332.1 563.2,343.9 563.2,347.2 563.2,329.4 563.3,354.6 563.3,330.6 563.3,339.4 563.4,345.7 563.4,332.9 563.4,348.4 563.5,332.3 563.5,355.4 563.5,340.6 563.6,333.7 563.6,348.8 563.6,355.5 563.7,351.7 563.7,356.1 563.7,340 563.8,340.3 563.8,366 563.8,335.2 563.9,354.4 563.9,333.9 563.9,338.9 564,345.7 564,337.2 564,340.1 564.1,349.3 564.1,351.8 564.1,337.1 564.2,343.5 564.2,346.8 564.2,324.4 564.3,341.9 564.3,352.3 564.3,327.9 564.4,332.5 564.4,343.9 564.4,327.2 564.5,350.5 564.5,339.9 564.5,348.6 564.6,344.8 564.6,354.6 564.6,329.3 564.7,343.6 564.7,333 564.7,337.9 564.8,347.8 564.8,342.6 564.8,348.5 564.9,343 564.9,344.5 564.9,345.1 565,328 565,351.4 565,334.6 565.1,344 565.1,353.7 565.1,326 565.2,346.1 565.2,340.9 565.2,334 565.3,340 565.3,321.1 565.3,343.5 565.4,344.7 565.4,346.5 565.4,339.7 565.5,346.6 565.5,352.4 565.5,344.2 565.6,319.5 565.6,350.9 565.6,324 565.7,335.5 565.7,347.5 565.7,347.9 565.8,339.2 565.8,353 565.8,335.8 565.9,339.9 565.9,343.5 565.9,343.6 566,322.9 566,349.5 566,340.5 566.1,358.7 566.1,343.9 566.1,341.6 566.2,332.3 566.2,344.7 566.2,357.1 566.3,331 566.3,347.9 566.3,328.7 566.4,353.3 566.4,335.7 566.4,335.1 566.5,329.5 566.5,339.9 566.5,339.4 566.6,353.8 566.6,349.5 566.6,338.8 566.7,343.3 566.7,327.6 566.7,346.1 566.8,334.5 566.8,353.4 566.8,349.7 566.9,329.8 566.9,333.5 566.9,330.9 567,337.9 567,342.2 567,340.1 567.1,346.9 567.1,355.9 567.1,331.6 567.2,336 567.2,345.1 567.2,360.6 567.3,351.8 567.3,330.7 567.3,362.4 567.4,351 567.4,336.7 567.4,337.5 567.5,338.8 567.5,344.4 567.5,331.7 567.6,351.6 567.6,342.3 567.6,359.7 567.7,334.1 567.7,349.1 567.7,339.6 567.8,342.2 567.8,328.2 567.8,332.6 567.9,343.3 567.9,344.3 567.9,335.3 568,346.2 568,354.2 568,341.4 568.1,339.6 568.1,344.5 568.1,348.4 568.2,355.5 568.2,319.9 568.2,344.4 568.3,336.7 568.3,345.2 568.3,344.7 568.4,335.4 568.4,339.6 568.4,348.8 568.5,359.3 568.5,352.9 568.5,345.7 568.6,370.2 568.6,345.6 568.6,338.4 568.7,346.6 568.7,343 568.7,344.5 568.8,348.3 568.8,348.6 568.8,344.5 568.9,343.1 568.9,343.3 568.9,343.3 569,341.9 569,322 569,340 569.1,346.2 569.1,343.5 569.1,339.9 569.2,353.7 569.2,348.5 569.2,345.4 569.3,343 569.3,334 569.3,333.6 569.4,366.1 569.4,355.2 569.4,344.5 569.5,343.2 569.5,343.8 569.5,345.6 569.6,348.4 569.6,340.4 569.6,348.1 569.7,350.8 569.7,349.2 569.7,342.6 569.8,341.7 569.8,340.2 569.8,340.1 569.9,353 569.9,340.9 569.9,327.8 570,345.8 570,338 570,363.9 570.1,349.3 570.1,328.6 570.1,351 570.2,351.2 570.2,321.4 570.2,338.1 570.3,357.8 570.3,338.2 570.3,333.9 570.4,341.5 570.4,343.9 570.4,334.4 570.5,334.2 570.5,358.4 570.5,338.4 570.6,338.9 570.6,349.2 570.6,333.2 570.7,338.9 570.7,335.6 570.7,347.8 570.8,347.1 570.8,352.2 570.8,330.3 570.9,345.2 570.9,347.9 570.9,349.5 571,366.6 571,343.8 571,334.5 571.1,349.7 571.1,353.5 571.1,341.3 571.2,337.4 571.2,353.4 571.2,333.8 571.3,340.3 571.3,360.1 571.3,346.1 571.4,343.1 571.4,344.3 571.4,343.5 571.5,345.3 571.5,332.4 571.5,346.5 571.6,333.8 571.6,353 571.6,336.7 571.7,328.4 571.7,363.5 571.7,324 571.8,344.5 571.8,340.7 571.8,345.3 571.9,336 571.9,330.4 571.9,352 572,338 572,334.7 572,329.7 572.1,354.9 572.1,347 572.1,332.3 572.2,338.8 572.2,350.1 572.2,348.4 572.3,326.7 572.3,347.6 572.3,343.8 572.4,338 572.4,349.1 572.4,361.6 572.5,318 572.5,339.7 572.5,341.1 572.6,342.7 572.6,343.8 572.6,363.1 572.7,348.6 572.7,353.1 572.7,346.5 572.8,357.4 572.8,344.7 572.8,349.6 572.9,332.9 572.9,349.2 572.9,340.2 573,339.6 573,349.4 573,354.2 573.1,337.8 573.1,346.2 573.1,346.2 573.2,335.9 573.2,336 573.2,334.3 573.3,365.5 573.3,344.8 573.3,349.7 573.4,336.3 573.4,336.5 573.4,332.1 573.5,351 573.5,348.5 573.5,350.3 573.6,335.2 573.6,358.7 573.6,333.8 573.7,333.2 573.7,350.8 573.7,333.6 573.8,357.3 573.8,343.3 573.8,365.4 573.9,342.9 573.9,352 573.9,340.7 574,337.9 574,336.4 574,341.4 574.1,339.6 574.1,322 574.1,349.2 574.2,354.1 574.2,340.4 574.2,346 574.3,329.1 574.3,336.5 574.3,346 574.4,340.8 574.4,344.5 574.4,361.5 574.5,355.4 574.5,341.1 574.5,343.8 574.6,345.9 574.6,333 574.6,345.9 574.7,349.7 574.7,334 574.7,345.9 574.8,331.6 574.8,330.9 574.8,346.2 574.9,332.3 574.9,342.1 574.9,338.6 575,350.9 575,359.3 575,355.9 575.1,329.1 575.1,327.6 575.1,342.6 575.2,334.4 575.2,352.2 575.2,343.4 575.3,342.2 575.3,362 575.3,336.2 575.4,342.9 575.4,334.2 575.4,371.9 575.5,339 575.5,353.6 575.5,351.2 575.6,330.8 575.6,336.5 575.6,361.5 575.7,340.5 575.7,350.1 575.7,327.8 575.8,322 575.8,339.2 575.8,350.7 575.9,362 575.9,344.8 575.9,338.1 576,329.1 576,342.6 576,358.9 576.1,349.9 576.1,329.7 576.1,320.3 576.2,337 576.2,345.4 576.2,343.7 576.3,340.7 576.3,322.7 576.3,323.3 576.4,347.3 576.4,333 576.4,329.5 576.5,352.1 576.5,351.7 576.5,358.3 576.6,353.3 576.6,337.6 576.6,328.3 576.7,338 576.7,362.5 576.7,331.3 576.8,350.9 576.8,342.6 576.8,339.9 576.9,349.6 576.9,342.6 576.9,317.2 577,340.9 577,350.2 577,335.8 577.1,351.3 577.1,350 577.1,357.2 577.2,332.4 577.2,328 577.2,349.8 577.3,339.4 577.3,347.2 577.3,346.6 577.4,360.4 577.4,337.2 577.4,335.6 577.5,349 577.5,337.4 577.5,346.4 577.6,341.9 577.6,346.2 577.6,367.6 577.7,361.9 577.7,349.5 577.7,328.7 577.8,345.6 577.8,352.7 577.8,344.9 577.9,352 577.9,346.2 577.9,344.7 578,327.2 578,358.1 578,320.5 578.1,354.3 578.1,337.4 578.1,324.7 578.2,336.6 578.2,328.8 578.2,340.8 578.3,334.9 578.3,357.5 578.3,332.6 578.4,325.8 578.4,356.7 578.4,341.7 578.5,349.2 578.5,344.9 578.5,342.2 578.6,359.7 578.6,345 578.6,348.4 578.7,341.5 578.7,348 578.7,331.8 578.8,364.4 578.8,341.9 578.8,333.7 578.9,356.5 578.9,349.1 578.9,331.3 579,343.7 579,358 579,343.9 579.1,329.6 579.1,349.5 579.1,350.2 579.2,354.2 579.2,348.9 579.2,326.2 579.3,335.3 579.3,371.9 579.3,332.8 579.4,347.4 579.4,338.7 579.4,348.9 579.5,345.6 579.5,332.9 579.5,344.9 579.6,338.6 579.6,361.2 579.6,345.1 579.7,348 579.7,341.1 579.7,347.8 579.8,354.3 579.8,343.4 579.8,347.7 579.9,342.5 579.9,355.1 579.9,348.5 580,340.1 580,340.2 580,350.2 580.1,345 580.1,347 580.1,340.7 580.2,347.9 580.2,352.4 580.2,344.5 580.3,338.8 580.3,340.5 580.3,340.2 580.4,351.5 580.4,348.7 580.4,343.4 580.5,328.2 580.5,335.3 580.5,347.8 580.6,337 580.6,349.6 580.6,358 580.7,356.2 580.7,344.7 580.7,354.7 580.8,326.8 580.8,339.1 580.8,350.6 580.9,345 580.9,337.5 580.9,348.1 581,327.8 581,357.7 581,352.8 581.1,361.5 581.1,334.6 581.1,359 581.2,369.7 581.2,352 581.2,359.2 581.3,371.3 581.3,341.1 581.3,331.5 581.4,343.6 581.4,348 581.4,331.1 581.5,344.7 581.5,343.5 581.5,354.5 581.6,348.1 581.6,337.3 581.6,345.4 581.7,339.6 581.7,338.2 581.7,336.2 581.8,355.5 581.8,320.8 581.8,340.3 581.9,350.2 581.9,335.2 581.9,350.3 582,337.7 582,342 582,349.4 582.1,338.1 582.1,340.8 582.1,352.2 582.2,345.9 582.2,341.8 582.2,336.3 582.3,325.2 582.3,348.7 582.3,324.8 582.4,333.1 582.4,340.9 582.4,340.9 582.5,324.8 582.5,351.2 582.5,334.9 582.6,356.2 582.6,338.3 582.6,343.4 582.7,358 582.7,338.5 582.7,351.8 582.8,347.7 582.8,340.8 582.8,335.7 582.9,345.6 582.9,328 582.9,329.9 583,345 583,312.9 583,329.9 583.1,348.2 583.1,346.9 583.1,349.2 583.2,344.7 583.2,348.8 583.2,346.7 583.3,320.4 583.3,330.6 583.3,331.4 583.4,348.8 583.4,352.7 583.4,344.3 583.5,340.5 583.5,349.9 583.5,344.2 583.6,345.2 583.6,351.7 583.6,330.2 583.7,356.7 583.7,347.9 583.7,357.2 583.8,351.8 583.8,351.6 583.8,355 583.9,353.3 583.9,341.8 583.9,345 584,331.3 584,350.7 584,348.6 584.1,339 584.1,342.2 584.1,335.5 584.2,356.7 584.2,337.9 584.2,368.4 584.3,343.2 584.3,348.4 584.3,355 584.4,337.3 584.4,334.1 584.4,335.1 584.5,343.2 584.5,345.4 584.5,352.6 584.6,363.7 584.6,352.8 584.6,350.4 584.7,332.3 584.7,341 584.7,338.7 584.8,324.9 584.8,339.4 584.8,337.6 584.9,345.6 584.9,344.9 584.9,334 585,357.2 585,332.2 585,338.4 585.1,340.4 585.1,356.9 585.1,334.2 585.2,342.1 585.2,341.2 585.2,338.3 585.3,358.8 585.3,352.2 585.3,365.9 585.4,319.5 585.4,359.5 585.4,344.2 585.5,329 585.5,339.2 585.5,350.9 585.6,360.4 585.6,340.5 585.6,351.7 585.7,315.3 585.7,334.8 585.7,331.9 585.8,325.3 585.8,349.6 585.8,347.6 585.9,336.6 585.9,351 585.9,342.8 586,348.3 586,339.1 586,345.8 586.1,340.4 586.1,356.9 586.1,331.4 586.2,355.7 586.2,333.4 586.2,343.7 586.3,340.2 586.3,347.8 586.3,340.6 586.4,332.3 586.4,356.9 586.4,340.4 586.5,334.5 586.5,367 586.5,335.9 586.6,351.6 586.6,334.1 586.6,344 586.7,363.7 586.7,350.7 586.7,333.1 586.8,339.3 586.8,342.7 586.8,342.9 586.9,349.4 586.9,334.7 586.9,334.2 587,359.9 587,345.8 587,357.6 587.1,357.1 587.1,350.2 587.1,351 587.2,320.1 587.2,344.1 587.2,353.5 587.3,345.1 587.3,350.3 587.3,355.8 587.4,332.7 587.4,348.1 587.4,336.4 587.5,345.4 587.5,351.4 587.5,338.6 587.6,344.6 587.6,339.7 587.6,345.4 587.7,337.1 587.7,336.7 587.7,352.2 587.8,337.5 587.8,338.8 587.8,346 587.9,340.3 587.9,347.8 587.9,359.2 588,338.7 588,340 588,337.3 588.1,362.5 588.1,341.4 588.1,345.5 588.2,352.8 588.2,349.9 588.2,363 588.3,357.5 588.3,339.4 588.3,331.3 588.4,339.1 588.4,334.3 588.4,351.6 588.5,345.4 588.5,332.5 588.5,340.2 588.6,364.4 588.6,354.4 588.6,334.7 588.7,356.6 588.7,338.1 588.7,352.6 588.8,346 588.8,336.5 588.8,343.7 588.9,351.1 588.9,347 588.9,347.3 589,327.5 589,346.6 589,351.8 589.1,339 589.1,341.9 589.1,342.5 589.2,350.4 589.2,349 589.2,344.7 589.3,330.3 589.3,350.9 589.3,346.1 589.4,340.9 589.4,353.2 589.4,343.5 589.5,335.5 589.5,329.4 589.5,354 589.6,348.1 589.6,339.5 589.6,346.3 589.7,350 589.7,330.8 589.7,352.7 589.8,352.1 589.8,338.1 589.8,349.3 589.9,330.2 589.9,348.1 589.9,344.8 590,338.3 590,345.6 590,338 590.1,337 590.1,345.7 590.1,343 590.2,345.7 590.2,349.2 590.2,344.5 590.3,344.5 590.3,336.5 590.3,342.3 590.4,326.8 590.4,334.3 590.4,349.1 590.5,353.1 590.5,333 590.5,352.7 590.6,334 590.6,361.7 590.6,337.5 590.7,328.5 590.7,333.9 590.7,321.7 590.8,336.8 590.8,327.5 590.8,328.6 590.9,358.8 590.9,340.4 590.9,333.3 591,336.9 591,330.1 591,332 591.1,356.2 591.1,357.2 591.1,328.5 591.2,345.7 591.2,340.2 591.2,341.5 591.3,363.8 591.3,348.5 591.3,337.5 591.4,343 591.4,335.7 591.4,345 591.5,347.4 591.5,335.6 591.5,335.8 591.6,332.3 591.6,349.5 591.6,342.6 591.7,359 591.7,344.5 591.7,348.1 591.8,342.6 591.8,342.2 591.8,342.7 591.9,341.8 591.9,359.5 591.9,335.1 592,331.7 592,355.5 592,335.2 592.1,339.9 592.1,343.1 592.1,335.1 592.2,354.5 592.2,357.2 592.2,324.1 592.3,357.7 592.3,332.2 592.3,357 592.4,354 592.4,337.4 592.4,355.3 592.5,345.8 592.5,346.8 592.5,355.8 592.6,341.6 592.6,337.8 592.6,328.6 592.7,326.5 592.7,343.3 592.7,342.1 592.8,346.4 592.8,352.1 592.8,361.1 592.9,338.6 592.9,335.1 592.9,337.5 593,344 593,360.6 593,353.6 593.1,332.3 593.1,353.8 593.1,345.4 593.2,340.7 593.2,351.9 593.2,342.1 593.3,344 593.3,348.5 593.3,350.5 593.4,344.6 593.4,339.5 593.4,348 593.5,346 593.5,363.6 593.5,347.9 593.6,364 593.6,360.5 593.6,334.9 593.7,348.5 593.7,347.8 593.7,334.5 593.8,337 593.8,351.9 593.8,341.4 593.9,355.7 593.9,334 593.9,324.7 594,327.7 594,329.7 594,353.2 594.1,345.4 594.1,342.4 594.1,359 594.2,344.6 594.2,328.3 594.2,355.5 594.3,351.9 594.3,323.4 594.3,354.1 594.4,341 594.4,350.5 594.4,343.7 594.5,351.8 594.5,328.4 594.5,329.7 594.6,334 594.6,346.7 594.6,314.9 594.7,342.1 594.7,353.5 594.7,344 594.8,354.3 594.8,340.4 594.8,338 594.9,339.6 594.9,370.1 594.9,354.8 595,345 595,349.4 595,352.8 595.1,335 595.1,331.9 595.1,322 595.2,346.1 595.2,341.2 595.2,362.4 595.3,330.6 595.3,340.1 595.3,358.4 595.4,349 595.4,359.9 595.4,345 595.5,354 595.5,334.4 595.5,339.3 595.6,350 595.6,333.4 595.6,329 595.7,338.7 595.7,337.5 595.7,343.6 595.8,340.7 595.8,359 595.8,342.4 595.9,343.6 595.9,353.4 595.9,359.6 596,329.4 596,346.1 596,344.8 596.1,343.3 596.1,347.9 596.1,347 596.2,339.5 596.2,328.7 596.2,347.5 596.3,351 596.3,370.2 596.3,360.5 596.4,349.9 596.4,325.3 596.4,342.2 596.5,345.3 596.5,348.1 596.5,360.6 596.6,345.6 596.6,348.8 596.6,355.7 596.7,356.2 596.7,316.5 596.7,369.7 596.8,357.3 596.8,337.6 596.8,361.8 596.9,323.1 596.9,323.8 596.9,340.4 597,344.5 597,340.3 597,335.1 597.1,335.1 597.1,338.6 597.1,342.2 597.2,331.5 597.2,354 597.2,363.1 597.3,338.6 597.3,348.4 597.3,328.3 597.4,366.2 597.4,348.8 597.4,343.2 597.5,343.9 597.5,328.7 597.5,334 597.6,362.7 597.6,345.9 597.6,351.3 597.7,371.1 597.7,325.1 597.7,344 597.8,337.9 597.8,363.6 597.8,340.6 597.9,342.7 597.9,350.8 597.9,346.4 598,347.3 598,333.5 598,342.4 598.1,341.3 598.1,344.1 598.1,337.9 598.2,327.4 598.2,345.8 598.2,350.6 598.3,362.1 598.3,342.7 598.3,335.7 598.4,337.6 598.4,346.3 598.4,347.4 598.5,362.9 598.5,355.3 598.5,337.9 598.6,340.8 598.6,362.7 598.6,337.8 598.7,341.1 598.7,345.5 598.7,336.9 598.8,336 598.8,358.5 598.8,342.8 598.9,335.3 598.9,329 598.9,352.2 599,354.4 599,343.7 599,353.9 599.1,351.4 599.1,330.3 599.1,339.2 599.2,348.8 599.2,346.3 599.2,329 599.3,347.9 599.3,338.3 599.3,341 599.4,338.9 599.4,348.5 599.4,336.8 599.5,352.3 599.5,351.2 599.5,332.9 599.6,333.6 599.6,343.3 599.6,348.7 599.7,361 599.7,349.9 599.7,356.7 599.8,361.3 599.8,348.5 599.8,334.1 599.9,369.5 599.9,317.9 599.9,347.8 600,334.2 600,342.4 600,349.9 600.1,350.2 600.1,360.7 600.1,367.6 600.2,356.9 600.2,342.2 600.2,352.3 600.3,334.8 600.3,345.1 600.3,331.6 600.4,364.9 600.4,337.1 600.4,344 600.5,343.6 600.5,358.3 600.5,344 600.6,325.7 600.6,349.5 600.6,362.6 600.7,353.2 600.7,338.5 600.7,346.8 600.8,346.5 600.8,345.2 600.8,328.1 600.9,347.5 600.9,336.8 600.9,346.7 601,340.6 601,305.3 601,330.2 601.1,336.6 601.1,326.8 601.1,335.3 601.2,354.8 601.2,354.5 601.2,354.9 601.3,364.8 601.3,349.6 601.3,351.3 601.4,360.5 601.4,346.4 601.4,337.5 601.5,327.9 601.5,350.2 601.5,338.9 601.6,350.3 601.6,358.3 601.6,344.7 601.7,341.1 601.7,357 601.7,346.9 601.8,323.8 601.8,335.7 601.8,347.3 601.9,341.2 601.9,325.2 601.9,337.5 602,356.7 602,363 602,355 602.1,349.5 602.1,333 602.1,341.5 602.2,344.7 602.2,356.5 602.2,364.8 602.3,345.2 602.3,339.6 602.3,347.7 602.4,361 602.4,348.5 602.4,354.7 602.5,343.4 602.5,374.4 602.5,352.7 602.6,335.4 602.6,357.9 602.6,356.5 602.7,343.9 602.7,339.6 602.7,347.6 602.8,340.4 602.8,349.9 602.8,338.4 602.9,327.5 602.9,345 602.9,323.7 603,346.8 603,355.6 603,354.6 603.1,345 603.1,347 603.1,372 603.2,350.8 603.2,352.9 603.2,343.8 603.3,348.1 603.3,341.8 603.3,342.7 603.4,355.7 603.4,357.3 603.4,327.6 603.5,345.8 603.5,334.7 603.5,329.9 603.6,332.8 603.6,356.3 603.6,324.9 603.7,323.6 603.7,309.7 603.7,329.4 603.8,344.3 603.8,353.4 603.8,359.2 603.9,328.6 603.9,339.2 603.9,353 604,322.1 604,339 604,348.8 604.1,352.2 604.1,337.6 604.1,342.9 604.2,332.2 604.2,338.7 604.2,315.6 604.3,324.7 604.3,331.4 604.3,323.7 604.4,334.8 604.4,333.3 604.4,339.1 604.5,317.7 604.5,342.6 604.5,351.4 604.6,384.1 604.6,347.1 604.6,340.7 604.7,321.7 604.7,338.5 604.7,353.9 604.8,333 604.8,351.7 604.8,339.8 604.9,366 604.9,350 604.9,341.2 605,347.1 605,357.2 605,333.9 605.1,339 605.1,370.4 605.1,322.4 605.2,333.5 605.2,311.8 605.2,351 605.3,353.7 605.3,353.1 605.3,359.3 605.4,349.2 605.4,338.9 605.4,337.5 605.5,337.8 605.5,369.1 605.5,331.7 605.6,359.8 605.6,337.3 605.6,334 605.7,331.3 605.7,312.8 605.7,347.7 605.8,346.1 605.8,351.5 605.8,328.5 605.9,351.5 605.9,335.3 605.9,349.2 606,317.8 606,376 606,360.8 606.1,333.3 606.1,333.4 606.1,328.9 606.2,341 606.2,347.7 606.2,345.7 606.3,352.5 606.3,343.4 606.3,337.2 606.4,355.7 606.4,337.1 606.4,335.8 606.5,343.2 606.5,336 606.5,370.8 606.6,352.2 606.6,373 606.6,339.2 606.7,348.4 606.7,352.2 606.7,336.1 606.8,324.2 606.8,330.3 606.8,356.1 606.9,357.4 606.9,332.6 606.9,327.6 607,341.1 607,323.8 607,349.5 607.1,339.9 607.1,320.2 607.1,351.9 607.2,331.8 607.2,362.3 607.2,347.3 607.3,353 607.3,333.9 607.3,343.1 607.4,331.9 607.4,354 607.4,364.9 607.5,344.5 607.5,331 607.5,337.7 607.6,344.4 607.6,332.3 607.6,348.9 607.7,347.1 607.7,337.8 607.7,350 607.8,332.3 607.8,347.1 607.8,341.9 607.9,347.9 607.9,332.8 607.9,349.5 608,342.3 608,334.1 608,341.7 608.1,344 608.1,355.6 608.1,358.5 608.2,322.5 608.2,342.7 608.2,361.2 608.3,343.1 608.3,347.9 608.3,346.7 608.4,345.3 608.4,361.2 608.4,364 608.5,348 608.5,357.8 608.5,337.6 608.6,357.8 608.6,323.7 608.6,335.8 608.7,361 608.7,324.6 608.7,355.5 608.8,356.5 608.8,351.5 608.8,326.4 608.9,338.2 608.9,351.2 608.9,344.8 609,316.7 609,353.5" stroke="#939598" stroke-width="1.2"/>
<path d="M80 432.2C82.3 433.4 89.1 437.1 93.6 439.5C98.1 441.9 102.6 443.3 107.1 446.8C111.6 450.3 116.1 458.9 120.7 460.3C125.2 461.7 129.7 457.8 134.2 455.3C138.7 452.8 143.2 449 147.7 445.4C152.2 441.8 156.8 431.6 161.3 433.7C165.8 435.8 170.3 456.4 174.8 458.2C179.3 460 183.8 446.9 188.3 444.7C192.8 442.5 197.4 445.6 201.9 445.2C206.4 444.8 210.9 442.8 215.4 442.2C219.9 441.6 224.4 442.4 228.9 441.3C233.5 440.2 238 435.6 242.5 435.4C247 435.2 251.5 439.2 256 439.9C260.5 440.6 265.1 439.1 269.6 439.7C274.1 440.3 278.6 442.3 283.1 443.4C287.6 444.5 292.1 445.6 296.6 446.5C301.1 447.4 305.7 448.3 310.2 448.6C314.7 448.9 319.2 447.2 323.7 448.1C328.2 449 332.7 452.9 337.2 453.9C341.8 454.9 346.3 453.9 350.8 453.9C355.3 453.9 359.8 453.8 364.3 453.9C368.8 454 373.4 454.6 377.9 454.7C382.4 454.8 386.9 454.8 391.4 454.7C395.9 454.6 400.4 454.2 404.9 454.4C409.4 454.6 414 455.5 418.5 455.7C423 455.9 427.5 455.8 432 455.5C436.5 455.2 441 454.1 445.6 453.9C450.1 453.7 454.6 454 459.1 454.4C463.6 454.8 468.1 455.8 472.6 456C477.1 456.2 481.6 456 486.2 455.7C490.7 455.4 495.2 454.6 499.7 454.4C504.2 454.2 508.7 454.3 513.2 454.4C517.8 454.5 522.3 455.2 526.8 455.2C531.3 455.2 535.8 454.6 540.3 454.4C544.8 454.2 549.3 454 553.8 453.9C558.4 453.8 562.9 453.8 567.4 453.9C571.9 454 576.4 454.7 580.9 454.7C585.4 454.7 589.9 453.9 594.5 453.9C599 453.8 605.7 454.3 608 454.4" stroke="#231f20" stroke-width="1.3"/>
<path d="M66.5 220.6C68.3 220.3 74.2 219.3 77.5 218.8C80.8 218.3 82.8 218.1 86.3 217.8C89.8 217.5 95.3 217.1 98.5 217.1C101.7 217.1 103.2 217.5 105.5 217.8C107.8 218.2 110.5 218.9 112.6 219.2C114.6 219.5 116.1 219.8 117.8 219.7C119.5 219.5 120.7 219.1 123 218.3C125.3 217.5 128.9 215.9 131.8 215.1C134.7 214.3 137.7 214.3 140.6 213.7C143.5 213.1 146.5 212.3 149.3 211.6C152.1 210.9 155.4 209.7 157.2 209.5C159 209.3 158.9 210 160 210.2C161.1 210.3 161.9 211.5 163.6 210.4C165.2 209.3 168.2 204.5 169.9 203.6C171.6 202.7 172.4 203.8 173.9 204.8C175.4 205.8 177.4 209.7 179 209.5C180.6 209.3 182.1 204.9 183.4 203.6C184.7 202.3 185.9 202.7 187 201.9C188.1 201.1 188.6 198.2 190.2 198.7C191.8 199.2 194.6 204.9 196.5 204.8C198.4 204.8 200.1 199.3 201.6 198.4C203.1 197.5 204 199.3 205.3 199.3C206.6 199.3 208.2 197.9 209.6 198.2C211 198.5 212.4 201.7 213.6 201.2C214.8 200.7 215.7 195.4 216.9 195.3C218.1 195.2 219.5 200.2 220.6 200.4C221.7 200.7 222.8 197.3 223.5 196.8C224.2 196.3 224.4 198.2 225 197.5C225.6 196.8 226.5 192.8 227.2 192.8C227.9 192.9 228.5 197.9 229.3 197.8C230.2 197.7 231 192.2 232.3 192.4C233.7 192.6 236 198.8 237.4 198.7C238.8 198.6 239.9 191.6 241 191.7C242.1 191.8 243.1 199.6 243.9 199.3C244.8 199.1 245.4 190.6 246.1 190.2C246.8 189.8 247.5 196.7 248.3 197.1C249.2 197.5 250.3 192.7 251.2 192.4C252 192.1 252.4 195.2 253.4 195.3C254.4 195.4 256.1 192.6 257.1 193.1C258.1 193.6 258.6 197.5 259.3 198.2C260 198.9 261 198.4 261.5 197.2C262 196 262 191.1 262.3 190.8C262.6 190.6 262.8 194.6 263.1 195.7C263.4 196.8 263.6 197.4 263.9 197.5C264.1 197.6 264.4 196.9 264.6 196.3C264.9 195.7 265.2 194.3 265.4 193.9C265.7 193.5 265.9 194.2 266.1 194.1C266.4 193.9 266.6 192.3 266.9 192.9C267.1 193.5 267.4 198.1 267.6 197.9C267.8 197.7 268.1 191.8 268.3 191.8C268.6 191.8 268.8 197.6 269 197.9C269.3 198.3 269.5 194.4 269.7 193.8C269.9 193.3 270.2 194.5 270.4 194.6C270.6 194.7 270.8 195.7 271.1 194.6C271.3 193.6 271.5 188.6 271.7 188.4C272 188.1 272.2 192.2 272.4 193.3C272.6 194.5 272.8 195.3 273.1 195.2C273.3 195.1 273.5 192.9 273.7 192.8C273.9 192.7 274.1 193.7 274.3 194.6C274.6 195.5 274.8 197.3 275 197.9C275.2 198.5 275.4 198.2 275.6 198.4C275.8 198.5 276 200.2 276.2 198.7C276.4 197.2 276.6 190.6 276.8 189.4C277 188.3 277.2 191.3 277.4 191.6C277.5 191.8 277.7 190.7 277.9 191.2C278.1 191.6 278.3 194.3 278.4 194.4C278.6 194.6 278.9 192.6 279 192.2L279.5,195.1 280,190.2 280.4,195.2 280.9,191 281.4,194.1 281.8,192.5 282.3,193.7 282.7,190.8 283.2,194.4 283.6,190.7 284,196.1 284.4,193.4 284.8,191.4 285.2,199.2 285.6,192.8 286,194.4 286.4,198.8 286.7,195.8 287.1,196 287.5,194.8 287.8,196 288.2,197.7 288.6,199.1 288.9,201.3 289.2,188.9 289.6,191.7 289.9,197.2 290.3,196.7 290.6,197.9 290.9,195.9 291.2,197.7 291.5,190.1 291.8,193.7 292.1,193.7 292.4,194.9 292.6,196.5 292.9,194.7 293.1,194.3 293.4,192.5 293.6,196 293.9,192.8 294.1,190.6 294.4,192.1 294.6,194 294.8,195.6 295.1,195.5 295.3,193.9 295.5,192.1 295.7,192.6 295.9,194.9 296.1,196.7 296.3,196.5 296.5,193.6 296.7,193.5 296.9,199.7 297.1,196.3 297.3,191.9 297.5,194.7 297.7,191.7 297.9,199.2 298.1,198.4 298.3,196.6 298.5,192.9 298.6,197.7 298.8,195 299,193.4 299.2,193.2 299.3,196.3 299.5,196 299.7,199.8 299.9,197.9 300,194.9 300.2,197.3 300.4,196.9 300.5,197.8 300.7,198.7 300.8,194.7 301,194.4 301.2,192 301.3,193.5 301.5,195.3 301.7,195.1 301.8,193.6 302,195.7 302.2,198.9 302.3,192.9 302.5,191.7 302.6,191.7 302.8,202.2 303,194.8 303.1,194.6 303.3,192.2 303.4,192.1 303.6,192.1 303.7,194.8 303.9,196.9 304.1,192.1 304.2,194.6 304.4,192.7 304.5,199.3 304.7,198.4 304.8,192.4 305,192.4 305.1,197.1 305.3,191 305.4,199.3 305.6,197 305.8,194.7 305.9,199.6 306.1,192.6 306.2,195.4 306.4,195.7 306.5,191.6 306.7,197 306.8,196.9 307,196.2 307.1,195.3 307.3,193.8 307.4,191.5 307.6,192.3 307.7,195.9 307.9,197.6 308,202.3 308.1,201.9 308.3,196.5 308.4,196.9 308.6,201.5 308.7,197.3 308.9,197.8 309,196.6 309.2,192.4 309.3,195.9 309.5,200.9 309.6,190.9 309.7,195.3 309.9,193.9 310,197.2 310.2,195.2 310.3,190.1 310.5,197 310.6,194 310.7,198.8 310.9,195.2 311,195.1 311.2,196.1 311.3,193.8 311.4,201.3 311.6,193.5 311.7,195.1 311.9,198.9 312,192 312.1,198.4 312.3,194 312.4,195.7 312.6,192.3 312.7,201.1 312.8,197.1 313,194 313.1,197.1 313.2,195 313.4,199.2 313.5,193.9 313.7,196.2 313.8,197.9 313.9,193.4 314.1,198.2 314.2,195.1 314.3,197.3 314.5,193.3 314.6,190 314.7,192.8 314.9,192.3 315,196.9 315.1,197.3 315.3,196.1 315.4,191.3 315.5,195.1 315.7,194.9 315.8,197.3 315.9,200.4 316.1,193.7 316.2,201.2 316.3,196.1 316.5,198 316.6,195.2 316.7,199.8 316.8,189.3 317,197.1 317.1,198 317.2,194.5 317.4,191.2 317.5,194.4 317.6,194.9 317.8,198.8 317.9,193.2 318,195.1 318.1,199.2 318.3,198.3 318.4,196.7 318.5,195.8 318.6,189.9 318.8,199.1 318.9,194.1 319,195.4 319.2,197.3 319.3,195 319.4,195.7 319.5,193.3 319.7,196.2 319.8,195.3 319.9,195.9 320,194.4 320.2,193.5 320.3,193.3 320.4,195.1 320.5,196.1 320.7,193.3 320.8,193.2 320.9,201.9 321,195.7 321.2,198.1 321.3,196.9 321.4,197.4 321.5,195.8 321.6,194.2 321.8,198.6 321.9,192.1 322,194.3 322.1,196.8 322.3,199.3 322.4,196 322.5,194.3 322.6,193 322.7,196.6 322.9,194.8 323,191.9 323.1,199.3 323.2,198.3 323.3,196.2 323.5,196.1 323.6,197.7 323.7,201.4 323.8,191.2 323.9,197.9 324.1,194.1 324.2,194.1 324.3,202.3 324.4,194.6 324.5,192.7 324.7,195.5 324.8,188.7 324.9,195.6 325,198.4 325.1,195.1 325.2,198.2 325.4,197.3 325.5,199.9 325.6,195.7 325.7,191.2 325.8,191.9 325.9,189.7 326.1,195.2 326.2,196.6 326.3,201.1 326.4,194.4 326.5,196.3 326.6,195.8 326.8,193.1 326.9,195.8 327,192.9 327.1,190.8 327.2,199.2 327.3,199 327.4,191.8 327.6,198.6 327.7,195.2 327.8,196.8 327.9,193.8 328,197.8 328.1,195.8 328.2,200.4 328.4,197.8 328.5,197.1 328.6,195.9 328.7,194.7 328.8,198.1 328.9,202.5 329,191 329.1,199.4 329.3,196.4 329.4,188.1 329.5,193.6 329.6,193.7 329.7,195.8 329.8,197.3 329.9,195.2 330,195.5 330.1,196.1 330.3,197.5 330.4,194.1 330.5,194.8 330.6,191.1 330.7,193.3 330.8,193.1 330.9,196.4 331,193.7 331.1,198.7 331.3,201.7 331.4,187.6 331.5,194.8 331.6,197.9 331.7,196.4 331.8,192.4 331.9,195.4 332,195.5 332.1,196.2 332.2,194.4 332.3,193.4 332.4,195.1 332.6,196.4 332.7,194.5 332.8,197.1 332.9,194.7 333,198.5 333.1,195.8 333.2,198.6 333.3,192.7 333.4,195.6 333.5,193 333.6,196 333.7,193.4 333.8,192.1 334,194.8 334.1,194.1 334.2,204.2 334.3,200.8 334.4,196.5 334.5,191 334.6,193.7 334.7,192.3 334.8,193.5 334.9,194.5 335,195.3 335.1,195.6 335.2,200.4 335.3,196.6 335.4,198.3 335.5,193.8 335.6,195.7 335.7,199.4 335.8,196.7 336,194 336.1,195 336.2,196.7 336.3,194.6 336.4,194.4 336.5,189.3 336.6,187.1 336.7,195.5 336.8,196.8 336.9,185 337,198.8 337.1,200.8 337.2,197.4 337.3,198.1 337.4,194.8 337.5,198.9 337.6,196.2 337.7,196.8 337.8,197.9 337.9,200 338,193.1 338.1,192.7 338.2,189.2 338.3,191.8 338.4,192.8 338.5,192.7 338.6,199.3 338.7,194.8 338.8,193.2 338.9,195.8 339,196.6 339.1,192.8 339.2,193.6 339.3,191.7 339.4,192.5 339.5,192.7 339.6,196.7 339.7,196.8 339.8,190.8 339.9,195.1 340,191.3 340.1,192.9 340.2,193.3 340.3,195.3 340.4,195.9 340.5,196.2 340.6,195.7 340.7,191.8 340.8,191.4 340.9,191.7 341,200 341.1,193 341.2,198.9 341.3,196.2 341.4,200.4 341.5,197.9 341.6,196.4 341.7,196.8 341.8,191.3 341.9,190.4 342,194.7 342.1,196 342.2,195 342.3,194.7 342.4,189.8 342.5,196.2 342.6,196.9 342.7,193 342.8,192.9 342.9,189.1 343,191.8 343.1,193.9 343.2,194.6 343.3,199.7 343.4,195.5 343.5,194.7 343.6,194.7 343.7,187.3 343.8,197.1 343.9,193.1 344,191.7 344.1,191.4 344.2,189 344.2,196.2 344.3,190.3 344.4,197 344.5,196.1 344.6,201.1 344.7,196.5 344.8,195.3 344.9,195.5 345,195.9 345.1,193.3 345.2,201.9 345.3,197.5 345.4,189.7 345.5,201.7 345.6,189.8 345.7,195.7 345.8,195.6 345.9,191.1 346,190.6 346.1,196.2 346.2,195.9 346.2,193.6 346.3,190.8 346.4,194.4 346.5,192.1 346.6,188.9 346.7,194.9 346.8,199.1 346.9,196.8 347,192.9 347.1,194.5 347.2,193.9 347.3,193.3 347.4,195.3 347.5,195 347.6,195.6 347.6,193.1 347.7,196.2 347.8,192.9 347.9,196.1 348,199.7 348.1,194.2 348.2,194 348.3,196 348.4,190.7 348.5,189.8 348.6,200.7 348.7,195.9 348.8,197.4 348.9,196.7 348.9,193.5 349,195.2 349.1,189.8 349.2,194.2 349.3,196.6 349.4,194.9 349.5,193.1 349.6,193.6 349.7,194.2 349.8,195.2 349.9,197 349.9,196 350,193.5 350.1,193.3 350.2,198.4 350.3,198.1 350.4,202.8 350.5,196.4 350.6,194.7 350.7,196.4 350.8,190.1 350.9,194 350.9,193.9 351,198.1 351.1,195.7 351.2,190.6 351.3,195 351.4,192.5 351.5,193.1 351.6,191.3 351.7,196.7 351.8,195.7 351.8,199.9 351.9,193.1 352,189.3 352.1,192.4 352.2,195.8 352.3,201.6 352.4,197.6 352.5,192 352.6,196.6 352.6,191.8 352.7,188.7 352.8,195.5 352.9,192 353,198.7 353.1,195.9 353.2,198.4 353.3,193.7 353.4,190.3 353.4,193.8 353.5,196.8 353.6,191.8 353.7,196.1 353.8,199.4 353.9,201.2 354,201 354.1,194.4 354.1,198 354.2,194.1 354.3,192.4 354.4,194.6 354.5,187.9 354.6,195.9 354.7,192.2 354.8,195.9 354.8,189.7 354.9,193 355,194.2 355.1,191.5 355.2,190.8 355.3,194 355.4,198.6 355.5,191.5 355.5,199.5 355.6,194.9 355.7,198.1 355.8,194.4 355.9,192.7 356,191.3 356.1,196.8 356.1,200.1 356.2,198.5 356.3,195.3 356.4,193.4 356.5,195.4 356.6,195 356.7,195 356.7,196.3 356.8,195.4 356.9,192.4 357,195.5 357.1,193.3 357.2,195.8 357.3,190.8 357.3,196 357.4,193.4 357.5,194.8 357.6,191.9 357.7,194.8 357.8,197.1 357.9,198 357.9,196.1 358,191.5 358.1,195 358.2,197.4 358.3,192.3 358.4,192.9 358.4,197.1 358.5,191.3 358.6,192 358.7,197.3 358.8,193.9 358.9,189 359,195.8 359,192 359.1,199.8 359.2,190.2 359.3,194.2 359.4,191.8 359.5,196.7 359.5,196.3 359.6,192.5 359.7,187.4 359.8,194.7 359.9,193.8 360,197.1 360,191.7 360.1,200.2 360.2,194.1 360.3,194.7 360.4,198.3 360.5,200.9 360.5,198.3 360.6,192.9 360.7,193.8 360.8,191.4 360.9,193.5 361,192.3 361,195.3 361.1,195.7 361.2,193.5 361.3,192.8 361.4,193 361.4,194.2 361.5,193.8 361.6,197.7 361.7,198.4 361.8,193.3 361.9,189.4 361.9,192.2 362,199 362.1,197.4 362.2,193.9 362.3,195.7 362.4,195.3 362.4,195.6 362.5,196.2 362.6,194.7 362.7,199.4 362.8,195.5 362.8,195.3 362.9,195.8 363,197.7 363.1,199.9 363.2,188.8 363.2,196.6 363.3,194.9 363.4,195.6 363.5,197.1 363.6,196.1 363.7,197 363.7,191.6 363.8,191.2 363.9,196.5 364,192.4 364.1,198 364.1,191.4 364.2,198.1 364.3,192.9 364.4,196.3 364.5,196.1 364.5,192.8 364.6,196.8 364.7,191.8 364.8,197 364.9,193.3 364.9,198.9 365,192 365.1,195.3 365.2,197.8 365.3,199.9 365.3,196.3 365.4,193.1 365.5,194.1 365.6,192.6 365.7,189.6 365.7,188.7 365.8,193.4 365.9,195.4 366,198.6 366.1,195.6 366.1,197 366.2,193.9 366.3,195.3 366.4,195.4 366.5,198.5 366.5,192 366.6,194.6 366.7,195.6 366.8,196.6 366.8,192.5 366.9,193.9 367,202.9 367.1,197.5 367.2,191.9 367.2,191.6 367.3,193.2 367.4,191.3 367.5,197 367.6,192.7 367.6,195.5 367.7,192.3 367.8,197.8 367.9,188.9 367.9,194.3 368,197.2 368.1,188.9 368.2,196.6 368.3,192 368.3,193.5 368.4,191.6 368.5,193.5 368.6,192.8 368.6,196.8 368.7,196.8 368.8,194.9 368.9,199.6 369,191.8 369,196.3 369.1,191 369.2,198.7 369.3,198.4 369.3,191.3 369.4,192.6 369.5,194.9 369.6,196.3 369.7,195.1 369.7,196.4 369.8,194.5 369.9,193.3 370,199.8 370,192.9 370.1,193.9 370.2,195.4 370.3,193 370.3,192.9 370.4,191.4 370.5,195.5 370.6,198.8 370.7,196.4 370.7,196.4 370.8,193.5 370.9,194.3 371,199.9 371,192.7 371.1,195.1 371.2,195.9 371.3,194.9 371.3,195.7 371.4,197.9 371.5,195.7 371.6,197.4 371.6,196.1 371.7,194.5 371.8,198.9 371.9,196.5 371.9,199.7 372,195.5 372.1,199.9 372.2,195.1 372.3,189.7 372.3,197.3 372.4,196.1 372.5,196.3 372.6,195.4 372.6,196.4 372.7,194.7 372.8,196.8 372.9,196.3 372.9,191.8 373,195.4 373.1,198.8 373.2,197.9 373.2,190.6 373.3,198.6 373.4,193.4 373.5,196.2 373.5,192.8 373.6,194.8 373.7,194.9 373.8,193.7 373.8,194.9 373.9,196.6 374,193.2 374.1,195 374.1,194.1 374.2,191.8 374.3,195.1 374.4,201.9 374.4,195.9 374.5,196.6 374.6,196.2 374.6,190.2 374.7,198.3 374.8,190.9 374.9,194.4 374.9,194.8 375,194.2 375.1,192.8 375.2,195 375.2,197.4 375.3,197.7 375.4,191 375.5,193 375.5,197.5 375.6,194 375.7,192.3 375.8,194.6 375.8,193.9 375.9,196.7 376,199.9 376.1,194.4 376.1,195.5 376.2,194.3 376.3,196.9 376.3,194.2 376.4,192.8 376.5,191.5 376.6,196.5 376.6,195.2 376.7,198.6 376.8,193.5 376.9,195.5 376.9,194.5 377,194 377.1,193 377.2,193.5 377.2,193.6 377.3,197.2 377.4,194.3 377.4,197.7 377.5,197.5 377.6,194.6 377.7,198.1 377.7,196 377.8,196 377.9,194.5 378,197.8 378,192.2 378.1,192.7 378.2,194.2 378.2,192 378.3,192.6 378.4,195.5 378.5,192.3 378.5,194.8 378.6,190.3 378.7,199.4 378.7,193.2 378.8,203.1 378.9,195.6 379,195.9 379,197.6 379.1,196.1 379.2,196.5 379.3,196.3 379.3,196.4 379.4,197.1 379.5,190.9 379.5,191.4 379.6,194.7 379.7,190.4 379.8,196 379.8,190.7 379.9,195.2 380,194.8 380,187.8 380.1,195.1 380.2,196.2 380.3,189.4 380.3,192 380.4,195.9 380.5,192.2 380.5,197.3 380.6,196.3 380.7,189.7 380.8,196 380.8,197.2 380.9,193.9 381,194.4 381,198 381.1,190.5 381.2,189.4 381.2,191.1 381.3,188.6 381.4,195.1 381.5,198.4 381.5,195 381.6,192.9 381.7,196.7 381.7,199.1 381.8,193.6 381.9,197.9 382,197.1 382,198.2 382.1,194.3 382.2,197.7 382.2,194.9 382.3,196.2 382.4,197.2 382.4,193.6 382.5,194.9 382.6,198.8 382.7,186.9 382.7,196.4 382.8,197 382.9,195.7 382.9,196.7 383,189.3 383.1,202.6 383.1,188.8 383.2,197.8 383.3,197.7 383.4,200.4 383.4,191.2 383.5,195.1 383.6,185.9 383.6,193 383.7,196.3 383.8,196.2 383.8,196.5 383.9,196.1 384,190.8 384.1,189.9 384.1,192.8 384.2,199.4 384.3,194.9 384.3,196.4 384.4,193 384.5,197.8 384.5,199.5 384.6,192.4 384.7,195 384.7,196 384.8,192.3 384.9,201.3 385,188.5 385,190.1 385.1,195.1 385.2,198.2 385.2,192.6 385.3,201.1 385.4,195.1 385.4,197 385.5,197.7 385.6,194.5 385.6,191.8 385.7,194.3 385.8,188.8 385.8,199.3 385.9,194.5 386,198.3 386.1,197.9 386.1,188.9 386.2,197.5 386.3,197.6 386.3,196.7 386.4,197.6 386.5,197.2 386.5,194.4 386.6,195.5 386.7,198.7 386.7,194.5 386.8,202.3 386.9,195.1 386.9,199.7 387,197.9 387.1,197.9 387.1,195.5 387.2,191.6 387.3,193.7 387.3,190.5 387.4,192.8 387.5,199.6 387.6,192.4 387.6,198.1 387.7,193.7 387.8,197.3 387.8,188.7 387.9,199.4 388,196.2 388,193.6 388.1,191.9 388.2,190.3 388.2,194.2 388.3,192.5 388.4,193.5 388.4,193.4 388.5,194.4 388.6,187.2 388.6,196 388.7,197.9 388.8,192.3 388.8,199.7 388.9,194.4 389,192.3 389,194.9 389.1,195.1 389.2,194.8 389.2,196 389.3,197.6 389.4,195.8 389.4,197 389.5,202.7 389.6,196.7 389.6,191.6 389.7,202.4 389.8,199.7 389.8,192.9 389.9,189.5 390,193.8 390,195.4 390.1,186.8 390.2,194.4 390.2,200.4 390.3,196.5 390.4,185.9 390.4,192.3 390.5,195 390.6,196.3 390.6,195.9 390.7,198 390.8,193.7 390.8,192.7 390.9,187.1 391,197.8 391,196.5 391.1,193.7 391.2,196.8 391.2,190.9 391.3,192.6 391.4,190.8 391.4,195.9 391.5,193.5 391.6,195.3 391.6,196.2 391.7,193.8 391.8,191.3 391.8,191.7 391.9,195.7 392,209.7 392,196 392.1,193.5 392.2,194.3 392.2,196.6 392.3,200.7 392.4,189.4 392.4,189.2 392.5,195 392.6,197.6 392.6,194.4 392.7,197.1 392.7,196.9 392.8,194.1 392.9,194.9 392.9,192 393,193.6 393.1,197.9 393.1,196.2 393.2,198.1 393.3,197.2 393.3,190.2 393.4,191.1 393.5,195.1 393.5,193.8 393.6,194.3 393.7,186.8 393.7,190.7 393.8,196.9 393.9,201.9 393.9,195.8 394,191.6 394.1,191.6 394.1,194.7 394.2,191.9 394.2,189.8 394.3,194 394.4,198.4 394.4,195.5 394.5,196.3 394.6,201.9 394.6,193.7 394.7,199.3 394.8,194 394.8,192.3 394.9,191.1 395,190.5 395,195.5 395.1,195.6 395.2,194.5 395.2,193.8 395.3,195.4 395.3,192.2 395.4,193.4 395.5,193.8 395.5,195.9 395.6,193.6 395.7,194.6 395.7,198.1 395.8,197.1 395.9,193 395.9,194.3 396,191 396.1,194.5 396.1,202.8 396.2,197.2 396.2,201.8 396.3,201 396.4,196.4 396.4,192.4 396.5,190.3 396.6,193 396.6,197 396.7,195.8 396.8,192.7 396.8,193.9 396.9,198.1 396.9,192.4 397,200.1 397.1,192.1 397.1,192.4 397.2,199.1 397.3,197 397.3,196.9 397.4,194.9 397.5,194.2 397.5,188.2 397.6,193.5 397.6,194.9 397.7,196.8 397.8,193.8 397.8,194.1 397.9,196.4 398,198.2 398,193.9 398.1,196.1 398.2,193.1 398.2,190.3 398.3,196.2 398.3,196.3 398.4,196.7 398.5,195.4 398.5,192.6 398.6,196.9 398.7,190.7 398.7,198.4 398.8,196.3 398.8,196.7 398.9,193.3 399,197.2 399,194.8 399.1,195.2 399.2,198 399.2,195.4 399.3,191.6 399.3,198.2 399.4,194.7 399.5,198.5 399.5,195.7 399.6,195 399.7,198.2 399.7,191.7 399.8,193.6 399.9,196.7 399.9,198.8 400,193.5 400,194.8 400.1,191.8 400.2,192.4 400.2,193.8 400.3,198.1 400.4,194.8 400.4,195.2 400.5,197.5 400.5,192.1 400.6,192.9 400.7,195.5 400.7,195.9 400.8,194.5 400.8,191.6 400.9,198.1 401,192.6 401,197.5 401.1,194.8 401.2,195.7 401.2,194.3 401.3,194.7 401.3,192.1 401.4,194.5 401.5,193.2 401.5,190.7 401.6,191.7 401.7,194.3 401.7,188 401.8,192.2 401.8,189.8 401.9,189.6 402,193.7 402,195.6 402.1,197.4 402.1,191.6 402.2,197.3 402.3,196 402.3,195.4 402.4,193.3 402.5,193.8 402.5,199.4 402.6,197.3 402.6,194.4 402.7,196.1 402.8,195.1 402.8,193.8 402.9,191.4 402.9,194.1 403,193 403.1,193.5 403.1,193.9 403.2,190.4 403.2,196.1 403.3,187.3 403.4,188.4 403.4,194 403.5,200.7 403.5,195.6 403.6,195.7 403.7,188.4 403.7,198.1 403.8,196.2 403.8,197.5 403.9,194 404,194.5 404,188.6 404.1,195.5 404.2,192.9 404.2,192.1 404.3,199.3 404.3,196.1 404.4,194.2 404.5,197.5 404.5,198.3 404.6,201.1 404.6,191.6 404.7,195 404.8,197.3 404.8,196.4 404.9,199.7 404.9,197 405,194.9 405.1,198.9 405.1,190.5 405.2,196.1 405.2,192.8 405.3,196.4 405.4,193.9 405.4,191.3 405.5,196.1 405.5,197.1 405.6,193.1 405.7,197.5 405.7,200.4 405.8,196.4 405.8,195.2 405.9,197 405.9,193.7 406,197.3 406.1,196.5 406.1,201.2 406.2,187 406.2,194.7 406.3,194.2 406.4,193.7 406.4,195.8 406.5,196.1 406.5,193.9 406.6,193.3 406.7,195.8 406.7,194.7 406.8,191.4 406.8,188.1 406.9,195.2 407,201.2 407,193.7 407.1,196.1 407.1,192 407.2,191.7 407.2,197.1 407.3,197.4 407.4,190.8 407.4,201.3 407.5,194.3 407.5,193.7 407.6,197.9 407.7,192.6 407.7,197.1 407.8,199.3 407.8,195.1 407.9,192.7 408,193 408,199.5 408.1,199 408.1,199.6 408.2,196.5 408.2,192.4 408.3,194.2 408.4,195.2 408.4,188.8 408.5,195.4 408.5,199.4 408.6,194.3 408.7,191.9 408.7,193.8 408.8,192.5 408.8,195.7 408.9,199.3 408.9,190 409,195.8 409.1,195.3 409.1,196.7 409.2,191.2 409.2,194.4 409.3,197.8 409.3,200.2 409.4,198.1 409.5,189.1 409.5,201.2 409.6,199.1 409.6,195 409.7,196.5 409.8,191.5 409.8,194.3 409.9,193.8 409.9,191.7 410,195.1 410,193.2 410.1,192.7 410.2,194.7 410.2,194.6 410.3,195.4 410.3,196.9 410.4,195.7 410.4,193.9 410.5,197.1 410.6,189.2 410.6,190.2 410.7,192.7 410.7,192.1 410.8,194.4 410.8,192.4 410.9,196.1 411,192.2 411,196.8 411.1,194.1 411.1,191.7 411.2,198.4 411.2,195.2 411.3,191.9 411.4,195 411.4,194.3 411.5,189.1 411.5,196.4 411.6,197.6 411.6,192.8 411.7,197.1 411.7,190.8 411.8,199.7 411.9,196.2 411.9,195.2 412,193.4 412,194.1 412.1,193.7 412.1,199.5 412.2,196.6 412.3,199.6 412.3,196.7 412.4,200.9 412.4,194.9 412.5,193 412.5,199.7 412.6,194.8 412.7,197.8 412.7,191.4 412.8,193.7 412.8,198 412.9,201.1 412.9,195.3 413,196 413,191.4 413.1,195.8 413.2,195.7 413.2,193 413.3,197.6 413.3,195.9 413.4,192.4 413.4,193.9 413.5,193.7 413.6,199.9 413.6,187.8 413.7,197.1 413.7,198.2 413.8,196.2 413.8,196.1 413.9,194.1 413.9,189.6 414,192.8 414.1,193.8 414.1,192.6 414.2,199.4 414.2,200.7 414.3,199.7 414.3,198.2 414.4,193.7 414.4,192.9 414.5,195.6 414.6,195.9 414.6,193.1 414.7,192.7 414.7,193.3 414.8,194.3 414.8,196 414.9,193.4 414.9,194.4 415,195.5 415.1,195.7 415.1,189.4 415.2,190.6 415.2,197.1 415.3,200.3 415.3,200.1 415.4,192.4 415.4,194.6 415.5,187.5 415.5,194.8 415.6,191.7 415.7,191.7 415.7,199.9 415.8,191.1 415.8,199.3 415.9,195.9 415.9,199.5 416,192.7 416,195.1 416.1,200.3 416.2,194.6 416.2,196.2 416.3,202.6 416.3,193.2 416.4,197 416.4,194.9 416.5,193.1 416.5,197.5 416.6,198.7 416.6,201.8 416.7,197.6 416.8,192.3 416.8,193.4 416.9,193.9 416.9,193.1 417,195.4 417,193.6 417.1,196.6 417.1,196.7 417.2,196.7 417.2,195.4 417.3,194.6 417.4,196.1 417.4,190.9 417.5,195 417.5,193.1 417.6,190.7 417.6,197.4 417.7,197.9 417.7,193.9 417.8,197.3 417.8,195.9 417.9,199.4 417.9,196.2 418,191.7 418.1,200 418.1,202.7 418.2,195.5 418.2,197.1 418.3,196.3 418.3,196.7 418.4,197.4 418.4,195.6 418.5,197.9 418.5,196 418.6,191.4 418.6,199.6 418.7,192 418.8,190.5 418.8,190.5 418.9,194.1 418.9,192 419,195 419,193.2 419.1,199.5 419.1,192 419.2,192.1 419.2,193.1 419.3,196.9 419.3,193 419.4,196.5 419.5,194.5 419.5,194.9 419.6,201.2 419.6,192.7 419.7,195.6 419.7,193 419.8,190.3 419.8,196.3 419.9,190.2 419.9,193.8 420,195.8 420,192.7 420.1,198.7 420.1,198.8 420.2,194.8 420.2,191.1 420.3,197.2 420.4,195.7 420.4,198 420.5,194.6 420.5,196.4 420.6,190.5 420.6,196.7 420.7,194.6 420.7,194.1 420.8,193.9 420.8,203.1 420.9,198.4 420.9,192.1 421,186.9 421,195 421.1,197.3 421.1,200.7 421.2,197 421.3,195 421.3,195.9 421.4,192.7 421.4,188.9 421.5,192.9 421.5,201.1 421.6,192 421.6,198.5 421.7,192.6 421.7,192.9 421.8,192.7 421.8,198.1 421.9,192.9 421.9,200.7 422,197.1 422,190 422.1,196.7 422.1,195 422.2,194.2 422.3,201.4 422.3,193.1 422.4,194.1 422.4,194.5 422.5,193.4 422.5,193 422.6,191.9 422.6,194.1 422.7,196.6 422.7,190.6 422.8,193.8 422.8,190.4 422.9,189.8 422.9,192.4 423,197.4 423,197.9 423.1,194.9 423.1,193.1 423.2,196.2 423.2,197.9 423.3,192.3 423.3,201.8 423.4,193.7 423.5,195.5 423.5,189.1 423.6,200.1 423.6,197.8 423.7,193.2 423.7,195.5 423.8,192.4 423.8,191.2 423.9,195.7 423.9,194.6 424,197.8 424,194 424.1,199.1 424.1,200.3 424.2,196.4 424.2,197.1 424.3,194.2 424.3,201.5 424.4,193.5 424.4,196.9 424.5,196.6 424.5,192 424.6,191.7 424.6,199.4 424.7,193.3 424.7,195.9 424.8,192.5 424.8,191.6 424.9,194.3 424.9,196.7 425,192.3 425,197.5 425.1,191.6 425.2,193 425.2,194 425.3,195.8 425.3,193.6 425.4,189 425.4,195 425.5,196.7 425.5,191.4 425.6,193.8 425.6,190.9 425.7,198.4 425.7,196.5 425.8,195.4 425.8,197.6 425.9,195.8 425.9,192.6 426,193.2 426,193 426.1,194.9 426.1,195.9 426.2,195.3 426.2,194.3 426.3,195.6 426.3,198.7 426.4,193.3 426.4,194.2 426.5,197.6 426.5,190.9 426.6,195.2 426.6,194.4 426.7,199 426.7,191.9 426.8,193.4 426.8,194 426.9,197.2 426.9,188.8 427,197.7 427,196.3 427.1,193.3 427.1,191.3 427.2,196 427.2,197.4 427.3,194.7 427.3,191.9 427.4,194.5 427.4,193.4 427.5,192.9 427.5,188.5 427.6,198.5 427.6,193.1 427.7,195.2 427.7,195.4 427.8,194.8 427.8,197.3 427.9,197.1 427.9,194.8 428,198.6 428,192.3 428.1,196.1 428.1,195.9 428.2,200.4 428.2,194.7 428.3,195.6 428.3,193.8 428.4,193.3 428.4,194.9 428.5,199.5 428.5,192.9 428.6,194.7 428.6,192.6 428.7,195.3 428.7,195.3 428.8,194.8 428.8,195.2 428.9,194.3 428.9,195.2 429,196.9 429,195.9 429.1,191.6 429.1,195.3 429.2,197 429.2,193.7 429.3,196.1 429.3,196.1 429.4,192.5 429.4,192.2 429.5,194.8 429.5,194.2 429.6,194.6 429.6,193.3 429.7,193.7 429.7,195.2 429.8,196.6 429.8,195.7 429.9,191.7 429.9,197.6 430,195 430,195.9 430.1,195.7 430.1,195.2 430.2,195.7 430.2,198.5 430.3,196.6 430.3,194.1 430.4,195.1 430.4,193.9 430.5,195.5 430.5,193.7 430.6,196.2 430.6,190.1 430.7,197.6 430.7,192.5 430.8,191.4 430.8,191.6 430.9,194.4 430.9,198.3 431,192 431,191.1 431.1,195.7 431.1,197.5 431.2,192.8 431.2,195.9 431.3,195.7 431.3,194.1 431.4,195.1 431.4,193.6 431.5,195 431.5,194.6 431.6,192.6 431.6,193.3 431.7,192.3 431.7,192.7 431.8,196.6 431.8,189.8 431.9,198.7 431.9,195.7 432,196.1 432,193.9 432.1,194.5 432.1,193.2 432.1,194.5 432.2,196 432.2,191.7 432.3,190.2 432.3,199.2 432.4,194.8 432.4,194.6 432.5,195.3 432.5,197 432.6,193.9 432.6,198.5 432.7,192.1 432.7,196 432.8,193 432.8,188.6 432.9,193.5 432.9,193.1 433,192.4 433,198.4 433.1,193 433.1,195.7 433.2,192.1 433.2,196.6 433.3,194.9 433.3,193.4 433.4,191 433.4,195 433.5,195.6 433.5,194.6 433.6,201.7 433.6,193 433.7,192.1 433.7,195.9 433.8,194.5 433.8,197.3 433.8,197 433.9,194.3 433.9,199.5 434,194.1 434,197.6 434.1,194.8 434.1,193.8 434.2,195.3 434.2,194.4 434.3,198 434.3,191.2 434.4,196.7 434.4,195.1 434.5,193.1 434.5,192 434.6,195.8 434.6,196 434.7,193 434.7,192.1 434.8,187.5 434.8,195.5 434.9,194.7 434.9,193.5 435,192.8 435,197.5 435,195.6 435.1,192.8 435.1,195.3 435.2,196.8 435.2,192.4 435.3,198 435.3,198.9 435.4,196.3 435.4,198 435.5,195.6 435.5,194.7 435.6,193.8 435.6,195.9 435.7,196.8 435.7,197.4 435.8,196.1 435.8,194 435.9,194.6 435.9,189.7 436,192.8 436,200.3 436,199.4 436.1,197.8 436.1,200.1 436.2,194.1 436.2,201.5 436.3,191.6 436.3,195.7 436.4,201.1 436.4,200.7 436.5,199.2 436.5,195.3 436.6,201.6 436.6,195.9 436.7,191.6 436.7,192.4 436.8,199.6 436.8,193.4 436.9,196.5 436.9,193.9 436.9,196 437,194.3 437,192.9 437.1,195.6 437.1,197.8 437.2,193.9 437.2,192.1 437.3,194.3 437.3,186 437.4,195.5 437.4,196 437.5,193.3 437.5,196.1 437.6,202.6 437.6,192.5 437.7,189.8 437.7,195 437.8,195 437.8,191.3 437.8,196.1 437.9,195.1 437.9,196.5 438,197.4 438,197.8 438.1,197.1 438.1,195.8 438.2,192 438.2,195.9 438.3,199.9 438.3,189.1 438.4,194.2 438.4,195.5 438.5,197.5 438.5,195.3 438.5,197.2 438.6,192.7 438.6,196.6 438.7,190.8 438.7,195.2 438.8,199.5 438.8,201.4 438.9,190.3 438.9,190.5 439,192.6 439,195.2 439.1,198 439.1,199.6 439.2,197.3 439.2,192.4 439.2,188.1 439.3,193.9 439.3,190.7 439.4,195.5 439.4,192.8 439.5,195.9 439.5,198.1 439.6,195.6 439.6,200.1 439.7,195.2 439.7,193.4 439.8,194.9 439.8,195.8 439.9,193.9 439.9,195.6 439.9,192.4 440,193.6 440,196.6 440.1,199.5 440.1,189.5 440.2,200.8 440.2,192.2 440.3,191.5 440.3,196.8 440.4,200 440.4,196.8 440.5,191.2 440.5,193.2 440.5,196.5 440.6,194.8 440.6,193.3 440.7,197.3 440.7,195.1 440.8,195.6 440.8,195 440.9,196.8 440.9,194.7 441,193.6 441,198 441.1,196.2 441.1,195.5 441.1,190.1 441.2,191.6 441.2,193 441.3,198.1 441.3,194.1 441.4,194.6 441.4,191.2 441.5,198.3 441.5,195.5 441.6,193.7 441.6,193.5 441.6,189.5 441.7,198.9 441.7,197.6 441.8,196.5 441.8,199 441.9,195.2 441.9,197.5 442,194.9 442,194.2 442.1,193.8 442.1,199.5 442.2,196.8 442.2,193.7 442.2,194.9 442.3,196.9 442.3,197.4 442.4,190.5 442.4,194 442.5,197.6 442.5,193.5 442.6,194.1 442.6,201.1 442.7,192.2 442.7,197.9 442.7,197.7 442.8,194.2 442.8,191.1 442.9,198 442.9,196.4 443,193.9 443,193 443.1,193.7 443.1,189.5 443.2,201.9 443.2,191.6 443.2,190.5 443.3,196.3 443.3,184.9 443.4,194.2 443.4,194.6 443.5,196.2 443.5,193.7 443.6,195.6 443.6,193.5 443.7,194.8 443.7,196 443.7,195.8 443.8,196 443.8,193.2 443.9,192.3 443.9,196.4 444,196.7 444,194.7 444.1,200.7 444.1,190.4 444.1,192.8 444.2,193.3 444.2,194.8 444.3,193.2 444.3,199.9 444.4,198.9 444.4,194.9 444.5,198.9 444.5,196.9 444.6,192.6 444.6,193.8 444.6,196.9 444.7,198 444.7,199.8 444.8,201.9 444.8,190 444.9,196.2 444.9,192.5 445,193 445,197.7 445,198.1 445.1,193.1 445.1,195.1 445.2,192.4 445.2,200.7 445.3,194.7 445.3,194.9 445.4,200.2 445.4,198 445.4,198.3 445.5,191.2 445.5,200.7 445.6,200.4 445.6,201.5 445.7,194.4 445.7,194.1 445.8,191.9 445.8,195.9 445.9,196.7 445.9,193.2 445.9,197.6 446,197.7 446,196.2 446.1,195.6 446.1,191.5 446.2,195.9 446.2,193.1 446.3,199.8 446.3,199.8 446.3,191.5 446.4,193.5 446.4,194.3 446.5,190.9 446.5,194.5 446.6,193.8 446.6,192.9 446.7,200.5 446.7,193.6 446.7,199.8 446.8,196.1 446.8,193.6 446.9,195.7 446.9,195.9 447,191.7 447,195.9 447.1,192.6 447.1,191.7 447.1,196.5 447.2,196 447.2,198 447.3,196.8 447.3,199.4 447.4,200.9 447.4,202.4 447.4,195.7 447.5,192.7 447.5,195.5 447.6,187.5 447.6,195.3 447.7,195.8 447.7,202.6 447.8,189.5 447.8,193.1 447.8,194.3 447.9,190.5 447.9,197.4 448,191.1 448,197.2 448.1,199.8 448.1,195.2 448.2,194.9 448.2,199.6 448.2,197.1 448.3,193.6 448.3,195 448.4,189 448.4,199.6 448.5,205.3 448.5,196.3 448.5,195.8 448.6,197.7 448.6,198.4 448.7,191.7 448.7,200.7 448.8,197.1 448.8,198.4 448.9,196.5 448.9,191.9 448.9,192.6 449,195 449,199.4 449.1,194.3 449.1,196.7 449.2,199.9 449.2,200.4 449.3,197.7 449.3,192.6 449.3,198.3 449.4,193.3 449.4,196.4 449.5,202.6 449.5,195.4 449.6,189.1 449.6,188.7 449.6,193.6 449.7,199.8 449.7,197.1 449.8,194.4 449.8,196.4 449.9,190 449.9,199.7 449.9,193.4 450,201.3 450,200.6 450.1,192.3 450.1,199 450.2,192.2 450.2,198.9 450.3,191.6 450.3,195.6 450.3,195.7 450.4,192.1 450.4,189.5 450.5,201.6 450.5,191.5 450.6,201.3 450.6,197.6 450.6,195.5 450.7,195.2 450.7,196.4 450.8,193.5 450.8,186.7 450.9,196.5 450.9,194.3 450.9,197.3 451,201.1 451,201.6 451.1,199.4 451.1,196.1 451.2,194.8 451.2,193.1 451.2,189.8 451.3,190.6 451.3,191.4 451.4,199.1 451.4,194.5 451.5,196.2 451.5,205.3 451.5,196.1 451.6,197.2 451.6,195 451.7,193.7 451.7,199 451.8,195.9 451.8,187.6 451.9,197.4 451.9,187.9 451.9,200.5 452,193.1 452,194.3 452.1,194.9 452.1,194.7 452.2,194.7 452.2,195 452.2,192.7 452.3,190.8 452.3,204 452.4,192.8 452.4,193.6 452.5,198.3 452.5,196.8 452.5,188.8 452.6,193.8 452.6,192.1 452.7,193.4 452.7,193.7 452.8,193.8 452.8,206.3 452.8,198.7 452.9,200 452.9,191.8 453,193.1 453,194.7 453.1,193.4 453.1,189.7 453.1,197.1 453.2,194.1 453.2,193.8 453.3,196.2 453.3,200.1 453.3,202.4 453.4,191 453.4,189.3 453.5,192.3 453.5,197.4 453.6,192.4 453.6,199.3 453.6,199 453.7,204.8 453.7,198.5 453.8,198.4 453.8,198.6 453.9,195.4 453.9,194.3 453.9,189.2 454,189.3 454,194 454.1,189.7 454.1,195.8 454.2,196.7 454.2,196.6 454.2,198.7 454.3,198.5 454.3,193.5 454.4,197.1 454.4,193.9 454.5,200.6 454.5,194.1 454.5,197.2 454.6,198.9 454.6,192.9 454.7,190.2 454.7,198.7 454.7,187.7 454.8,193.4 454.8,191.4 454.9,197.4 454.9,197.8 455,192.4 455,198 455,198.5 455.1,200.6 455.1,196.8 455.2,194.9 455.2,192.1 455.3,197.6 455.3,194.5 455.3,196.6 455.4,199.5 455.4,193.6 455.5,192.5 455.5,192.2 455.6,192.4 455.6,198.2 455.6,195.4 455.7,184 455.7,196.1 455.8,198.5 455.8,192.9 455.8,191.2 455.9,193.1 455.9,189.3 456,197.6 456,194.6 456.1,202.5 456.1,198.2 456.1,195.8 456.2,196.8 456.2,194.4 456.3,200.9 456.3,197.9 456.3,194.5 456.4,189.8 456.4,188.1 456.5,196.7 456.5,197.2 456.6,203.5 456.6,194.7 456.6,197.5 456.7,198.9 456.7,196.8 456.8,193.8 456.8,197.2 456.8,198 456.9,191.5 456.9,195 457,194.6 457,194.9 457.1,195.2 457.1,193.1 457.1,197.6 457.2,196.8 457.2,195.3 457.3,193.2 457.3,192.1 457.3,196 457.4,195.5 457.4,193.8 457.5,192.8 457.5,192.9 457.6,195.1 457.6,196.6 457.6,198.5 457.7,192.9 457.7,196.3 457.8,195.5 457.8,197.1 457.8,199.2 457.9,198.4 457.9,197.6 458,196.9 458,198.4 458.1,199.7 458.1,191 458.1,195.4 458.2,196.1 458.2,194.1 458.3,196.8 458.3,192 458.3,197.3 458.4,197.9 458.4,196.4 458.5,197.4 458.5,196.8 458.6,193.7 458.6,192.6 458.6,199.2 458.7,193.3 458.7,193.8 458.8,195.2 458.8,189.2 458.8,199.4 458.9,196.7 458.9,197 459,192.9 459,198.1 459,194 459.1,201.6 459.1,199.6 459.2,197.2 459.2,197.7 459.3,192.4 459.3,195 459.3,194.9 459.4,197.2 459.4,195 459.5,197.2 459.5,192.7 459.5,198 459.6,194.1 459.6,193 459.7,195.3 459.7,193.7 459.7,194.2 459.8,192.6 459.8,195 459.9,193.2 459.9,194.7 460,195.7 460,192.3 460,192.8 460.1,194.9 460.1,194 460.2,190.9 460.2,195.7 460.2,197.6 460.3,192.6 460.3,198.2 460.4,195.5 460.4,199.3 460.4,192.7 460.5,192.3 460.5,195.6 460.6,195.6 460.6,199.3 460.6,194.2 460.7,198.4 460.7,197.8 460.8,193.8 460.8,196.5 460.9,198.8 460.9,192.3 460.9,193.3 461,196.1 461,196.2 461.1,196.7 461.1,192.8 461.1,199.2 461.2,196.6 461.2,199 461.3,197.2 461.3,193.6 461.3,195.1 461.4,195.6 461.4,197.4 461.5,195.3 461.5,193.6 461.5,192 461.6,193 461.6,192.1 461.7,196.6 461.7,194.1 461.7,194.8 461.8,195.7 461.8,192.7 461.9,193.3 461.9,194.1 461.9,197.5 462,200.5 462,200 462.1,195.2 462.1,198.4 462.2,193.3 462.2,190.7 462.2,195.9 462.3,195 462.3,192 462.4,192 462.4,191.7 462.4,198.1 462.5,195.2 462.5,192.4 462.6,192.8 462.6,194.5 462.6,192.3 462.7,196.4 462.7,187.9 462.8,194.4 462.8,192.6 462.8,195.2 462.9,196.9 462.9,193.4 463,193.2 463,196.2 463,198 463.1,197.6 463.1,192.7 463.2,199.6 463.2,197.5 463.2,194.5 463.3,193.1 463.3,191.8 463.4,195.6 463.4,199.8 463.4,192.1 463.5,190.9 463.5,193.5 463.6,191.5 463.6,195.7 463.6,196.7 463.7,194.9 463.7,199 463.8,196.6 463.8,198 463.8,197.2 463.9,197.4 463.9,193.6 464,198.9 464,195.8 464,191.6 464.1,196.8 464.1,192 464.2,188.2 464.2,197.4 464.2,198.1 464.3,198.4 464.3,194.8 464.4,193 464.4,196.7 464.4,199.2 464.5,197.2 464.5,191.4 464.6,196.9 464.6,200.9 464.6,194.4 464.7,196 464.7,196.4 464.8,197.1 464.8,199.9 464.8,191.9 464.9,195.8 464.9,192.9 465,194.9 465,197.9 465,190.8 465.1,191.4 465.1,190.2 465.2,196.3 465.2,197.4 465.2,194.5 465.3,195.2 465.3,199.6 465.4,196.6 465.4,202.2 465.4,194.4 465.5,195.1 465.5,197.1 465.6,193.2 465.6,194.6 465.6,190.8 465.7,198.9 465.7,200.6 465.8,195.6 465.8,193.2 465.8,195.6 465.9,193.9 465.9,192.2 466,195.5 466,195 466,195.2 466.1,197 466.1,191.8 466.2,198.8 466.2,198.9 466.2,196.2 466.3,190.7 466.3,191.6 466.4,188.4 466.4,192 466.4,197.1 466.5,197.2 466.5,192.9 466.6,193.4 466.6,194.2 466.6,191.7 466.7,196.5 466.7,192.6 466.7,194.3 466.8,193 466.8,194.6 466.9,194.8 466.9,192.9 466.9,192.7 467,198.7 467,197.4 467.1,198.4 467.1,198.5 467.1,187.7 467.2,195.1 467.2,196.5 467.3,192.2 467.3,195.9 467.3,196.8 467.4,193.1 467.4,193.3 467.5,189.9 467.5,200.4 467.5,196.4 467.6,193 467.6,197.5 467.7,191.9 467.7,196.4 467.7,193.1 467.8,195.4 467.8,191.2 467.8,197.8 467.9,193 467.9,194 468,197.9 468,196.6 468,199.7 468.1,195.5 468.1,193.4 468.2,195.5 468.2,194.8 468.2,192.9 468.3,194.8 468.3,194.6 468.4,192.7 468.4,193.4 468.4,193.8 468.5,200.8 468.5,195.7 468.6,193.6 468.6,196.1 468.6,194.9 468.7,192.1 468.7,197.5 468.7,192.4 468.8,194.7 468.8,192.9 468.9,196.1 468.9,191.3 468.9,190.1 469,194.9 469,193 469.1,196.2 469.1,198.6 469.1,197.5 469.2,198.5 469.2,197.1 469.3,193.7 469.3,198.7 469.3,195.9 469.4,190.6 469.4,198.9 469.5,193.4 469.5,188.2 469.5,194.6 469.6,195.2 469.6,196.4 469.6,195.9 469.7,199.2 469.7,199.9 469.8,195.5 469.8,203.9 469.8,199.6 469.9,194 469.9,199.9 470,197.2 470,194.5 470,199.1 470.1,194.3 470.1,199.5 470.1,194.3 470.2,194 470.2,195.4 470.3,196.8 470.3,194.5 470.3,191.9 470.4,193.7 470.4,204.6 470.5,197.6 470.5,194.2 470.5,198.5 470.6,205.3 470.6,193.9 470.7,194.7 470.7,194.9 470.7,199.8 470.8,194.8 470.8,193.7 470.8,190.3 470.9,195.9 470.9,190.9 471,203.2 471,193.3 471,189.9 471.1,191.4 471.1,193.4 471.2,200.9 471.2,193.9 471.2,196.5 471.3,193 471.3,201.1 471.3,192.7 471.4,196.1 471.4,191.4 471.5,197.1 471.5,188.9 471.5,196.1 471.6,196.9 471.6,194.3 471.7,196.5 471.7,196.2 471.7,201.7 471.8,194.3 471.8,197.7 471.8,191 471.9,196.5 471.9,203.8 472,195.2 472,196.7 472,195.4 472.1,192.6 472.1,195.1 472.2,188 472.2,202.6 472.2,195.6 472.3,194.6 472.3,193.7 472.3,191.1 472.4,192.5 472.4,194.5 472.5,194 472.5,190.8 472.5,188.9 472.6,190.6 472.6,191.5 472.6,202.2 472.7,192.5 472.7,199.8 472.8,190.9 472.8,188.3 472.8,189.5 472.9,196.5 472.9,190.6 473,190.9 473,196.6 473,194 473.1,190.9 473.1,202.4 473.1,196.5 473.2,190.5 473.2,195.8 473.3,196.4 473.3,200 473.3,195.6 473.4,196 473.4,190.7 473.5,191.7 473.5,195.4 473.5,193.1 473.6,199.4 473.6,194.9 473.6,194.5 473.7,197.9 473.7,190.6 473.8,191.2 473.8,192 473.8,194.2 473.9,194.3 473.9,191.6 473.9,195.3 474,196.6 474,190.7 474.1,202.2 474.1,187.8 474.1,190.1 474.2,191.6 474.2,197.2 474.2,193.6 474.3,193.5 474.3,200.8 474.4,187.5 474.4,193 474.4,185.2 474.5,189.2 474.5,193.8 474.6,186.1 474.6,192.3 474.6,191.9 474.7,198.2 474.7,195.4 474.7,195.5 474.8,194.3 474.8,193.3 474.9,196.9 474.9,192.7 474.9,193.3 475,196.8 475,186.7 475,192.7 475.1,197.3 475.1,189.5 475.2,193 475.2,195.9 475.2,199.2 475.3,191.6 475.3,197.8 475.3,193.8 475.4,197 475.4,193.6 475.5,194.3 475.5,199.2 475.5,200.3 475.6,201.2 475.6,192.8 475.6,189.2 475.7,190.3 475.7,190.7 475.8,190.2 475.8,199.2 475.8,188.3 475.9,192.4 475.9,188.9 475.9,195.1 476,199.6 476,197.2 476.1,193.5 476.1,199.6 476.1,199.4 476.2,197.5 476.2,196.9 476.2,196 476.3,193.3 476.3,196.7 476.4,197.1 476.4,194.2 476.4,193.9 476.5,191.9 476.5,192.3 476.5,196.5 476.6,189.7 476.6,194.6 476.7,193.4 476.7,194 476.7,200.9 476.8,193.7 476.8,202.2 476.8,189.3 476.9,200.7 476.9,188.7 477,192.3 477,198.5 477,197.7 477.1,185.2 477.1,199.7 477.1,199.2 477.2,188.8 477.2,191.3 477.3,190.7 477.3,193.7 477.3,199.2 477.4,187.4 477.4,196.8 477.4,186 477.5,196.5 477.5,190.6 477.6,189.6 477.6,202.1 477.6,196.3 477.7,196.4 477.7,193 477.7,193.2 477.8,196.4 477.8,203.6 477.9,200.5 477.9,191.1 477.9,197.6 478,192.9 478,192.6 478,188.8 478.1,194.6 478.1,193 478.1,198.2 478.2,191.4 478.2,192.8 478.3,193.5 478.3,199 478.3,192.9 478.4,193.9 478.4,196.7 478.4,187.8 478.5,191 478.5,196.8 478.6,201.8 478.6,197.4 478.6,196.5 478.7,198.9 478.7,195.4 478.7,196.3 478.8,194.6 478.8,190.1 478.9,196.1 478.9,197.3 478.9,194.5 479,191.9 479,193.1 479,192.2 479.1,200.5 479.1,194.3 479.1,197.8 479.2,197.1 479.2,199.1 479.3,195.5 479.3,194.6 479.3,192.2 479.4,193.4 479.4,200.7 479.4,189.2 479.5,192.2 479.5,195.7 479.6,195.2 479.6,199.9 479.6,194.2 479.7,196.2 479.7,190.7 479.7,201.3 479.8,196.6 479.8,198 479.8,195.2 479.9,192.6 479.9,192.2 480,196.4 480,199.5 480,196.2 480.1,198.2 480.1,199.8 480.1,200 480.2,199.7 480.2,199.3 480.3,195.1 480.3,199.6 480.3,193.9 480.4,201.1 480.4,194.9 480.4,204.1 480.5,193.1 480.5,198 480.5,202 480.6,196.2 480.6,192 480.7,193.5 480.7,196.9 480.7,196.8 480.8,192.3 480.8,196.2 480.8,194.7 480.9,191.9 480.9,191.4 480.9,193.6 481,199 481,199.6 481.1,200.7 481.1,196.4 481.1,196.9 481.2,192.3 481.2,197 481.2,200 481.3,197.4 481.3,188.1 481.4,197.8 481.4,198.8 481.4,199.4 481.5,198.1 481.5,196.5 481.5,201.3 481.6,193.3 481.6,198.3 481.6,202.7 481.7,193.6 481.7,196.9 481.8,194.6 481.8,195.2 481.8,201.8 481.9,196.4 481.9,189.5 481.9,190.1 482,199.5 482,196.5 482,191.3 482.1,194.4 482.1,195 482.2,190.6 482.2,191 482.2,196.6 482.3,194.8 482.3,194.7 482.3,194.8 482.4,189.7 482.4,191.5 482.4,191.8 482.5,193.9 482.5,195 482.6,192.7 482.6,192.8 482.6,191.1 482.7,195.5 482.7,195.1 482.7,197.5 482.8,195.2 482.8,200.5 482.8,196.7 482.9,197.8 482.9,198.6 483,197.9 483,192.6 483,190.2 483.1,196.5 483.1,190.9 483.1,194.9 483.2,198.4 483.2,195.5 483.2,194.4 483.3,195.7 483.3,199.2 483.3,191.4 483.4,193.4 483.4,200.7 483.5,190.1 483.5,191.7 483.5,198.1 483.6,189.5 483.6,195.6 483.6,196.8 483.7,191.5 483.7,190.3 483.7,199.7 483.8,192.8 483.8,189.3 483.9,195.4 483.9,191.9 483.9,196.9 484,192.9 484,197.9 484,196.7 484.1,195.6 484.1,190.7 484.1,196.7 484.2,202.4 484.2,195.9 484.3,192.2 484.3,196.1 484.3,195.4 484.4,197.9 484.4,191.8 484.4,195.9 484.5,199.8 484.5,190 484.5,200.7 484.6,194.7 484.6,200.5 484.6,198.1 484.7,187.9 484.7,196.4 484.8,199 484.8,197.9 484.8,200.3 484.9,192.8 484.9,192.7 484.9,199 485,196.1 485,193.2 485,203.3 485.1,192.3 485.1,198 485.1,197.5 485.2,194.7 485.2,196 485.3,196.6 485.3,197.8 485.3,192.6 485.4,195 485.4,195.6 485.4,193.2 485.5,197 485.5,194.1 485.5,195.9 485.6,198.2 485.6,192 485.6,197.4 485.7,198.2 485.7,193.1 485.8,199.4 485.8,194.6 485.8,195 485.9,197.1 485.9,194 485.9,191.6 486,196.6 486,198 486,200.6 486.1,195.3 486.1,195.4 486.1,197.6 486.2,195.2 486.2,198.1 486.3,196.7 486.3,189.4 486.3,194.3 486.4,193.4 486.4,189 486.4,194.1 486.5,195.7 486.5,204.8 486.5,204.5 486.6,198 486.6,198.9 486.6,198.5 486.7,194.8 486.7,196.7 486.8,200.1 486.8,194.6 486.8,195 486.9,196.7 486.9,192 486.9,193.2 487,195.3 487,197.3 487,193.1 487.1,195.1 487.1,196.4 487.1,197.5 487.2,190.1 487.2,193.4 487.3,201.4 487.3,193 487.3,190.5 487.4,191.7 487.4,198.3 487.4,191.1 487.5,196.2 487.5,191.9 487.5,194.5 487.6,196.9 487.6,197.5 487.6,197.6 487.7,190.3 487.7,190.6 487.7,200.2 487.8,189.5 487.8,196.2 487.9,191 487.9,200.8 487.9,199.2 488,193.7 488,194.9 488,197.2 488.1,188.6 488.1,195.6 488.1,190.1 488.2,198.8 488.2,200.4 488.2,193.7 488.3,197.7 488.3,197.5 488.3,193.1 488.4,198.9 488.4,190.9 488.5,194.2 488.5,202.1 488.5,197.1 488.6,196.3 488.6,197.3 488.6,191.4 488.7,193.9 488.7,194.7 488.7,198.4 488.8,199 488.8,192.5 488.8,185.5 488.9,195.6 488.9,193.3 488.9,197.5 489,198.6 489,192.2 489.1,197.5 489.1,196.3 489.1,190.3 489.2,189.3 489.2,195.7 489.2,193.8 489.3,191.9 489.3,186.9 489.3,197.3 489.4,188.8 489.4,195.7 489.4,193.8 489.5,189.2 489.5,194.6 489.5,194.4 489.6,191.7 489.6,194 489.6,202.4 489.7,191.8 489.7,192.8 489.8,193.4 489.8,194.3 489.8,186.9 489.9,197.7 489.9,197.7 489.9,197.5 490,194.6 490,195.5 490,196.4 490.1,191.1 490.1,193.6 490.1,193.3 490.2,190.4 490.2,195 490.2,196.2 490.3,197.8 490.3,201.3 490.3,196.8 490.4,191.7 490.4,194.5 490.5,185.7 490.5,197.8 490.5,197.7 490.6,191.4 490.6,201.4 490.6,199.1 490.7,203 490.7,199.1 490.7,196.8 490.8,196.7 490.8,194.6 490.8,187.1 490.9,193.4 490.9,198.6 490.9,194.4 491,202.7 491,192 491,195.5 491.1,194.7 491.1,195.1 491.1,198.4 491.2,194 491.2,201.6 491.3,193.9 491.3,199.2 491.3,189.5 491.4,196.8 491.4,192.6 491.4,194.7 491.5,194.6 491.5,190.3 491.5,189.1 491.6,192.9 491.6,199.4 491.6,195.9 491.7,198.5 491.7,193.5 491.7,192.2 491.8,192.6 491.8,197 491.8,197.2 491.9,196.8 491.9,197.2 491.9,194.8 492,195.7 492,187.1 492,190.2 492.1,194.5 492.1,193.7 492.2,193.9 492.2,197.9 492.2,190.9 492.3,198.3 492.3,195.9 492.3,196.7 492.4,196.7 492.4,194.4 492.4,194 492.5,196.6 492.5,191.4 492.5,195.9 492.6,193.3 492.6,196.3 492.6,204.2 492.7,188.4 492.7,196.1 492.7,200.1 492.8,190.4 492.8,184.8 492.8,190.6 492.9,197.2 492.9,189.6 492.9,184 493,195.1 493,190.3 493.1,196.6 493.1,195.2 493.1,188.6 493.2,194.4 493.2,198.5 493.2,194.4 493.3,194.7 493.3,187 493.3,198.3 493.4,191.4 493.4,195.9 493.4,193.7 493.5,191.6 493.5,194.7 493.5,202.2 493.6,191.4 493.6,195.8 493.6,196 493.7,193.1 493.7,193 493.7,194.5 493.8,195.1 493.8,204.3 493.8,199.3 493.9,199 493.9,195.3 493.9,197.6 494,189.3 494,196.8 494,195.4 494.1,192.6 494.1,195 494.2,195.1 494.2,195.4 494.2,196.1 494.3,188.8 494.3,196.5 494.3,187 494.4,195.2 494.4,192.6 494.4,198.9 494.5,196.7 494.5,189.5 494.5,195.4 494.6,193.3 494.6,198.5 494.6,197.7 494.7,193.2 494.7,191.9 494.7,193.6 494.8,191.7 494.8,197.7 494.8,193.4 494.9,193.6 494.9,193.3 494.9,193.4 495,195 495,197.4 495,197.3 495.1,194.3 495.1,198.2 495.1,196.4 495.2,199.4 495.2,192.6 495.2,196 495.3,200 495.3,196.5 495.3,196.6 495.4,195.8 495.4,195.8 495.4,195 495.5,190.2 495.5,193.5 495.6,198.8 495.6,202.4 495.6,196.1 495.7,198 495.7,195.3 495.7,197.2 495.8,202.1 495.8,190.3 495.8,195.2 495.9,191 495.9,191.4 495.9,194.2 496,196.6 496,196.5 496,194.4 496.1,193.8 496.1,197.4 496.1,197.1 496.2,192 496.2,190.1 496.2,192.6 496.3,200.9 496.3,199.3 496.3,194.3 496.4,200.7 496.4,199.2 496.4,190.1 496.5,196.7 496.5,197.8 496.5,201.7 496.6,186.3 496.6,194.4 496.6,195.5 496.7,201.2 496.7,198.5 496.7,191.7 496.8,194.6 496.8,190.9 496.8,197.5 496.9,195.9 496.9,190.4 496.9,205.4 497,192.6 497,191.4 497,193.5 497.1,196.4 497.1,201.4 497.1,193.5 497.2,189.1 497.2,196.2 497.2,192.3 497.3,199.3 497.3,193.7 497.3,188.7 497.4,196.2 497.4,197.5 497.4,196.3 497.5,190.3 497.5,195.3 497.6,200.4 497.6,195.9 497.6,193.2 497.7,198.1 497.7,195.4 497.7,194.9 497.8,192.5 497.8,198.3 497.8,190.3 497.9,197.2 497.9,189 497.9,191 498,201.8 498,197 498,193.2 498.1,192.7 498.1,193.9 498.1,203.8 498.2,183.9 498.2,196.2 498.2,195.7 498.3,193.7 498.3,193.6 498.3,188.2 498.4,190.6 498.4,201.1 498.4,192.1 498.5,195.7 498.5,197.6 498.5,196 498.6,196.8 498.6,193.5 498.6,197.8 498.7,197.3 498.7,189.6 498.7,194.9 498.8,194.2 498.8,194.5 498.8,195.4 498.9,197.5 498.9,190.8 498.9,196.4 499,191.8 499,194.4 499,205.8 499.1,187.7 499.1,195 499.1,202.1 499.2,184.5 499.2,194.8 499.2,198.9 499.3,198.1 499.3,196.6 499.3,198.3 499.4,197.2 499.4,194.1 499.4,196.7 499.5,203.6 499.5,193.4 499.5,196.1 499.6,195 499.6,194.2 499.6,199.7 499.7,198.4 499.7,198.3 499.7,189.7 499.8,198.3 499.8,196.3 499.8,203.4 499.9,193.6 499.9,195.6 499.9,190.6 500,197.4 500,197.2 500,189.4 500.1,187.5 500.1,195 500.1,198.5 500.2,197.6 500.2,186.7 500.2,200.9 500.3,195.5 500.3,193.2 500.3,195 500.4,197 500.4,196.2 500.4,191.5 500.5,194.1 500.5,195.7 500.5,200.6 500.6,190.3 500.6,197.5 500.6,197.6 500.7,200.3 500.7,195.1 500.7,194.5 500.8,189 500.8,190.8 500.8,194.5 500.9,198.4 500.9,196.4 500.9,202.2 501,195.1 501,203.2 501,195.3 501.1,196.9 501.1,190 501.1,190.4 501.2,197.4 501.2,198.6 501.2,193.6 501.3,194.3 501.3,201.1 501.3,196.4 501.4,186.5 501.4,192.2 501.4,194.4 501.5,199.8 501.5,199.1 501.5,195.3 501.6,190.6 501.6,195 501.6,196.2 501.7,195.8 501.7,192.5 501.7,189.9 501.8,194.3 501.8,194.5 501.8,192.9 501.9,194.6 501.9,199.2 501.9,190.8 502,185.3 502,197 502,195.1 502.1,195.9 502.1,189 502.1,189.6 502.2,196.8 502.2,198.7 502.2,201.1 502.3,197 502.3,195.5 502.3,193.6 502.4,199.7 502.4,197.8 502.4,200.4 502.5,194.8 502.5,192.5 502.5,200.7 502.6,194.6 502.6,199.5 502.6,197.9 502.7,199.2 502.7,193.3 502.7,206.2 502.8,199.4 502.8,197.7 502.8,201.4 502.9,197.2 502.9,192.7 502.9,191 503,197.7 503,197.8 503,188.8 503.1,194.8 503.1,194.5 503.1,195 503.2,207.4 503.2,195 503.2,193.8 503.3,202.5 503.3,195.1 503.3,192 503.4,195.6 503.4,187.4 503.4,194.2 503.5,196.5 503.5,190.1 503.5,195.6 503.6,200.6 503.6,200.1 503.6,196.3 503.7,201.3 503.7,204.1 503.7,189 503.8,198.3 503.8,198.4 503.8,195.6 503.9,191.4 503.9,202.7 503.9,197.8 504,187.7 504,193.5 504,187.2 504.1,193.9 504.1,202.3 504.1,195.7 504.2,196.7 504.2,196 504.2,184.5 504.3,197.1 504.3,200.1 504.3,197.2 504.4,195.9 504.4,184.6 504.4,201.4 504.5,193.2 504.5,197.3 504.5,189.9 504.6,193.4 504.6,198.3 504.6,192 504.7,178.9 504.7,204 504.7,199.9 504.8,198.3 504.8,191.3 504.8,185.5 504.9,197.8 504.9,193.1 504.9,195.6 505,196.6 505,200.8 505,196.2 505.1,194.5 505.1,195 505.1,199.5 505.2,191.7 505.2,197.3 505.2,197.8 505.3,194.5 505.3,191.5 505.3,202.3 505.4,198.3 505.4,193.8 505.4,192.1 505.5,194.6 505.5,194.4 505.5,192.1 505.6,194.1 505.6,189.6 505.6,193 505.7,196.7 505.7,190.6 505.7,202.7 505.8,196.2 505.8,197.3 505.8,195.2 505.9,202.6 505.9,190.7 505.9,191.6 506,186.7 506,202.5 506,193.7 506.1,187.4 506.1,195.2 506.1,198 506.2,185.3 506.2,194.7 506.2,202.4 506.3,191.8 506.3,199.2 506.3,191.4 506.4,193.3 506.4,196.3 506.4,201.1 506.5,200.9 506.5,193.9 506.5,200.3 506.6,196.8 506.6,200.8 506.6,199.3 506.7,197.5 506.7,196 506.7,197.7 506.8,195.9 506.8,187.7 506.8,193.4 506.9,195.3 506.9,191.4 506.9,198.5 507,203.2 507,197.5 507,194.7 507.1,197.8 507.1,191.4 507.1,199 507.2,201.6 507.2,196.6 507.2,196.1 507.3,195.4 507.3,186.1 507.3,187.4 507.4,205.2 507.4,196.1 507.4,202.5 507.5,197.2 507.5,194 507.5,196.2 507.6,194.6 507.6,193 507.6,193 507.7,185.9 507.7,188.6 507.7,200.3 507.8,192.8 507.8,193.5 507.8,198.7 507.9,194.2 507.9,199.1 507.9,189.3 508,196.9 508,189.8 508,195.9 508.1,195.4 508.1,196.5 508.1,193.9 508.2,195.4 508.2,189.4 508.2,186.3 508.3,192.2 508.3,191.4 508.3,196.2 508.4,192.1 508.4,186.9 508.4,194.2 508.5,197.2 508.5,197 508.5,193.4 508.6,187.6 508.6,196.3 508.6,189 508.7,194.7 508.7,197.9 508.7,192.4 508.8,189.2 508.8,195.9 508.8,194.7 508.9,195.3 508.9,185.8 508.9,192.5 509,196.1 509,197.5 509,194.4 509.1,199.9 509.1,192.6 509.1,196.3 509.2,189.7 509.2,196.3 509.2,195.1 509.3,189.9 509.3,196.3 509.3,197.6 509.4,199.1 509.4,196.9 509.4,198.8 509.5,191.7 509.5,194.4 509.5,200.6 509.6,189.6 509.6,194.2 509.6,197.1 509.7,198.2 509.7,188.8 509.7,205 509.8,201.8 509.8,196.7 509.8,197.3 509.9,195.4 509.9,200.1 509.9,196 510,196.6 510,193.3 510,190.9 510.1,193.4 510.1,195.8 510.1,197.8 510.2,195.9 510.2,190.2 510.2,198.9 510.3,191.5 510.3,190.1 510.3,198.8 510.4,193.3 510.4,203.7 510.4,194.5 510.5,191.9 510.5,195.3 510.5,193.8 510.6,192.7 510.6,193.7 510.6,198.2 510.7,193 510.7,194.7 510.7,202 510.8,198.9 510.8,198.4 510.8,193.2 510.9,203.6 510.9,190.7 510.9,187.9 511,196.4 511,194.3 511,197.2 511.1,189.7 511.1,199.4 511.1,183.6 511.2,194.8 511.2,189.5 511.2,192.6 511.3,195.2 511.3,198.7 511.3,190.4 511.4,190.1 511.4,191.9 511.4,196.5 511.5,189.7 511.5,202.1 511.5,196.7 511.6,194.9 511.6,204.3 511.6,199.9 511.7,193.8 511.7,198.3 511.7,195.4 511.8,195.3 511.8,205 511.8,194.5 511.9,192 511.9,199.9 511.9,189.4 512,197.7 512,197.8 512,197.2 512.1,197.4 512.1,189.9 512.1,196.5 512.2,195.3 512.2,188.5 512.2,200.6 512.3,195 512.3,194.7 512.3,204.8 512.4,193.1 512.4,200.4 512.4,200.1 512.5,205.9 512.5,196.4 512.5,193.8 512.6,196.3 512.6,187.8 512.6,192.3 512.7,192.9 512.7,188.5 512.7,191.1 512.8,196 512.8,197 512.8,197.8 512.9,197.8 512.9,206.6 512.9,193.7 513,195.3 513,199.7 513,194.4 513.1,193.3 513.1,196.9 513.1,196.3 513.2,196.1 513.2,194.6 513.2,193.5 513.3,192.8 513.3,183.3 513.3,198 513.4,196.9 513.4,195.8 513.4,192.5 513.5,190.5 513.5,197.1 513.5,202.6 513.6,194.4 513.6,194.4 513.6,190.4 513.7,194.8 513.7,192.4 513.7,194.7 513.8,199.8 513.8,195.5 513.8,196.4 513.9,199.5 513.9,191.1 513.9,196.4 514,188.9 514,194.7 514,195.1 514.1,198.5 514.1,191.8 514.1,206.2 514.2,192.8 514.2,187.5 514.2,198.7 514.3,194.4 514.3,194.5 514.3,197.1 514.4,192.9 514.4,198.6 514.4,200.6 514.5,192.2 514.5,197.7 514.5,195.4 514.6,193.4 514.6,195.6 514.6,195.4 514.7,200.8 514.7,199.6 514.7,190.2 514.8,194.7 514.8,193.4 514.8,194.2 514.9,195 514.9,197.3 514.9,195.1 515,203.1 515,194.3 515,195.4 515.1,196.3 515.1,196.4 515.1,197.3 515.2,197.4 515.2,194.9 515.2,195.9 515.3,193.8 515.3,196.3 515.3,191.2 515.4,189.4 515.4,195.1 515.4,196.9 515.5,201.9 515.5,195.2 515.5,194.4 515.6,195.8 515.6,189.8 515.6,200.1 515.7,196.6 515.7,190.1 515.7,189.1 515.8,199.8 515.8,193.1 515.8,194.4 515.9,195.4 515.9,193.6 515.9,198.3 516,195.2 516,188.2 516,198.2 516.1,198.2 516.1,193.8 516.1,196.7 516.2,193.5 516.2,192.8 516.2,189.4 516.3,199.3 516.3,190.2 516.3,192.9 516.4,191.3 516.4,193.1 516.4,197.4 516.5,190.1 516.5,195.9 516.5,190.5 516.6,195.4 516.6,194.8 516.6,201.2 516.7,198.6 516.7,200.6 516.7,200 516.8,195.8 516.8,197.1 516.8,193.2 516.9,187.8 516.9,191 516.9,192.4 517,189.8 517,199.8 517,194.5 517.1,195.2 517.1,194.1 517.1,196.1 517.2,196.4 517.2,195.3 517.2,206 517.3,192.7 517.3,189.7 517.3,202.3 517.4,195.2 517.4,198.8 517.4,194 517.5,194.8 517.5,192.2 517.5,197.6 517.6,195.1 517.6,192.1 517.6,194.9 517.7,194.9 517.7,192.1 517.7,201.1 517.8,205.5 517.8,192.9 517.8,189.3 517.9,198.1 517.9,195.6 517.9,197.8 518,194.5 518,193.5 518,195.2 518.1,201.3 518.1,192.2 518.1,196.6 518.2,197.6 518.2,196.5 518.2,191.1 518.3,200.3 518.3,199.3 518.3,192.3 518.4,192.8 518.4,194.2 518.4,192.8 518.5,193.1 518.5,198.3 518.5,195.2 518.6,191.3 518.6,194.7 518.6,190 518.7,195.8 518.7,194 518.7,191.6 518.8,197.2 518.8,196.1 518.8,197.6 518.9,198.8 518.9,196.2 518.9,199.7 519,194.1 519,191.3 519,192.2 519.1,198.4 519.1,198.6 519.1,190.6 519.2,189.2 519.2,195.4 519.2,199 519.3,195.6 519.3,198.3 519.3,194 519.4,195.4 519.4,191.5 519.4,197.3 519.5,195.9 519.5,196.9 519.5,197.2 519.6,195.9 519.6,195.1 519.6,196.2 519.7,194.1 519.7,201 519.7,194.1 519.8,197 519.8,197 519.8,197.1 519.9,197.9 519.9,187.4 519.9,196.7 520,195.3 520,197.4 520,189.9 520.1,194.7 520.1,191.6 520.1,186.3 520.2,195.3 520.2,192 520.2,199.3 520.3,194.3 520.3,196.3 520.3,192.6 520.4,201.9 520.4,198.1 520.4,199.4 520.5,194 520.5,195.6 520.5,196.6 520.6,198.2 520.6,198.2 520.6,198.5 520.7,192.2 520.7,192.1 520.7,196.7 520.8,196.5 520.8,188.8 520.8,195.4 520.9,195.7 520.9,190.4 520.9,204.4 521,195.7 521,189.2 521,193 521.1,196.4 521.1,192.7 521.1,196 521.2,194.3 521.2,192.3 521.2,195.9 521.3,195.8 521.3,195.1 521.3,195.4 521.4,199.6 521.4,197.3 521.4,197.8 521.5,191.4 521.5,196.7 521.5,194.5 521.6,200.4 521.6,192.6 521.6,192.3 521.7,197.9 521.7,200.9 521.7,194.3 521.8,195.1 521.8,192.1 521.8,192.6 521.9,198.3 521.9,195 521.9,198 522,200.5 522,202.9 522,194.7 522.1,195.7 522.1,203.2 522.1,200.3 522.2,197.8 522.2,195.8 522.2,197.1 522.3,198.8 522.3,193.8 522.3,191.6 522.4,199.6 522.4,197.8 522.4,198.2 522.5,194.1 522.5,195.1 522.5,195.1 522.6,191.5 522.6,196.5 522.6,193.6 522.7,189.3 522.7,194.8 522.7,198.1 522.8,204.6 522.8,192.2 522.8,197.1 522.9,198.6 522.9,196.3 522.9,194.2 523,197.8 523,198.1 523,204.7 523.1,193.4 523.1,198.6 523.1,198.9 523.2,196.7 523.2,197 523.2,195.4 523.3,194 523.3,194.6 523.3,203.8 523.4,192.9 523.4,193 523.4,198.7 523.5,194.7 523.5,191.9 523.5,197 523.6,199.3 523.6,194.9 523.6,189.6 523.7,198.4 523.7,193.5 523.7,188.9 523.8,191.8 523.8,196.3 523.8,206.2 523.9,195.4 523.9,198.8 523.9,195.7 524,193.4 524,200.4 524,190.7 524.1,196 524.1,191.2 524.1,196 524.2,192.1 524.2,200.9 524.2,189.6 524.3,200.9 524.3,192.8 524.3,197.7 524.4,199.9 524.4,196.3 524.4,200.5 524.5,192.3 524.5,195.4 524.5,191.4 524.6,199.7 524.6,191.1 524.6,191.7 524.7,195 524.7,200.7 524.7,194.7 524.8,198.2 524.8,201.3 524.8,189.5 524.9,192.9 524.9,190.7 524.9,200.3 525,198.5 525,195.4 525,190.9 525.1,189.5 525.1,199.2 525.1,195 525.2,192.7 525.2,198.5 525.2,188.9 525.3,200.8 525.3,190.1 525.3,193.3 525.4,198.1 525.4,192.6 525.4,195.3 525.5,203.1 525.5,193.7 525.5,192.7 525.6,197.3 525.6,199.9 525.6,195.1 525.7,191.6 525.7,194.6 525.7,196.1 525.8,190 525.8,192.4 525.8,206 525.9,195.9 525.9,202.6 525.9,190.6 526,199.4 526,192.4 526,197.3 526.1,192.4 526.1,198.8 526.1,197.4 526.2,194.4 526.2,199.2 526.2,194.2 526.3,198.2 526.3,196.2 526.3,196.3 526.4,187.7 526.4,192.5 526.4,199.8 526.5,197.4 526.5,191.7 526.5,191.1 526.6,191.1 526.6,195.4 526.6,190.1 526.7,198.9 526.7,191.4 526.7,197.1 526.8,196 526.8,192.7 526.8,188.9 526.9,191.9 526.9,197.7 526.9,201.1 527,195.8 527,199 527,200.7 527.1,189.9 527.1,196.8 527.1,199.9 527.2,198.4 527.2,197.1 527.2,201.6 527.3,197.5 527.3,194.1 527.3,188.3 527.4,194.2 527.4,194.6 527.4,191.2 527.5,195.6 527.5,196.8 527.5,196.7 527.6,196.5 527.6,191 527.6,193 527.7,200.3 527.7,198.2 527.7,189.1 527.8,189.8 527.8,195.2 527.8,192.9 527.9,190.9 527.9,194.9 527.9,188.1 528,199.1 528,196.7 528,195.6 528.1,196.4 528.1,190.6 528.1,194.1 528.2,190.8 528.2,194.5 528.2,197.9 528.3,199.7 528.3,198.2 528.3,199.1 528.4,189.3 528.4,189.2 528.4,193.5 528.5,185.7 528.5,190.4 528.5,197.5 528.6,195.3 528.6,196.5 528.6,198.9 528.7,193.7 528.7,193.6 528.7,190.8 528.8,192.5 528.8,206.1 528.8,195.2 528.9,196.8 528.9,193.4 528.9,189.4 529,201.2 529,194.8 529,190.4 529.1,200.3 529.1,202.3 529.1,196.4 529.2,196.8 529.2,196.3 529.2,198.1 529.3,191.5 529.3,192.7 529.3,196.6 529.4,201.6 529.4,187.9 529.4,200.2 529.5,189.3 529.5,189.3 529.5,189.3 529.6,194.3 529.6,193.6 529.6,191.6 529.7,205.6 529.7,184.4 529.7,195.1 529.8,194.4 529.8,189.4 529.8,195.3 529.9,187.5 529.9,200.3 529.9,199.8 530,199.3 530,187.4 530,182.2 530.1,192.3 530.1,204.1 530.1,189 530.2,197.9 530.2,202.7 530.2,209.2 530.3,186.4 530.3,197 530.3,190.4 530.4,194.7 530.4,193.5 530.4,193.5 530.5,197.5 530.5,193.3 530.5,195.7 530.6,197.4 530.6,194.5 530.6,197.4 530.7,201.5 530.7,197.5 530.7,200.2 530.8,195.5 530.8,199.5 530.8,187.9 530.9,194.3 530.9,191.7 530.9,196.4 531,205.6 531,199.6 531,199 531.1,197.2 531.1,186.4 531.1,195 531.2,197.8 531.2,196 531.2,196.6 531.3,196.6 531.3,189.5 531.3,193.3 531.4,190.2 531.4,200.9 531.4,197.5 531.5,200 531.5,191.6 531.5,200.6 531.6,197.9 531.6,190.6 531.6,199.8 531.7,193 531.7,199.9 531.7,201.8 531.8,195.1 531.8,184.1 531.8,196.6 531.9,192 531.9,201.3 531.9,193.7 532,196.3 532,191 532,197 532.1,190.8 532.1,192.8 532.1,195 532.2,201.1 532.2,197.1 532.2,197.1 532.3,189.8 532.3,194.8 532.3,196.2 532.4,191.7 532.4,192.8 532.4,201.1 532.5,184.8 532.5,203.2 532.5,194.8 532.6,186.5 532.6,197.2 532.6,191.4 532.7,192.8 532.7,194.3 532.7,190.5 532.8,196.1 532.8,195.8 532.8,197.2 532.9,191 532.9,187.7 532.9,191.7 533,195.4 533,191.8 533,194.4 533.1,191.7 533.1,195.8 533.1,200.3 533.2,199.4 533.2,196.9 533.2,190.9 533.3,199.2 533.3,196.6 533.3,194.2 533.4,188 533.4,193.4 533.4,194.7 533.5,196.9 533.5,189.1 533.5,190.9 533.6,193.2 533.6,189.8 533.6,191.5 533.7,201.3 533.7,195.9 533.7,193.2 533.8,194 533.8,191.7 533.8,194.2 533.9,188.2 533.9,203.1 533.9,198.7 534,190.4 534,194.9 534,186.1 534.1,197.8 534.1,195.7 534.1,195.3 534.2,204.2 534.2,198.5 534.2,194.8 534.3,199.9 534.3,198.6 534.3,201.4 534.4,192.5 534.4,195 534.4,185.4 534.5,196 534.5,192.8 534.5,192.9 534.6,201.5 534.6,190.2 534.6,188.2 534.7,202 534.7,201.9 534.7,197.1 534.8,187.5 534.8,199.9 534.8,192.1 534.9,200.2 534.9,201.7 534.9,192.1 535,191.1 535,196.3 535,194.2 535.1,192.8 535.1,199.2 535.1,193.1 535.2,192.2 535.2,200.3 535.2,198.1 535.3,190 535.3,198.6 535.3,189.6 535.4,195.8 535.4,189.7 535.4,196.4 535.5,188.5 535.5,186.8 535.5,203 535.6,190.4 535.6,198.3 535.6,191.1 535.7,192.5 535.7,199.2 535.7,197.4 535.8,199.2 535.8,192.5 535.8,191.8 535.9,189.4 535.9,193.8 535.9,194.5 536,196.5 536,201.9 536,198.6 536.1,197.5 536.1,195.6 536.1,196.5 536.2,195.1 536.2,186.9 536.2,205.8 536.3,190.7 536.3,197.9 536.3,190.3 536.4,192.5 536.4,195.9 536.4,195 536.5,194.8 536.5,199.1 536.5,199.4 536.6,195 536.6,196.1 536.6,190.9 536.7,192 536.7,203 536.7,194.1 536.8,194.6 536.8,191 536.8,186 536.9,201.5 536.9,194.8 536.9,192.8 537,197.4 537,193.7 537,195.7 537.1,200.4 537.1,194.8 537.1,188.4 537.2,197.6 537.2,194.4 537.2,198.2 537.3,189.3 537.3,195 537.3,197 537.4,191.7 537.4,191.3 537.4,193.6 537.5,197.2 537.5,206.1 537.5,187.2 537.6,190 537.6,195.6 537.6,195.4 537.7,207.6 537.7,197 537.7,192.4 537.8,191 537.8,198.2 537.8,205.2 537.9,191.6 537.9,204.9 537.9,198.2 538,193.9 538,192.1 538,187.2 538.1,200.2 538.1,200.7 538.1,191.4 538.2,196.5 538.2,203.8 538.2,198.2 538.3,192.7 538.3,193.4 538.3,200.8 538.4,192.1 538.4,191.9 538.4,194.5 538.5,189.4 538.5,198 538.5,198.9 538.6,194.5 538.6,189.8 538.6,188.4 538.7,200.6 538.7,204.3 538.7,193.5 538.8,188.2 538.8,198.6 538.8,203.1 538.9,195 538.9,189.3 538.9,195.6 539,201.4 539,194.9 539,185.7 539.1,191.1 539.1,195.2 539.1,202.7 539.2,195.6 539.2,194.2 539.2,195.5 539.3,199.4 539.3,196.2 539.3,197 539.4,189 539.4,199.9 539.4,193.2 539.5,194 539.5,196 539.5,202.2 539.6,185.4 539.6,192.3 539.6,194.7 539.7,189.1 539.7,195.8 539.7,188.4 539.8,199.6 539.8,192.7 539.8,193.7 539.9,197.9 539.9,197.5 539.9,198.1 540,200.3 540,192.3 540,195.6 540.1,196.2 540.1,192.4 540.1,205.8 540.2,198.4 540.2,199.1 540.2,199.6 540.3,186.1 540.3,201.6 540.3,200.3 540.4,196.6 540.4,201.6 540.4,195.9 540.5,192.5 540.5,190.7 540.5,197.4 540.6,193.9 540.6,191.2 540.6,195.1 540.7,198.1 540.7,200.8 540.7,203.1 540.8,198.7 540.8,200.3 540.8,204.1 540.9,192.1 540.9,198.4 540.9,197.4 541,202.5 541,190.3 541,187.6 541.1,199.5 541.1,201.1 541.1,196.1 541.2,195 541.2,201.9 541.2,198.8 541.3,191.9 541.3,194.8 541.3,197.5 541.4,194.9 541.4,198.9 541.4,191.7 541.5,200.3 541.5,191.9 541.5,193.5 541.6,197.6 541.6,196 541.6,189.4 541.7,193.6 541.7,189.2 541.7,190.4 541.8,201 541.8,192.7 541.8,192.9 541.9,196.5 541.9,198.1 541.9,186 542,194.8 542,196.1 542,195.9 542.1,199.9 542.1,199 542.1,190.6 542.2,195.9 542.2,192.1 542.2,200.4 542.3,200.4 542.3,195.8 542.3,196.8 542.4,191.7 542.4,198.2 542.4,193.3 542.5,189.8 542.5,195.3 542.5,199.3 542.6,193.9 542.6,191.2 542.6,192.3 542.7,200.4 542.7,206.6 542.7,192.1 542.8,197.4 542.8,191.9 542.8,197.2 542.9,194.5 542.9,199.1 542.9,193.2 543,194.2 543,203.3 543,189.2 543.1,200.4 543.1,190.8 543.1,197.5 543.2,198 543.2,192.8 543.2,191.8 543.3,193.1 543.3,207 543.3,192.3 543.4,191.2 543.4,197 543.4,193.7 543.5,191.9 543.5,195.2 543.5,198.4 543.6,197.5 543.6,204.8 543.6,187.4 543.7,195.8 543.7,204 543.7,196.7 543.8,203.9 543.8,193.9 543.8,191.4 543.9,199.7 543.9,197.1 543.9,198.3 544,199.6 544,195.1 544,200.1 544.1,198.6 544.1,192.4 544.1,201.1 544.2,191.5 544.2,193.7 544.2,192.4 544.3,189 544.3,193.4 544.3,199.1 544.4,194.6 544.4,199.3 544.4,201.1 544.5,194.5 544.5,187.2 544.5,192.9 544.6,193.6 544.6,197.8 544.6,195 544.7,196.7 544.7,195.6 544.7,190.2 544.8,197.4 544.8,188.6 544.8,194.7 544.9,203.2 544.9,208.9 544.9,198.3 545,196.8 545,194.8 545,191.9 545.1,187.9 545.1,198.2 545.1,193.2 545.2,197.1 545.2,194.1 545.2,191.3 545.3,192.1 545.3,194.2 545.3,194.3 545.4,199.3 545.4,195.5 545.4,194.8 545.5,188.3 545.5,191.7 545.5,191.7 545.6,189.4 545.6,191.8 545.6,192.1 545.7,189.9 545.7,182.6 545.7,195.9 545.8,194.4 545.8,198.2 545.8,192.1 545.9,196.9 545.9,201 545.9,199.6 546,195.4 546,196.7 546,190 546.1,198.7 546.1,202.6 546.1,197.3 546.2,195.3 546.2,197.9 546.2,193.8 546.3,196.7 546.3,196 546.3,190.6 546.4,198.6 546.4,195.9 546.4,198.8 546.5,197.4 546.5,206 546.5,197.1 546.6,201.5 546.6,196.6 546.6,201.5 546.7,187.9 546.7,192.2 546.7,201.2 546.8,189.1 546.8,190.1 546.8,199.6 546.9,200.7 546.9,199 546.9,184.4 547,193.5 547,199.4 547,205.8 547.1,195 547.1,199.7 547.1,192.6 547.2,194.5 547.2,199.8 547.2,195.3 547.3,198.5 547.3,204.3 547.3,195.3 547.4,193.4 547.4,190.7 547.4,195.6 547.5,199.8 547.5,195.6 547.5,198.9 547.6,203 547.6,192 547.6,199.8 547.7,187.9 547.7,194.8 547.7,195 547.8,192.8 547.8,190.9 547.8,194.3 547.9,197.1 547.9,187.9 547.9,198.7 548,199.9 548,211.2 548,196.8 548.1,205.8 548.1,194.7 548.1,191.1 548.2,192.9 548.2,192.3 548.2,197.5 548.3,189.2 548.3,202.8 548.3,194.7 548.4,191.8 548.4,193.8 548.4,200.6 548.5,184.1 548.5,189.5 548.5,200 548.6,195.3 548.6,190.7 548.6,194.1 548.7,188.7 548.7,194.1 548.7,203.2 548.8,192.4 548.8,193.3 548.8,201.1 548.9,194.2 548.9,192.3 548.9,192.3 549,199.2 549,204.7 549,196.6 549.1,200.7 549.1,191.5 549.1,192.7 549.2,197.2 549.2,202.5 549.2,191.4 549.3,198.9 549.3,184.9 549.3,202.8 549.4,192.7 549.4,197.5 549.4,194 549.5,193.7 549.5,191.9 549.5,192.8 549.6,191.5 549.6,191.8 549.6,196.3 549.7,193 549.7,191.4 549.7,199.9 549.8,190.3 549.8,201.1 549.8,193.2 549.9,194.5 549.9,198.3 549.9,200.5 550,188.3 550,195.5 550,195.6 550.1,196 550.1,191.8 550.1,198.7 550.2,197.9 550.2,186.1 550.2,192.9 550.3,196.1 550.3,206 550.3,194.8 550.4,202.2 550.4,201 550.4,198.8 550.5,186.3 550.5,190.2 550.5,194.9 550.6,196.6 550.6,202.9 550.6,194.1 550.7,198.6 550.7,199.1 550.7,204.5 550.8,198.1 550.8,188.7 550.8,203.8 550.9,191.6 550.9,194.7 550.9,194.5 551,184.1 551,192.2 551,199.8 551.1,194.9 551.1,194.6 551.1,193.4 551.2,187.9 551.2,189 551.2,194.5 551.3,195.2 551.3,194.8 551.3,199.4 551.4,197.2 551.4,191 551.4,201.2 551.5,197.3 551.5,192.9 551.5,192.1 551.6,189.2 551.6,192.1 551.6,192.3 551.7,201 551.7,206.4 551.7,195.4 551.8,197.4 551.8,200.3 551.8,197.1 551.9,186.2 551.9,191.1 551.9,194 552,197 552,195.1 552,192.3 552.1,193.2 552.1,193.5 552.1,188.8 552.2,199.7 552.2,197.8 552.2,199.5 552.3,194 552.3,193.8 552.3,194.1 552.4,197.4 552.4,187.7 552.4,190.5 552.5,199.6 552.5,191.9 552.5,193.9 552.6,189.7 552.6,190 552.6,196.6 552.7,194.2 552.7,191.4 552.7,192.6 552.8,194.1 552.8,206.2 552.8,189.9 552.9,201.1 552.9,196.7 552.9,207.2 553,198.3 553,195.9 553,193.1 553.1,203.9 553.1,193.5 553.1,190.7 553.2,194.7 553.2,191.8 553.2,192.8 553.3,198.2 553.3,198.5 553.3,197.5 553.4,196.1 553.4,195.4 553.4,196.1 553.5,198 553.5,200 553.5,194.4 553.6,204.8 553.6,200.2 553.6,202.5 553.7,203.2 553.7,197.7 553.7,200.6 553.8,201.5 553.8,194.7 553.8,194.9 553.9,188.8 553.9,186.6 553.9,197.5 554,199.5 554,189.6 554,194.8 554.1,190.3 554.1,200.2 554.1,188 554.2,198.2 554.2,199.8 554.2,193.3 554.3,197.8 554.3,204.5 554.3,199.5 554.4,200.3 554.4,199 554.4,199 554.5,198.3 554.5,208.2 554.5,195.3 554.6,197.8 554.6,197.3 554.6,195 554.7,197.9 554.7,191.3 554.7,187.4 554.8,190.8 554.8,203.4 554.8,194.4 554.9,192.8 554.9,190.9 554.9,188.7 555,209.6 555,198.8 555,187.6 555.1,186.2 555.1,196.4 555.1,192.8 555.2,186.7 555.2,190.6 555.2,198.9 555.3,201.9 555.3,194.6 555.3,200.4 555.4,194.1 555.4,194.2 555.4,201.2 555.5,191.6 555.5,195.2 555.5,185.8 555.6,198.3 555.6,191.4 555.6,200 555.7,188.4 555.7,197.6 555.7,203.4 555.8,192.6 555.8,197.2 555.8,196.2 555.9,194.7 555.9,198.9 555.9,196.3 556,186.5 556,200.3 556,194.5 556.1,189 556.1,184.6 556.1,187.4 556.2,195.6 556.2,190 556.2,190.3 556.3,199.6 556.3,199.7 556.3,189.4 556.4,190 556.4,186.4 556.4,199.2 556.5,189.4 556.5,181.7 556.5,193.8 556.6,197.1 556.6,199 556.6,197 556.7,199.8 556.7,191.9 556.7,193.4 556.8,197.8 556.8,191.9 556.8,207.2 556.9,197.6 556.9,195.4 556.9,193.6 557,198.7 557,205.6 557,202 557.1,191.1 557.1,190.1 557.1,202.9 557.2,197.9 557.2,187.5 557.2,201.5 557.3,202.8 557.3,196.3 557.3,197.4 557.4,193.7 557.4,199.2 557.4,192.5 557.5,207 557.5,195.7 557.5,191.9 557.6,209.5 557.6,198.3 557.6,200.7 557.7,191.1 557.7,192.7 557.7,204.2 557.8,198.7 557.8,194 557.8,207.1 557.9,188.4 557.9,196.7 557.9,191 558,192.7 558,192.6 558,188.2 558.1,199.3 558.1,197.1 558.1,198.6 558.2,193.5 558.2,186.3 558.2,200.2 558.3,195.6 558.3,196.4 558.3,192 558.4,196.8 558.4,202.9 558.4,203.3 558.5,200 558.5,190.9 558.5,187.8 558.6,192.4 558.6,194.8 558.6,190.1 558.7,198.7 558.7,194.1 558.7,206.2 558.8,192.6 558.8,193 558.8,196.6 558.9,195.5 558.9,196.7 558.9,197.5 559,190.9 559,202 559,196.9 559.1,197.5 559.1,199 559.1,196.3 559.2,189.4 559.2,195.8 559.2,187.2 559.3,200 559.3,197.9 559.3,189.2 559.4,198.9 559.4,180 559.4,186.1 559.5,198.5 559.5,184.7 559.5,194.4 559.6,197.1 559.6,200.1 559.6,197.1 559.7,190 559.7,199.6 559.7,192 559.8,207.5 559.8,182.3 559.8,197.9 559.9,190.6 559.9,194.1 559.9,199.2 560,192.3 560,192.3 560,196.7 560.1,187.5 560.1,185.7 560.1,195.3 560.2,193.3 560.2,198.5 560.2,195.6 560.3,200.6 560.3,199.1 560.3,193.7 560.4,194.3 560.4,197.5 560.4,193.7 560.5,195.5 560.5,195.9 560.5,192 560.6,191.3 560.6,194.5 560.6,195.8 560.7,198.1 560.7,190.8 560.7,197 560.8,194.4 560.8,188.2 560.8,192 560.9,195.1 560.9,191.6 560.9,196.5 561,187.7 561,200.6 561,194.9 561.1,199.1 561.1,192.2 561.1,191.3 561.2,198.8 561.2,191.1 561.2,194.9 561.3,206.3 561.3,187.5 561.3,194.3 561.4,200.1 561.4,194.5 561.4,200.8 561.5,186.2 561.5,198.7 561.5,194.3 561.6,193.7 561.6,200.4 561.6,200 561.7,196.5 561.7,210.3 561.7,196.7 561.8,194.4 561.8,195.5 561.8,194.1 561.9,197.8 561.9,192.8 561.9,196 562,192.7 562,209.8 562,191.4 562.1,197.8 562.1,200.6 562.1,197.9 562.2,189.1 562.2,193.3 562.2,181.8 562.3,191.6 562.3,193.6 562.3,189.1 562.4,193.2 562.4,191.8 562.4,198.9 562.5,193.8 562.5,196.3 562.5,198.5 562.6,196.5 562.6,199 562.6,196.2 562.7,200.6 562.7,195.7 562.7,199.4 562.8,197.5 562.8,196.4 562.8,209.5 562.9,196.8 562.9,191.5 562.9,192.8 563,196.6 563,199.8 563,197.3 563.1,201.1 563.1,194.9 563.1,186.8 563.2,202.8 563.2,197.5 563.2,198.1 563.3,197 563.3,200.9 563.3,187.6 563.4,198.2 563.4,193 563.4,190.3 563.5,196.5 563.5,202.4 563.5,192 563.6,210.4 563.6,196.9 563.6,196.5 563.7,208.5 563.7,193.2 563.7,210.2 563.8,186.3 563.8,196.5 563.8,193.1 563.9,198.2 563.9,187.9 563.9,188.9 564,201 564,192.3 564,188.4 564.1,198.1 564.1,186.6 564.1,194.3 564.2,190.5 564.2,200.9 564.2,195.8 564.3,200.9 564.3,195.3 564.3,194.9 564.4,188.4 564.4,190.9 564.4,187.6 564.5,192 564.5,196.4 564.5,204.3 564.6,192.1 564.6,194.4 564.6,202.5 564.7,187.2 564.7,198 564.7,197.3 564.8,201 564.8,192.2 564.8,197.9 564.9,198.5 564.9,197.3 564.9,198.9 565,192 565,192.9 565,202.4 565.1,196.1 565.1,196.6 565.1,195.8 565.2,189.3 565.2,198.7 565.2,191.1 565.3,185.8 565.3,191.6 565.3,186.5 565.4,197.8 565.4,183.7 565.4,196 565.5,197.7 565.5,194.3 565.5,199.4 565.6,195.6 565.6,191 565.6,193.1 565.7,195.5 565.7,186.7 565.7,198.5 565.8,194.7 565.8,196.7 565.8,206.2 565.9,192.8 565.9,196.4 565.9,196.9 566,196.1 566,205.5 566,196.3 566.1,197.2 566.1,198.2 566.1,196.7 566.2,193 566.2,194 566.2,195.7 566.3,195.1 566.3,191.8 566.3,194.5 566.4,192.3 566.4,189.9 566.4,197.4 566.5,195.1 566.5,197.5 566.5,201.9 566.6,197.2 566.6,200.6 566.6,196.5 566.7,195.4 566.7,198.5 566.7,200.8 566.8,188.7 566.8,192.9 566.8,194 566.9,197.9 566.9,197.4 566.9,193.7 567,197 567,197.2 567,189.5 567.1,186.4 567.1,191.6 567.1,197.8 567.2,195.8 567.2,202.8 567.2,192.9 567.3,197 567.3,191.5 567.3,193 567.4,194.1 567.4,200 567.4,198.4 567.5,193.1 567.5,197.8 567.5,194.7 567.6,188.8 567.6,196.7 567.6,191.6 567.7,194.6 567.7,200.3 567.7,199.2 567.8,195.2 567.8,194.7 567.8,200.9 567.9,191.1 567.9,196.8 567.9,203.7 568,196.7 568,194.8 568,187.6 568.1,193.3 568.1,196.7 568.1,195.6 568.2,193.4 568.2,196.5 568.2,197.7 568.3,192.6 568.3,189.4 568.3,191.7 568.4,191.3 568.4,181.4 568.4,204.1 568.5,194 568.5,189.8 568.5,197 568.6,202.5 568.6,188.8 568.6,192.7 568.7,201.7 568.7,190.9 568.7,208.9 568.8,197.6 568.8,194.9 568.8,200.4 568.9,196 568.9,200.6 568.9,199.2 569,200.8 569,193.1 569,197.7 569.1,191 569.1,189.6 569.1,200.3 569.2,188.7 569.2,194.5 569.2,198.5 569.3,198.5 569.3,195.7 569.3,199.5 569.4,207.1 569.4,198.3 569.4,194.4 569.5,200.3 569.5,200.7 569.5,190.8 569.6,198.1 569.6,194.3 569.6,203.4 569.7,194.7 569.7,195 569.7,197 569.8,206.8 569.8,197.8 569.8,190.5 569.9,193.5 569.9,190.7 569.9,196.5 570,191.3 570,199.2 570,185 570.1,193.7 570.1,200.7 570.1,196.6 570.2,189.3 570.2,196.4 570.2,194.4 570.3,197 570.3,192.4 570.3,194.3 570.4,191.1 570.4,198.8 570.4,195.1 570.5,195.5 570.5,206.1 570.5,194.6 570.6,194.8 570.6,202.4 570.6,200 570.7,199.5 570.7,197.2 570.7,197.9 570.8,203.2 570.8,188.7 570.8,188.4 570.9,192.5 570.9,187.6 570.9,189.6 571,186.4 571,192.8 571,194.7 571.1,197.4 571.1,198.5 571.1,194.8 571.2,197.5 571.2,200.9 571.2,193.9 571.3,194.1 571.3,190 571.3,195.7 571.4,187.7 571.4,198.3 571.4,196 571.5,194.5 571.5,202.6 571.5,193.8 571.6,196.4 571.6,194.9 571.6,201.3 571.7,190.6 571.7,196.4 571.7,196.9 571.8,197.5 571.8,188.6 571.8,198.6 571.9,199.9 571.9,197.9 571.9,205.5 572,194.1 572,204.4 572,197.8 572.1,196 572.1,202.7 572.1,192.4 572.2,201 572.2,195.8 572.2,203.2 572.3,192.3 572.3,199 572.3,199.1 572.4,192.3 572.4,191.7 572.4,194.7 572.5,199.2 572.5,192.7 572.5,187.5 572.6,189 572.6,201.4 572.6,192.3 572.7,194.9 572.7,198.6 572.7,183.1 572.8,189.7 572.8,196.6 572.8,185.1 572.9,190.8 572.9,199.3 572.9,196.2 573,192.7 573,196.3 573,199.9 573.1,199.3 573.1,193.3 573.1,200.7 573.2,189.2 573.2,191.5 573.2,200.2 573.3,191.6 573.3,188.8 573.3,197.4 573.4,194.8 573.4,189.6 573.4,191.6 573.5,200.7 573.5,192.8 573.5,198 573.6,197.6 573.6,201.5 573.6,193.1 573.7,190.3 573.7,188.5 573.7,188.1 573.8,190.8 573.8,201.8 573.8,190.6 573.9,195.8 573.9,197.7 573.9,195.5 574,197.7 574,208.7 574,193.4 574.1,197.8 574.1,202.6 574.1,194.4 574.2,204.6 574.2,197.4 574.2,200.2 574.3,195 574.3,199.4 574.3,193.9 574.4,191.4 574.4,202.4 574.4,191.7 574.5,193.6 574.5,198.4 574.5,197.7 574.6,200.7 574.6,195.7 574.6,194.4 574.7,192.6 574.7,198.2 574.7,191.9 574.8,198 574.8,198.3 574.8,189.7 574.9,189.3 574.9,194.2 574.9,197.9 575,199.8 575,194.8 575,196.5 575.1,199.1 575.1,196 575.1,193.6 575.2,206.5 575.2,197.8 575.2,196.5 575.3,198.2 575.3,203.5 575.3,196.2 575.4,197.6 575.4,194.3 575.4,198.7 575.5,199.6 575.5,194.6 575.5,193.3 575.6,200.3 575.6,194.6 575.6,189.1 575.7,195 575.7,191.1 575.7,194.1 575.8,202.6 575.8,195 575.8,198.2 575.9,196.9 575.9,194.5 575.9,185.8 576,200.2 576,197.2 576,200 576.1,192.4 576.1,190.8 576.1,194.9 576.2,183.8 576.2,189.9 576.2,191.8 576.3,194.3 576.3,197.3 576.3,193.5 576.4,197.4 576.4,200.7 576.4,198 576.5,197.8 576.5,200.4 576.5,193.9 576.6,202.4 576.6,198.9 576.6,199.4 576.7,194.9 576.7,191 576.7,196.5 576.8,201.8 576.8,198.1 576.8,191.2 576.9,198.5 576.9,194.7 576.9,193.5 577,195.2 577,194.7 577,197.4 577.1,193 577.1,197.2 577.1,193.7 577.2,197.9 577.2,199.7 577.2,197.8 577.3,190.3 577.3,196.7 577.3,193.8 577.4,197.9 577.4,196.3 577.4,197.6 577.5,194.2 577.5,199.4 577.5,190.9 577.6,201.1 577.6,195.2 577.6,202.4 577.7,195.3 577.7,199.5 577.7,191.6 577.8,195.4 577.8,188.5 577.8,195 577.9,192.9 577.9,196.1 577.9,188.1 578,197.8 578,194.5 578,195 578.1,202.5 578.1,192.9 578.1,200.6 578.2,193 578.2,195 578.2,195.8 578.3,193.6 578.3,197.6 578.3,189.8 578.4,196.2 578.4,200.3 578.4,196.2 578.5,191.7 578.5,200.6 578.5,196.2 578.6,199.1 578.6,190.5 578.6,198.9 578.7,196.8 578.7,195 578.7,194.8 578.8,195.3 578.8,201.7 578.8,195 578.9,197.7 578.9,208.5 578.9,190.9 579,190.2 579,194.5 579,192.8 579.1,196.6 579.1,199 579.1,186.3 579.2,198.5 579.2,195 579.2,193 579.3,196 579.3,194 579.3,195.6 579.4,192.1 579.4,198 579.4,192.4 579.5,191.2 579.5,192.9 579.5,195.4 579.6,192.4 579.6,190.1 579.6,196.1 579.7,189.8 579.7,189.6 579.7,189.5 579.8,198 579.8,190.3 579.8,197.7 579.9,192.8 579.9,197.5 579.9,195.7 580,195.9 580,193.6 580,199.4 580.1,202.2 580.1,195.3 580.1,193.5 580.2,205.5 580.2,198.1 580.2,190 580.3,194.6 580.3,191.1 580.3,191.3 580.4,189.2 580.4,198.3 580.4,192.8 580.5,206.5 580.5,192.9 580.5,198.3 580.6,199.6 580.6,200.5 580.6,195.4 580.7,192.2 580.7,196 580.7,195.1 580.8,191.2 580.8,197.6 580.8,193.8 580.9,193.7 580.9,199.7 580.9,207.7 581,187 581,182.5 581,192.3 581.1,189.8 581.1,196.1 581.1,194.1 581.2,202 581.2,191.8 581.2,192 581.3,198.7 581.3,197 581.3,198 581.4,185.9 581.4,191.5 581.4,194.1 581.5,201.7 581.5,196.1 581.5,199.8 581.6,192.6 581.6,193.6 581.6,195.9 581.7,195.8 581.7,190.2 581.7,196.7 581.8,191.7 581.8,193.3 581.8,188.6 581.9,193.5 581.9,194.3 581.9,198.1 582,194.3 582,190.8 582,186.9 582.1,192.9 582.1,188.2 582.1,199 582.2,196.7 582.2,185.4 582.2,193.5 582.3,191.2 582.3,194.5 582.3,194.8 582.4,192 582.4,193.7 582.4,191.2 582.5,196.4 582.5,196.4 582.5,201.6 582.6,196.8 582.6,191.7 582.6,196.9 582.7,193.8 582.7,188 582.7,188.6 582.8,192.8 582.8,197.8 582.8,197.1 582.9,190.6 582.9,194.5 582.9,193.7 583,191.1 583,196.1 583,196.4 583.1,201.6 583.1,193 583.1,189.8 583.2,194.7 583.2,193.4 583.2,195.9 583.3,183.1 583.3,190.2 583.3,193.4 583.4,193.2 583.4,197.5 583.4,193 583.5,190 583.5,188.6 583.5,192 583.6,185.4 583.6,194.9 583.6,190.6 583.7,196.9 583.7,187.1 583.7,197.8 583.8,192.9 583.8,192.4 583.8,198.6 583.9,202.9 583.9,192.8 583.9,199 584,198.2 584,199.6 584,199 584.1,198.6 584.1,196.2 584.1,196.9 584.2,197.5 584.2,194 584.2,194.3 584.3,194.3 584.3,198.2 584.3,198.2 584.4,202.4 584.4,189.9 584.4,196.8 584.5,188.1 584.5,201.5 584.5,195.9 584.6,196.4 584.6,191.2 584.6,195.1 584.7,195.1 584.7,192.9 584.7,187.1 584.8,194 584.8,193.8 584.8,195.6 584.9,191.4 584.9,194.5 584.9,197.6 585,202.4 585,203.2 585,198.4 585.1,197.1 585.1,197.8 585.1,190.2 585.2,194 585.2,192.3 585.2,194.4 585.3,195 585.3,199.4 585.3,198 585.4,195.5 585.4,203.9 585.4,186.8 585.5,188.6 585.5,194.2 585.5,197.9 585.6,188.5 585.6,195.4 585.6,194.7 585.7,202.7 585.7,195.4 585.7,198.7 585.8,201.8 585.8,191.7 585.8,198.1 585.9,196.4 585.9,197.7 585.9,192.1 586,195.7 586,199.9 586,194.6 586.1,190.8 586.1,203.1 586.1,201.1 586.2,195.7 586.2,196.4 586.2,195.9 586.3,196.4 586.3,191.3 586.3,201.7 586.4,193.6 586.4,189.9 586.4,190.2 586.5,194.4 586.5,191.5 586.5,197.4 586.6,198.1 586.6,196.4 586.6,199.8 586.7,201.3 586.7,195.5 586.7,185.5 586.8,194.6 586.8,193.2 586.8,198.1 586.9,187 586.9,194.6 586.9,198.2 587,193 587,193.8 587,200.7 587.1,194.8 587.1,199.6 587.1,195.3 587.2,193.2 587.2,195.1 587.2,195.4 587.3,193.4 587.3,188.1 587.3,193.8 587.4,195.6 587.4,192.1 587.4,196.9 587.5,195.5 587.5,196.5 587.5,198.2 587.6,193.6 587.6,193 587.6,194.2 587.7,192.1 587.7,197.3 587.7,198 587.8,192.3 587.8,194.9 587.8,198.9 587.9,196.8 587.9,196.9 587.9,199.1 588,199.5 588,192.5 588,197.3 588.1,187.5 588.1,192.6 588.1,191.6 588.2,197.4 588.2,201.8 588.2,196.4 588.3,192.7 588.3,199 588.3,193.2 588.4,191.5 588.4,194.9 588.4,192.9 588.5,194.1 588.5,200.1 588.5,194.3 588.6,185 588.6,194.7 588.6,200.1 588.7,186.1 588.7,191.8 588.7,191.6 588.8,196.8 588.8,192.6 588.8,198.5 588.9,194.7 588.9,195.8 588.9,190.1 589,193.4 589,201.7 589,196.4 589.1,198.1 589.1,197.8 589.1,196.6 589.2,200.3 589.2,192.8 589.2,196.2 589.3,199.2 589.3,197.2 589.3,194.1 589.4,190.2 589.4,200.1 589.4,192.3 589.5,199.2 589.5,194 589.5,195.7 589.6,193.5 589.6,200.5 589.6,195.1 589.7,196.9 589.7,196.6 589.7,199.2 589.8,194.3 589.8,192 589.8,197.5 589.9,197.6 589.9,193.6 589.9,194.1 590,196 590,199.9 590,198 590.1,190.6 590.1,195.5 590.1,196.4 590.2,187.5 590.2,194.8 590.2,196.8 590.3,197.3 590.3,196.9 590.3,197.5 590.4,198.9 590.4,198.4 590.4,195.4 590.5,200.5 590.5,190.6 590.5,202.4 590.6,192.5 590.6,196 590.6,198.9 590.7,194 590.7,194.4 590.7,196 590.8,193.7 590.8,197.9 590.8,197.3 590.9,196 590.9,196 590.9,193.4 591,197 591,193.3 591,194.2 591.1,187.2 591.1,193 591.1,193.3 591.2,194.1 591.2,196 591.2,197.7 591.3,203.7 591.3,193.2 591.3,195.6 591.4,197.8 591.4,193.6 591.4,197.5 591.5,194.7 591.5,189.2 591.5,198.4 591.6,195.3 591.6,194.4 591.6,194.4 591.7,198.9 591.7,202.2 591.7,185.7 591.8,198.2 591.8,199.1 591.8,193.9 591.9,184.8 591.9,191.6 591.9,199 592,204.2 592,190.7 592,191.4 592.1,198.3 592.1,198.3 592.1,192.8 592.2,199.8 592.2,194.9 592.2,195.6 592.3,196.6 592.3,195.5 592.3,189 592.4,189.9 592.4,188.8 592.4,197.5 592.5,196.2 592.5,194.4 592.5,196.4 592.6,198.2 592.6,193.8 592.6,194.2 592.7,197.9 592.7,192.6 592.7,194.7 592.8,194.8 592.8,204.4 592.8,193.9 592.9,187.7 592.9,189.7 592.9,205.8 593,201.7 593,195.6 593,192.5 593.1,197.4 593.1,195 593.1,194.7 593.2,192.9 593.2,195.9 593.2,192.1 593.3,193.6 593.3,190.2 593.3,195 593.4,196.5 593.4,191.6 593.4,195 593.5,198 593.5,188.7 593.5,196.7 593.6,198.9 593.6,199.1 593.6,193.3 593.7,194 593.7,185.4 593.7,196.7 593.8,200.2 593.8,196.3 593.8,197.5 593.9,191.1 593.9,198.2 593.9,196 594,195.5 594,195.8 594,201.2 594.1,202.3 594.1,197.7 594.1,191.1 594.2,193.2 594.2,192.6 594.2,201.7 594.3,199 594.3,196.6 594.3,195.4 594.4,193.5 594.4,199.8 594.4,198.8 594.5,195.7 594.5,190 594.5,201.2 594.6,193.9 594.6,195.9 594.6,193 594.7,194.2 594.7,191.2 594.7,197 594.8,196.9 594.8,195.6 594.8,197.5 594.9,198.4 594.9,190 594.9,191 595,192.7 595,192 595,188.3 595.1,183.5 595.1,199 595.1,197.7 595.2,193.7 595.2,195.4 595.2,191.6 595.3,198.1 595.3,194.4 595.3,191.4 595.4,198.2 595.4,196.2 595.4,194.1 595.5,194.2 595.5,194.8 595.5,194 595.6,193.9 595.6,196.9 595.6,197.4 595.7,190.8 595.7,197.2 595.7,196.4 595.8,196.8 595.8,196.3 595.8,185.3 595.9,204.2 595.9,199.2 595.9,193.5 596,195.3 596,195.7 596,200 596.1,194.5 596.1,194.8 596.1,194.9 596.2,195.9 596.2,195.6 596.2,196.5 596.3,186.9 596.3,195.9 596.3,198.3 596.4,198.6 596.4,204.7 596.4,196 596.5,199 596.5,197.2 596.5,181.4 596.6,200.1 596.6,194.1 596.6,191.4 596.7,196.5 596.7,198.9 596.7,195.3 596.8,199.7 596.8,190.9 596.8,198.6 596.9,197.2 596.9,198.5 596.9,186 597,194.3 597,190.2 597,191.5 597.1,199.1 597.1,194.6 597.1,198.1 597.2,198 597.2,189.2 597.2,204.4 597.3,188.5 597.3,208.9 597.3,201.3 597.4,202.2 597.4,196.8 597.4,193.1 597.5,194.3 597.5,197.6 597.5,193.1 597.6,194.5 597.6,198.4 597.6,192.4 597.7,192.1 597.7,195.3 597.7,206 597.8,198.7 597.8,195.5 597.8,186.3 597.9,192.4 597.9,196.4 597.9,192.4 598,195.2 598,190.9 598,194 598.1,191.4 598.1,192.5 598.1,195.5 598.2,198.8 598.2,197.6 598.2,185.7 598.3,195.1 598.3,196.8 598.3,197 598.4,194.8 598.4,185.5 598.4,199.4 598.5,198 598.5,193.1 598.5,196.2 598.6,199.3 598.6,194.1 598.6,194.9 598.7,196.6 598.7,185.8 598.7,198.2 598.8,201.4 598.8,201.2 598.8,192.7 598.9,199.6 598.9,196.1 598.9,196.4 599,200 599,194.9 599,195.7 599.1,195.7 599.1,192.1 599.1,194.9 599.2,197.2 599.2,200.3 599.2,202.9 599.3,195 599.3,193.7 599.3,190.8 599.4,197.4 599.4,200.3 599.4,201.7 599.5,194.2 599.5,191.9 599.5,190.2 599.6,187 599.6,188.8 599.6,193.7 599.7,187.4 599.7,197.5 599.7,195.1 599.8,186.1 599.8,187.9 599.8,187.2 599.9,194.4 599.9,192.9 599.9,197.4 600,188.6 600,193.8 600,188.5 600.1,206.1 600.1,192 600.1,194.8 600.2,194.8 600.2,197 600.2,198 600.3,196.3 600.3,207.8 600.3,195.6 600.4,194.1 600.4,199.3 600.4,193.1 600.5,196 600.5,200.2 600.5,190.9 600.6,188.3 600.6,195.6 600.6,191.6 600.7,195.4 600.7,194 600.7,193.7 600.8,198.2 600.8,196.2 600.8,199.5 600.9,194.3 600.9,195.8 600.9,204 601,192.7 601,193.7 601,195.1 601.1,198.8 601.1,190.6 601.1,192.2 601.2,186.5 601.2,197.2 601.2,205.7 601.3,196.3 601.3,198.8 601.3,190.5 601.4,193.7 601.4,198.8 601.4,191.2 601.5,194.3 601.5,188.3 601.5,199.5 601.6,194.9 601.6,190.1 601.6,198.1 601.7,205.2 601.7,198.2 601.7,198.6 601.8,197.6 601.8,197.1 601.8,193.8 601.9,190.9 601.9,189.5 601.9,191.2 602,187.9 602,191.8 602,199.7 602.1,196.1 602.1,200.9 602.1,204.4 602.2,194.5 602.2,192.7 602.2,191.8 602.3,191.4 602.3,201.7 602.3,194.2 602.4,190.5 602.4,202.6 602.4,198.5 602.5,189.1 602.5,192.4 602.5,186.5 602.6,195 602.6,198.1 602.6,201.5 602.7,194 602.7,198.3 602.7,193.4 602.8,194.3 602.8,203.3 602.8,190.8 602.9,204.6 602.9,198.8 602.9,197.6 603,193.4 603,204.4 603,195.2 603.1,190.3 603.1,193.4 603.1,199 603.2,198.4 603.2,196.1 603.2,199.1 603.3,194.2 603.3,184.3 603.3,203.1 603.4,191.3 603.4,195.3 603.4,201.5 603.5,196.1 603.5,189.6 603.5,199.5 603.6,198.2 603.6,204 603.6,196.7 603.7,190.1 603.7,196.4 603.7,189.1 603.8,189.2 603.8,199.9 603.8,197.1 603.9,193.3 603.9,194.9 603.9,199.6 604,190.5 604,199.9 604,199 604.1,191.5 604.1,196.6 604.1,200.3 604.2,189.7 604.2,198.9 604.2,200.8 604.3,200.1 604.3,192.5 604.3,196 604.4,205 604.4,206.5 604.4,190.3 604.5,191.5 604.5,194.2 604.5,196.8 604.6,191 604.6,200.9 604.6,202.8 604.7,191.1 604.7,193.4 604.7,197.4 604.8,197.7 604.8,199.4 604.8,201.8 604.9,194.1 604.9,189.4 604.9,192 605,195.6 605,195.4 605,196.9 605.1,194.2 605.1,197.3 605.1,192.8 605.2,191.2 605.2,193.8 605.2,192.4 605.3,195.2 605.3,195.2 605.3,198.9 605.4,202 605.4,204.9 605.4,201.9 605.5,190.1 605.5,195.9 605.5,194.8 605.6,196.3 605.6,193.6 605.6,202.3 605.7,199.4 605.7,196.1 605.7,199.2 605.8,196.1 605.8,199.3 605.8,195 605.9,200 605.9,196.6 605.9,199.7 606,195.2 606,194.3 606,200.2 606.1,202.6 606.1,196.3 606.1,190.8 606.2,200.7 606.2,198.5 606.2,197.9 606.3,198.9 606.3,195.1 606.3,202.7 606.4,190.5 606.4,189.7 606.4,200.7 606.5,207.7 606.5,197.1 606.5,194.7 606.6,202 606.6,200.5 606.6,198.9 606.7,199 606.7,196.2 606.7,194.7 606.8,192.5 606.8,195.1 606.8,195 606.9,202.5 606.9,194.8 606.9,195.5 607,197.6 607,197.5 607,200.1 607.1,195.5 607.1,193.2 607.1,206.1 607.2,196.5 607.2,200.6 607.2,195.2 607.3,211.8 607.3,197.3 607.3,199.2 607.4,188 607.4,196.9 607.4,195.4 607.5,191.8 607.5,191.6 607.5,192.5 607.6,199.3 607.6,199.3 607.6,187.8 607.7,204.7 607.7,200.8 607.7,187.6 607.8,192 607.8,191.8 607.8,189.9 607.9,188 607.9,201.9 607.9,195.8 608,198.5 608,195 608,197.3 608.1,195.2 608.1,197.5 608.1,201.2 608.2,189.1 608.2,193.6 608.2,193.4 608.3,200.2 608.3,195.1 608.3,196 608.4,193.1 608.4,196.4 608.4,190.7 608.5,204.2 608.5,189.8 608.5,196.1 608.6,192.5 608.6,194.7 608.6,197.7 608.7,186.6 608.7,197 608.7,198.5 608.8,191 608.8,194.8 608.8,192.6 608.9,191.3 608.9,193 608.9,198 609,205.6 609,195.8" stroke="#231f20" stroke-width="1.5"/>
</g>
<path d="M76.5 428.7l7 7M83.5 428.7l-7 7M90.1 436l7 7M97.1 436l-7 7M103.6 443.3l7 7M110.6 443.3l-7 7M117.2 456.8l7 7M124.2 456.8l-7 7M130.7 451.8l7 7M137.7 451.8l-7 7M144.2 441.9l7 7M151.2 441.9l-7 7M157.8 430.2l7 7M164.8 430.2l-7 7M171.3 454.7l7 7M178.3 454.7l-7 7M184.8 441.2l7 7M191.8 441.2l-7 7M198.4 441.7l7 7M205.4 441.7l-7 7M211.9 438.7l7 7M218.9 438.7l-7 7M225.4 437.8l7 7M232.4 437.8l-7 7M239 431.9l7 7M246 431.9l-7 7M252.5 436.4l7 7M259.5 436.4l-7 7M266.1 436.2l7 7M273.1 436.2l-7 7M279.6 439.9l7 7M286.6 439.9l-7 7M293.1 443l7 7M300.1 443l-7 7M306.7 445.1l7 7M313.7 445.1l-7 7M320.2 444.6l7 7M327.2 444.6l-7 7M333.8 450.4l7 7M340.8 450.4l-7 7M347.3 450.4l7 7M354.3 450.4l-7 7M360.8 450.4l7 7M367.8 450.4l-7 7M374.4 451.2l7 7M381.4 451.2l-7 7M387.9 451.2l7 7M394.9 451.2l-7 7M401.4 450.9l7 7M408.4 450.9l-7 7M415 452.2l7 7M422 452.2l-7 7M428.5 452l7 7M435.5 452l-7 7M442.1 450.4l7 7M449.1 450.4l-7 7M455.6 450.9l7 7M462.6 450.9l-7 7M469.1 452.5l7 7M476.1 452.5l-7 7M482.7 452.2l7 7M489.7 452.2l-7 7M496.2 450.9l7 7M503.2 450.9l-7 7M509.7 450.9l7 7M516.7 450.9l-7 7M523.3 451.7l7 7M530.3 451.7l-7 7M536.8 450.9l7 7M543.8 450.9l-7 7M550.3 450.4l7 7M557.3 450.4l-7 7M563.9 450.4l7 7M570.9 450.4l-7 7M577.4 451.2l7 7M584.4 451.2l-7 7M591 450.4l7 7M598 450.4l-7 7M604.5 450.9l7 7M611.5 450.9l-7 7" stroke="#231f20" stroke-width="1.5" fill="none"/>
<path d="M99.1 474.5v-6.2M99.1 8v6.2M118.2 474.5v-6.2M118.2 8v6.2M131.7 474.5v-6.2M131.7 8v6.2M142.2 474.5v-6.2M142.2 8v6.2M150.8 474.5v-6.2M150.8 8v6.2M158 474.5v-6.2M158 8v6.2M164.3 474.5v-6.2M164.3 8v6.2M169.8 474.5v-6.2M169.8 8v6.2M207.4 474.5v-6.2M207.4 8v6.2M226.5 474.5v-6.2M226.5 8v6.2M240 474.5v-6.2M240 8v6.2M250.5 474.5v-6.2M250.5 8v6.2M259.1 474.5v-6.2M259.1 8v6.2M266.3 474.5v-6.2M266.3 8v6.2M272.6 474.5v-6.2M272.6 8v6.2M278.1 474.5v-6.2M278.1 8v6.2M315.7 474.5v-6.2M315.7 8v6.2M334.8 474.5v-6.2M334.8 8v6.2M348.3 474.5v-6.2M348.3 8v6.2M358.8 474.5v-6.2M358.8 8v6.2M367.4 474.5v-6.2M367.4 8v6.2M374.6 474.5v-6.2M374.6 8v6.2M380.9 474.5v-6.2M380.9 8v6.2M386.4 474.5v-6.2M386.4 8v6.2M424 474.5v-6.2M424 8v6.2M443.1 474.5v-6.2M443.1 8v6.2M456.6 474.5v-6.2M456.6 8v6.2M467.1 474.5v-6.2M467.1 8v6.2M475.7 474.5v-6.2M475.7 8v6.2M482.9 474.5v-6.2M482.9 8v6.2M489.2 474.5v-6.2M489.2 8v6.2M494.7 474.5v-6.2M494.7 8v6.2M532.3 474.5v-6.2M532.3 8v6.2M551.4 474.5v-6.2M551.4 8v6.2M564.9 474.5v-6.2M564.9 8v6.2M575.4 474.5v-6.2M575.4 8v6.2M584 474.5v-6.2M584 8v6.2M591.2 474.5v-6.2M591.2 8v6.2M597.5 474.5v-6.2M597.5 8v6.2M603 474.5v-6.2M603 8v6.2" stroke="#231f20" stroke-width="0.6" fill="none"/>
<path d="M66.5 474.5v-9.5M66.5 8v9.5M174.8 474.5v-9.5M174.8 8v9.5M283.1 474.5v-9.5M283.1 8v9.5M391.4 474.5v-9.5M391.4 8v9.5M499.7 474.5v-9.5M499.7 8v9.5M608 474.5v-9.5M608 8v9.5M66.5 474.5h9M608 474.5h-9M66.5 381.2h9M608 381.2h-9M66.5 287.9h9M608 287.9h-9M66.5 194.6h9M608 194.6h-9M66.5 101.3h9M608 101.3h-9M66.5 8h9M608 8h-9" stroke="#231f20" stroke-width="0.7" fill="none"/>
<rect x="66.5" y="8.0" width="541.5" height="466.5" fill="none" stroke="#231f20" stroke-width="1.3"/>
<g font-size="23" stroke-width="0.3">
<text x="58.6" y="482.1" text-anchor="end">0</text><text x="616.5" y="482.1">0</text><text x="58.6" y="388.8" text-anchor="end">2</text><text x="616.5" y="388.8">50</text><text x="58.6" y="295.5" text-anchor="end">4</text><text x="616.5" y="295.5">100</text><text x="58.6" y="202.2" text-anchor="end">6</text><text x="616.5" y="202.2">150</text><text x="58.6" y="108.9" text-anchor="end">8</text><text x="616.5" y="108.9">200</text><text x="58.6" y="15.6" text-anchor="end">10</text><text x="616.5" y="15.6">250</text><text x="66.5" y="501.5" text-anchor="middle">10<tspan dy="-8.5" font-size="17">0</tspan></text><text x="174.8" y="501.5" text-anchor="middle">10<tspan dy="-8.5" font-size="17">1</tspan></text><text x="283.1" y="501.5" text-anchor="middle">10<tspan dy="-8.5" font-size="17">2</tspan></text><text x="391.4" y="501.5" text-anchor="middle">10<tspan dy="-8.5" font-size="17">3</tspan></text><text x="499.7" y="501.5" text-anchor="middle">10<tspan dy="-8.5" font-size="17">4</tspan></text><text x="608" y="501.5" text-anchor="middle">10<tspan dy="-8.5" font-size="17">5</tspan></text>
</g>
<g font-size="100" stroke-width="1.3"><text transform="matrix(0.2344 0 0 0.2288 284.10 532.50)">Loadcycles</text><text transform="matrix(0 -0.2405 0.2360 0 16.70 307.62)">Slip</text><text transform="matrix(0 -0.2754 0.2229 0 16.58 261.24)" font-style="italic">s</text><text transform="matrix(0 -0.1901 0.1681 0 19.60 249.86)" font-style="italic">r</text><text transform="matrix(0 -0.2343 0.2279 0 16.80 232.87)">in</text><text transform="matrix(0 -0.2410 0.2261 0 16.00 208.53)">μ</text><text transform="matrix(0 -0.2451 0.2213 0 16.00 194.79)">m</text><text transform="matrix(0 -0.2453 0.2366 0 681.10 329.43)">Torque</text><text transform="matrix(0 -0.2455 0.2519 0 681.30 255.80)" font-style="italic">T</text><text transform="matrix(0 -0.2117 0.1832 0 684.60 239.19)" font-style="italic">R</text><text transform="matrix(0 -0.2411 0.2309 0 681.10 218.18)">in</text><text transform="matrix(0 -0.2343 0.2397 0 680.90 192.00)">N</text><text transform="matrix(0 -0.2290 0.2234 0 680.90 170.26)">m</text>

</g>
<g>
<rect x="452.1" y="17.7" width="144.4" height="103.1" fill="#fff" stroke="#231f20" stroke-width="1.3"/>
<path d="M459 32.9h38.5" stroke="#c7c8ca" stroke-width="1.3"/>
<path d="M459 55.1h38.5" stroke="#939598" stroke-width="1.3"/>
<path d="M459 77.3h38.5" stroke="#231f20" stroke-width="1.5"/>
<path d="M474.7 73.8l7 7M481.7 73.8l-7 7" stroke="#231f20" stroke-width="1.3"/>
<path d="M459 102.3h38.5" stroke="#231f20" stroke-width="1.8"/>
<g font-size="100" stroke-width="1.3"><text transform="matrix(0.2957 0 0 0.2125 518.63 36.59)" font-style="italic">s</text><text transform="matrix(0.1978 0 0 0.1410 529.44 39.70)" font-style="italic">plast</text><text transform="matrix(0.2870 0 0 0.1958 503.54 59.20)" font-style="italic">s</text><text transform="matrix(0.2102 0 0 0.1681 513.41 62.30)" font-style="italic">measure</text><text transform="matrix(0.2870 0 0 0.2062 506.84 80.89)" font-style="italic">s</text><text transform="matrix(0.1941 0 0 0.1410 516.80 83.00)" font-style="italic">grouped</text><text transform="matrix(0.2482 0 0 0.2305 509.47 108.60)">Torque</text></g>
</g>
</svg>
</body></html>
